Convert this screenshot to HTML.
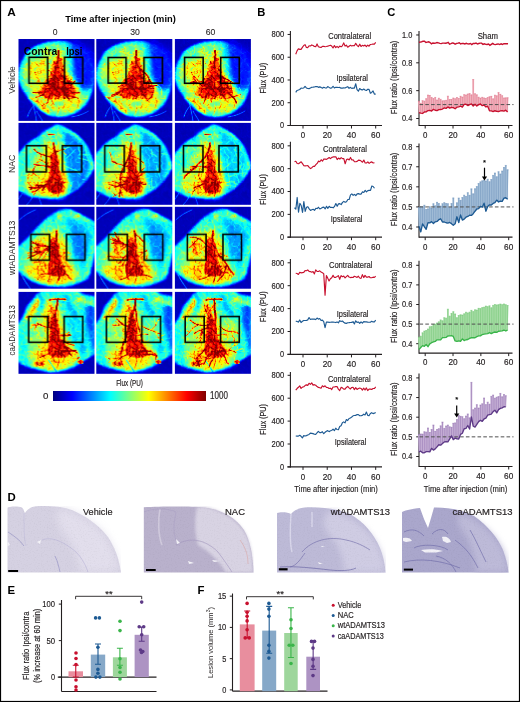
<!DOCTYPE html><html><head><meta charset="utf-8"><style>html,body{margin:0;padding:0;background:#fff;width:520px;height:702px;overflow:hidden}svg{display:block;font-family:"Liberation Sans",sans-serif;will-change:transform}</style></head><body>
<svg width="520" height="702" viewBox="0 0 520 702">
<defs>
<filter id="jet" x="0" y="0" width="1" height="1" color-interpolation-filters="sRGB">
<feTurbulence type="fractalNoise" baseFrequency="0.32" numOctaves="2" seed="4" result="n"/>
<feColorMatrix in="n" type="matrix" values="0.45 0 0 0 0.775 0.45 0 0 0 0.775 0.45 0 0 0 0.775 0 0 0 0 1" result="ng"/>
<feTurbulence type="fractalNoise" baseFrequency="0.13" numOctaves="2" seed="9" result="m"/>
<feColorMatrix in="m" type="matrix" values="0 0.45 0 0 0.775 0 0.45 0 0 0.775 0 0.45 0 0 0.775 0 0 0 0 1" result="mg"/>
<feComposite in="SourceGraphic" in2="ng" operator="arithmetic" k1="1" k2="0" k3="0" k4="0" result="s1"/>
<feComposite in="s1" in2="mg" operator="arithmetic" k1="1" k2="0" k3="0" k4="0" result="s2"/>
<feTurbulence type="turbulence" baseFrequency="0.15" numOctaves="2" seed="31" result="bt"/>
<feColorMatrix in="bt" type="matrix" values="-5 0 0 0 1 -5 0 0 0 1 -5 0 0 0 1 0 0 0 0 1" result="br"/>
<feComposite in="s2" in2="br" operator="arithmetic" k1="0.3" k2="1" k3="0" k4="0" result="s"/>
<feComponentTransfer in="s"><feFuncR type="table" tableValues="0 0 0 0 0 0 0 0.25 0.5 0.75 1 1 1 1 1 0.75 0.5"/><feFuncG type="table" tableValues="0 0 0 0.25 0.5 0.75 1 1 1 1 1 0.75 0.5 0.25 0 0 0"/><feFuncB type="table" tableValues="0.5 0.75 1 1 1 1 1 0.75 0.5 0.25 0 0 0 0 0 0 0"/><feFuncA type="linear" slope="0" intercept="1"/></feComponentTransfer>
<feGaussianBlur stdDeviation="0.45"/>
</filter>
<filter id="nzhi" x="-5" y="-5" width="90" height="95" filterUnits="userSpaceOnUse" color-interpolation-filters="sRGB">
<feTurbulence type="turbulence" baseFrequency="0.16" numOctaves="2" seed="5" result="t"/>
<feColorMatrix in="t" type="matrix" values="-4 0 0 0 1 -4 0 0 0 1 -4 0 0 0 1 0 0 0 0 1" result="rg"/>
<feComposite in="SourceGraphic" in2="rg" operator="arithmetic" k1="0.25" k2="1.0" k3="0" k4="0" result="s0"/>
<feTurbulence type="fractalNoise" baseFrequency="0.35" numOctaves="2" seed="17" result="n"/>
<feColorMatrix in="n" type="matrix" values="0.3 0 0 0 0.85 0.3 0 0 0 0.85 0.3 0 0 0 0.85 0 0 0 0 1" result="ng"/>
<feComposite in="s0" in2="ng" operator="arithmetic" k1="1" k2="0" k3="0" k4="0"/>
</filter>
<filter id="htex" x="0" y="0" width="1" height="1" color-interpolation-filters="sRGB"><feTurbulence type="fractalNoise" baseFrequency="0.7" numOctaves="2" seed="23" result="n"/><feColorMatrix in="n" type="matrix" values="0.1 0 0 0 0.95 0.1 0 0 0 0.95 0.1 0 0 0 0.95 0 0 0 0 1" result="ng"/><feComposite in="SourceGraphic" in2="ng" operator="arithmetic" k1="1" k2="0" k3="0" k4="0"/></filter>
<filter id="b0_6" x="-50%" y="-50%" width="200%" height="200%" color-interpolation-filters="sRGB"><feGaussianBlur stdDeviation="0.6"/></filter>
<filter id="b1" x="-50%" y="-50%" width="200%" height="200%" color-interpolation-filters="sRGB"><feGaussianBlur stdDeviation="1"/></filter>
<filter id="b1_5" x="-50%" y="-50%" width="200%" height="200%" color-interpolation-filters="sRGB"><feGaussianBlur stdDeviation="1.5"/></filter>
<filter id="b2" x="-50%" y="-50%" width="200%" height="200%" color-interpolation-filters="sRGB"><feGaussianBlur stdDeviation="2"/></filter>
<filter id="b3" x="-50%" y="-50%" width="200%" height="200%" color-interpolation-filters="sRGB"><feGaussianBlur stdDeviation="3"/></filter>
<filter id="b4" x="-50%" y="-50%" width="200%" height="200%" color-interpolation-filters="sRGB"><feGaussianBlur stdDeviation="4"/></filter>
<filter id="tb0_5" x="-10" y="-10" width="96" height="102" filterUnits="userSpaceOnUse" color-interpolation-filters="sRGB"><feGaussianBlur stdDeviation="0.5"/></filter>
<filter id="tb0_6" x="-10" y="-10" width="96" height="102" filterUnits="userSpaceOnUse" color-interpolation-filters="sRGB"><feGaussianBlur stdDeviation="0.6"/></filter>
<filter id="tb0_8" x="-10" y="-10" width="96" height="102" filterUnits="userSpaceOnUse" color-interpolation-filters="sRGB"><feGaussianBlur stdDeviation="0.8"/></filter>
<filter id="tb1" x="-10" y="-10" width="96" height="102" filterUnits="userSpaceOnUse" color-interpolation-filters="sRGB"><feGaussianBlur stdDeviation="1"/></filter>
<filter id="tb1_2" x="-10" y="-10" width="96" height="102" filterUnits="userSpaceOnUse" color-interpolation-filters="sRGB"><feGaussianBlur stdDeviation="1.2"/></filter>
<filter id="tb1_5" x="-10" y="-10" width="96" height="102" filterUnits="userSpaceOnUse" color-interpolation-filters="sRGB"><feGaussianBlur stdDeviation="1.5"/></filter>
<filter id="tb1_8" x="-10" y="-10" width="96" height="102" filterUnits="userSpaceOnUse" color-interpolation-filters="sRGB"><feGaussianBlur stdDeviation="1.8"/></filter>
<filter id="tb2" x="-10" y="-10" width="96" height="102" filterUnits="userSpaceOnUse" color-interpolation-filters="sRGB"><feGaussianBlur stdDeviation="2"/></filter>
<filter id="tb2_5" x="-10" y="-10" width="96" height="102" filterUnits="userSpaceOnUse" color-interpolation-filters="sRGB"><feGaussianBlur stdDeviation="2.5"/></filter>
<filter id="tb3" x="-10" y="-10" width="96" height="102" filterUnits="userSpaceOnUse" color-interpolation-filters="sRGB"><feGaussianBlur stdDeviation="3"/></filter>
<filter id="tb4" x="-10" y="-10" width="96" height="102" filterUnits="userSpaceOnUse" color-interpolation-filters="sRGB"><feGaussianBlur stdDeviation="4"/></filter>
<linearGradient id="jetg" x1="0" x2="1" y1="0" y2="0"><stop offset="0.0000" stop-color="rgb(0,0,127)"/><stop offset="0.0625" stop-color="rgb(0,0,191)"/><stop offset="0.1250" stop-color="rgb(0,0,255)"/><stop offset="0.1875" stop-color="rgb(0,63,255)"/><stop offset="0.2500" stop-color="rgb(0,127,255)"/><stop offset="0.3125" stop-color="rgb(0,191,255)"/><stop offset="0.3750" stop-color="rgb(0,255,255)"/><stop offset="0.4375" stop-color="rgb(63,255,191)"/><stop offset="0.5000" stop-color="rgb(127,255,127)"/><stop offset="0.5625" stop-color="rgb(191,255,63)"/><stop offset="0.6250" stop-color="rgb(255,255,0)"/><stop offset="0.6875" stop-color="rgb(255,191,0)"/><stop offset="0.7500" stop-color="rgb(255,127,0)"/><stop offset="0.8125" stop-color="rgb(255,63,0)"/><stop offset="0.8750" stop-color="rgb(255,0,0)"/><stop offset="0.9375" stop-color="rgb(191,0,0)"/><stop offset="1.0000" stop-color="rgb(127,0,0)"/></linearGradient>
</defs>
<rect x="0" y="0" width="520" height="702" fill="#fff"/>
<defs><clipPath id="cv"><path d="M24 10 C34 6 48 8 50 16 C50 30 52 40 64 48 C70 56 64 68 50 70 C40 72 24 70 12 62 C6 56 8 48 14 44 C20 40 22 20 24 10Z"/></clipPath><clipPath id="cn"><path d="M22 14 C30 10 40 14 44 24 C46 40 46 56 48 68 C44 76 30 76 14 74 C6 68 4 56 6 44 C8 32 14 20 22 14Z"/></clipPath><clipPath id="cw"><path d="M24 22 C34 18 44 22 48 34 C50 44 56 56 62 66 C56 76 30 78 12 72 C6 64 8 48 12 36 C14 28 18 24 24 22Z"/></clipPath><clipPath id="cnr"><path d="M45 8 C56 12 66 20 70 32 C74 44 68 58 58 66 C52 70 48 72 46 70Z"/></clipPath><clipPath id="call"><path d="M4 4 L72 4 L72 76 L4 76Z"/></clipPath><clipPath id="cc"><path d="M26 4 C36 2 46 6 48 20 C50 40 56 56 62 66 C54 76 34 78 14 74 C6 66 8 50 12 36 C16 24 20 10 26 4Z"/></clipPath></defs>
<g transform="translate(18.5,39)">
<svg width="76" height="81.9" viewBox="0 0 76 82" preserveAspectRatio="none" overflow="hidden"><g filter="url(#jet)"><rect width="76" height="82" fill="#0f0f0f"/>
<path d="M53 78 C58 77 64 76 70 72" fill="none" stroke="#4c4c4c" stroke-width="0.9" stroke-linecap="round" filter="url(#tb0_6)"/>
<path d="M14 62 C15 68 17 74 18 82 M16 66 C12 70 10 74 9 78 M18 72 C20 76 22 78 24 82" fill="none" stroke="#545454" stroke-width="0.8" stroke-linecap="round" filter="url(#tb0_6)"/>
<path d="M38 2 C56 1 72 14 75 32 C77 46 73 58 67 66 C59 75 48 79 38 78 C26 77 15 67 9 58 C3 50 -1 42 0 35 C1 23 7 14 14 9 C20 5 30 2 38 2Z" fill="#696969" filter="url(#tb0_8)" />
<path d="M36 6 C46 5 54 12 56 22 C58 36 56 48 66 56 C68 62 60 70 50 74 C40 76 28 72 18 62 C10 54 5 44 5 36 C6 24 12 14 20 10 C26 8 30 6 36 6Z" fill="#858585" filter="url(#tb1_5)" />
<path d="M10 48 C20 56 30 66 40 72 C50 74 62 68 68 58 C66 50 56 48 50 52 C40 56 30 50 20 44Z" fill="#999999" filter="url(#tb2)" />
<path d="M8 30 C12 22 18 18 26 20 C30 28 28 36 26 44 C20 46 12 44 8 40Z" fill="#9e9e9e" filter="url(#tb2)" />
<ellipse cx="16" cy="16" rx="8" ry="5" fill="#737373" filter="url(#tb2)"/>
<path d="M52 1 C62 3 72 10 78 20 L78 46 C72 52 64 52 58 48 C54 41 51 31 51 20Z" fill="#262626" filter="url(#tb3)" />
<ellipse cx="51" cy="28" rx="3.5" ry="17" fill="#616161" filter="url(#tb2)"/>
<ellipse cx="40" cy="65" rx="9" ry="4" fill="#787878" filter="url(#tb2)"/>
<g filter="url(#nzhi)">
<path d="M16 52 C22 42 28 38 30 30 C30 22 34 14 40 14 C46 14 48 22 48 30 C50 38 58 44 60 50 C62 56 56 61 48 60 C42 59 38 63 34 63 C28 63 20 60 17 56Z" fill="#b2b2b2" filter="url(#tb2_5)" />
<path d="M22 52 C26 44 32 40 34 32 C36 24 38 18 42 20 C46 26 46 34 48 40 C54 44 60 50 58 56 C54 60 46 58 42 60 C36 62 28 60 22 56Z" fill="#cccccc" filter="url(#tb1_5)" />
<path d="M24 50 C28 44 34 42 36 36 C38 30 40 28 42 30 C44 34 44 40 48 44 C52 48 54 52 52 55 C48 57 44 56 40 57 C34 58 28 56 24 54Z" fill="#e6e6e6" filter="url(#tb1_2)" />
<path d="M12 58 C18 62 24 66 30 72" fill="none" stroke="#cccccc" stroke-width="3" stroke-linecap="round" filter="url(#tb1)"/>
<path d="M46 62 L58 58 M48 68 L62 62 M40 70 L48 66 M22 68 L30 74 M30 64 L36 70 M52 72 L60 68" fill="none" stroke="#c7c7c7" stroke-width="2.2" stroke-linecap="round" filter="url(#tb0_8)"/>
<path d="M18 26 L26 22 M14 34 L24 32 M30 16 L26 10" fill="none" stroke="#bdbdbd" stroke-width="1.2" stroke-linecap="round" filter="url(#tb0_6)"/>
<g clip-path="url(#cv)"><g filter="url(#tb0_6)"><path d="M40.0 12.0 L40.1 14.5 L40.1 17.0 L39.4 19.4 L38.8 21.8 L38.2 24.3 L37.5 26.7 L37.2 29.1 L36.9 31.6 L36.4 34.1 L35.5 36.4 L35.2 38.9 L35.2 41.4 L35.8 43.8 L35.9 46.3 L35.7 48.8 L36.3 51.3" fill="none" stroke="#fafafa" stroke-width="1.80" stroke-linecap="round" stroke-linejoin="round"/><path d="M35.7 48.8 L38.3 49.4 L40.9 49.3 L43.5 49.8 L46.1 50.5 L48.5 51.6 L51.0 52.4 L53.4 53.3 L56.0 53.8 L58.6 53.9 L61.2 53.6" fill="none" stroke="#fafafa" stroke-width="1.26" stroke-linecap="round" stroke-linejoin="round"/><path d="M40.9 49.3 L42.9 51.5 L44.3 54.0 L46.3 56.1 L48.6 57.9 L50.5 60.1" fill="none" stroke="#fafafa" stroke-width="0.88" stroke-linecap="round" stroke-linejoin="round"/><path d="M35.5 36.4 L37.3 38.3 L38.6 40.5 L40.0 42.6 L40.9 45.0 L41.2 47.6 L42.2 49.9 L43.7 52.0 L44.6 54.4 L45.5 56.8 L45.7 59.4" fill="none" stroke="#fafafa" stroke-width="1.26" stroke-linecap="round" stroke-linejoin="round"/><path d="M43.7 52.0 L45.5 53.8 L47.5 55.4 L49.7 56.8 L52.1 57.5 L54.6 58.1" fill="none" stroke="#fafafa" stroke-width="0.88" stroke-linecap="round" stroke-linejoin="round"/><path d="M38.6 40.5 L41.0 42.3 L43.2 44.5 L45.6 46.2 L48.1 48.1" fill="none" stroke="#fafafa" stroke-width="0.88" stroke-linecap="round" stroke-linejoin="round"/><path d="M44.6 54.4 L47.2 55.4 L49.8 56.1 L52.5 56.6 L54.9 58.0 L57.6 58.5 L60.1 59.6" fill="none" stroke="#fafafa" stroke-width="0.88" stroke-linecap="round" stroke-linejoin="round"/><path d="M35.5 36.4 L37.0 38.7 L38.3 41.1 L40.1 43.2 L41.2 45.7 L42.8 47.9 L44.7 50.0 L46.2 52.2 L47.9 54.4" fill="none" stroke="#fafafa" stroke-width="1.26" stroke-linecap="round" stroke-linejoin="round"/><path d="M46.2 52.2 L48.6 53.5 L51.3 54.1 L54.1 54.4 L56.8 54.9" fill="none" stroke="#fafafa" stroke-width="0.88" stroke-linecap="round" stroke-linejoin="round"/><path d="M40.1 43.2 L39.5 45.8 L38.6 48.3 L38.1 50.9 L38.0 53.5" fill="none" stroke="#fafafa" stroke-width="0.88" stroke-linecap="round" stroke-linejoin="round"/></g></g>
<g clip-path="url(#cv)"><g filter="url(#tb0_6)"><path d="M38.0 50.0 L35.5 50.9 L32.9 51.6 L30.3 52.0 L27.7 52.5 L25.1 53.4 L22.5 53.8 L19.9 53.8 L17.2 53.7 L14.5 53.7" fill="none" stroke="#fafafa" stroke-width="1.60" stroke-linecap="round" stroke-linejoin="round"/><path d="M35.5 50.9 L34.0 53.4 L32.2 55.5 L30.6 58.0 L29.5 60.6 L29.2 63.5" fill="none" stroke="#fafafa" stroke-width="1.12" stroke-linecap="round" stroke-linejoin="round"/><path d="M29.2 63.5 L27.7 65.5 L26.6 67.8 L25.0 69.8" fill="none" stroke="#fafafa" stroke-width="0.78" stroke-linecap="round" stroke-linejoin="round"/><path d="M30.6 58.0 L32.7 60.3 L34.1 63.1 L35.6 65.8" fill="none" stroke="#fafafa" stroke-width="0.78" stroke-linecap="round" stroke-linejoin="round"/><path d="M29.2 63.5 L26.2 65.2 L23.2 67.0" fill="none" stroke="#fafafa" stroke-width="0.78" stroke-linecap="round" stroke-linejoin="round"/><path d="M27.7 52.5 L25.6 54.7 L23.1 56.3 L20.3 57.6 L17.4 58.4" fill="none" stroke="#fafafa" stroke-width="1.12" stroke-linecap="round" stroke-linejoin="round"/><path d="M25.6 54.7 L22.8 52.9 L19.8 51.7" fill="none" stroke="#fafafa" stroke-width="0.78" stroke-linecap="round" stroke-linejoin="round"/></g></g>
<g clip-path="url(#cv)"><g filter="url(#tb0_6)"><path d="M41.0 50.0 L43.7 49.6 L46.3 48.6 L48.8 47.4 L51.4 46.5 L53.7 45.1 L55.7 43.2 L57.3 41.0 L59.2 39.0" fill="none" stroke="#fafafa" stroke-width="1.60" stroke-linecap="round" stroke-linejoin="round"/><path d="M43.7 49.6 L44.1 47.1 L44.3 44.5 L45.3 42.1 L45.7 39.6 L45.3 37.0" fill="none" stroke="#fafafa" stroke-width="1.12" stroke-linecap="round" stroke-linejoin="round"/><path d="M45.3 42.1 L42.9 39.6 L40.2 37.4" fill="none" stroke="#fafafa" stroke-width="0.78" stroke-linecap="round" stroke-linejoin="round"/><path d="M44.3 44.5 L46.6 43.4 L49.0 42.7 L51.3 41.8" fill="none" stroke="#fafafa" stroke-width="0.78" stroke-linecap="round" stroke-linejoin="round"/><path d="M44.3 44.5 L41.3 44.6 L38.4 44.2 L35.6 43.2" fill="none" stroke="#fafafa" stroke-width="0.78" stroke-linecap="round" stroke-linejoin="round"/><path d="M51.4 46.5 L50.0 44.1 L48.7 41.6 L47.1 39.4 L45.0 37.6 L42.6 36.1" fill="none" stroke="#fafafa" stroke-width="1.12" stroke-linecap="round" stroke-linejoin="round"/><path d="M42.6 36.1 L42.0 33.3 L40.9 30.7 L40.3 27.9" fill="none" stroke="#fafafa" stroke-width="0.78" stroke-linecap="round" stroke-linejoin="round"/><path d="M50.0 44.1 L51.2 41.7 L53.0 39.6 L54.4 37.3" fill="none" stroke="#fafafa" stroke-width="0.78" stroke-linecap="round" stroke-linejoin="round"/></g></g>
<g clip-path="url(#cv)"><g filter="url(#tb0_6)"><path d="M38.0 36.0 L35.6 37.4 L33.5 39.3 L31.7 41.5 L29.5 43.2 L27.2 44.8" fill="none" stroke="#f7f7f7" stroke-width="1.10" stroke-linecap="round" stroke-linejoin="round"/><path d="M27.2 44.8 L24.4 44.1 L21.7 42.9 L19.1 41.4" fill="none" stroke="#f7f7f7" stroke-width="0.77" stroke-linecap="round" stroke-linejoin="round"/><path d="M35.6 37.4 L33.7 34.8 L31.5 32.4 L29.0 30.4" fill="none" stroke="#f7f7f7" stroke-width="0.77" stroke-linecap="round" stroke-linejoin="round"/></g></g>
</g>
</g>
<rect x="10.5" y="18.3" width="18.7" height="26" fill="none" stroke="#000" stroke-width="1.6"/>
<rect x="46" y="18.3" width="18.3" height="26" fill="none" stroke="#000" stroke-width="1.6"/>
</svg></g>
<g transform="translate(96.3,39)">
<svg width="76" height="81.9" viewBox="0 0 76 82" preserveAspectRatio="none" overflow="hidden"><g filter="url(#jet)"><rect width="76" height="82" fill="#0f0f0f"/>
<path d="M53 78 C58 77 64 76 70 72" fill="none" stroke="#4c4c4c" stroke-width="0.9" stroke-linecap="round" filter="url(#tb0_6)"/>
<path d="M14 62 C15 68 17 74 18 82 M16 66 C12 70 10 74 9 78 M18 72 C20 76 22 78 24 82" fill="none" stroke="#545454" stroke-width="0.8" stroke-linecap="round" filter="url(#tb0_6)"/>
<path d="M38 2 C56 1 72 14 75 32 C77 46 73 58 67 66 C59 75 48 79 38 78 C26 77 15 67 9 58 C3 50 -1 42 0 35 C1 23 7 14 14 9 C20 5 30 2 38 2Z" fill="#696969" filter="url(#tb0_8)" />
<path d="M36 6 C46 5 54 12 56 22 C58 36 56 48 66 56 C68 62 60 70 50 74 C40 76 28 72 18 62 C10 54 5 44 5 36 C6 24 12 14 20 10 C26 8 30 6 36 6Z" fill="#858585" filter="url(#tb1_5)" />
<path d="M10 48 C20 56 30 66 40 72 C50 74 62 68 68 58 C66 50 56 48 50 52 C40 56 30 50 20 44Z" fill="#999999" filter="url(#tb2)" />
<path d="M8 30 C12 22 18 18 26 20 C30 28 28 36 26 44 C20 46 12 44 8 40Z" fill="#9e9e9e" filter="url(#tb2)" />
<ellipse cx="16" cy="16" rx="8" ry="5" fill="#737373" filter="url(#tb2)"/>
<path d="M52 1 C62 3 72 10 78 20 L78 46 C72 52 64 52 58 48 C54 41 51 31 51 20Z" fill="#262626" filter="url(#tb3)" />
<ellipse cx="51" cy="28" rx="3.5" ry="17" fill="#616161" filter="url(#tb2)"/>
<ellipse cx="40" cy="65" rx="9" ry="4" fill="#787878" filter="url(#tb2)"/>
<g filter="url(#nzhi)">
<path d="M16 52 C22 42 28 38 30 30 C30 22 34 14 40 14 C46 14 48 22 48 30 C50 38 58 44 60 50 C62 56 56 61 48 60 C42 59 38 63 34 63 C28 63 20 60 17 56Z" fill="#b2b2b2" filter="url(#tb2_5)" />
<path d="M22 52 C26 44 32 40 34 32 C36 24 38 18 42 20 C46 26 46 34 48 40 C54 44 60 50 58 56 C54 60 46 58 42 60 C36 62 28 60 22 56Z" fill="#cccccc" filter="url(#tb1_5)" />
<path d="M24 50 C28 44 34 42 36 36 C38 30 40 28 42 30 C44 34 44 40 48 44 C52 48 54 52 52 55 C48 57 44 56 40 57 C34 58 28 56 24 54Z" fill="#e6e6e6" filter="url(#tb1_2)" />
<path d="M12 58 C18 62 24 66 30 72" fill="none" stroke="#cccccc" stroke-width="3" stroke-linecap="round" filter="url(#tb1)"/>
<path d="M46 62 L58 58 M48 68 L62 62 M40 70 L48 66 M22 68 L30 74 M30 64 L36 70 M52 72 L60 68" fill="none" stroke="#c7c7c7" stroke-width="2.2" stroke-linecap="round" filter="url(#tb0_8)"/>
<path d="M18 26 L26 22 M14 34 L24 32 M30 16 L26 10" fill="none" stroke="#bdbdbd" stroke-width="1.2" stroke-linecap="round" filter="url(#tb0_6)"/>
<g clip-path="url(#cv)"><g filter="url(#tb0_6)"><path d="M40.0 12.0 L40.0 14.5 L39.8 17.0 L39.4 19.5 L39.5 22.0 L40.3 24.3 L41.3 26.6 L42.6 28.8 L43.4 31.1 L44.0 33.5 L44.5 36.0 L44.8 38.5 L44.9 41.0 L45.6 43.4 L46.3 45.8 L47.5 48.0 L48.1 50.4" fill="none" stroke="#fafafa" stroke-width="1.80" stroke-linecap="round" stroke-linejoin="round"/><path d="M42.6 28.8 L44.7 30.3 L46.4 32.3 L48.6 33.7 L50.4 35.6 L51.8 37.8 L52.9 40.2 L54.4 42.3 L55.3 44.8 L56.2 47.2 L57.3 49.6" fill="none" stroke="#fafafa" stroke-width="1.26" stroke-linecap="round" stroke-linejoin="round"/><path d="M48.6 33.7 L46.6 35.3 L44.2 36.3 L41.9 37.3 L39.5 38.3 L37.4 39.8 L35.3 41.2" fill="none" stroke="#fafafa" stroke-width="0.88" stroke-linecap="round" stroke-linejoin="round"/><path d="M57.3 49.6 L57.1 52.5 L56.5 55.3 L55.2 57.8 L53.2 59.9 L51.0 61.7" fill="none" stroke="#fafafa" stroke-width="0.88" stroke-linecap="round" stroke-linejoin="round"/><path d="M52.9 40.2 L51.5 42.7 L50.6 45.4 L49.8 48.2 L49.3 51.0 L48.7 53.8" fill="none" stroke="#fafafa" stroke-width="0.88" stroke-linecap="round" stroke-linejoin="round"/></g></g>
<g clip-path="url(#cv)"><g filter="url(#tb0_6)"><path d="M38.0 50.0 L35.4 49.7 L32.7 49.9 L30.2 50.9 L27.6 51.2 L25.0 51.9 L22.7 53.2 L20.2 54.2 L17.9 55.5 L15.3 56.2" fill="none" stroke="#fafafa" stroke-width="1.60" stroke-linecap="round" stroke-linejoin="round"/><path d="M25.0 51.9 L22.9 53.9 L20.6 55.6 L18.0 56.8 L15.2 57.6 L12.8 59.1" fill="none" stroke="#fafafa" stroke-width="1.12" stroke-linecap="round" stroke-linejoin="round"/><path d="M12.8 59.1 L9.5 57.6 L6.3 56.0" fill="none" stroke="#fafafa" stroke-width="0.78" stroke-linecap="round" stroke-linejoin="round"/><path d="M35.4 49.7 L33.7 47.1 L31.7 44.7 L30.2 42.0 L29.4 39.0" fill="none" stroke="#fafafa" stroke-width="1.12" stroke-linecap="round" stroke-linejoin="round"/><path d="M30.2 42.0 L31.7 39.4 L33.2 36.7" fill="none" stroke="#fafafa" stroke-width="0.78" stroke-linecap="round" stroke-linejoin="round"/><path d="M33.7 47.1 L36.7 45.2 L39.6 43.1" fill="none" stroke="#fafafa" stroke-width="0.78" stroke-linecap="round" stroke-linejoin="round"/></g></g>
<g clip-path="url(#cv)"><g filter="url(#tb0_6)"><path d="M41.0 50.0 L43.7 49.7 L46.4 49.0 L48.9 47.9 L51.6 47.5 L54.4 47.1 L57.1 47.0 L59.8 46.3 L62.4 45.6" fill="none" stroke="#fafafa" stroke-width="1.60" stroke-linecap="round" stroke-linejoin="round"/><path d="M62.4 45.6 L64.0 47.6 L65.6 49.6 L67.2 51.6 L68.5 53.9 L70.1 55.9" fill="none" stroke="#fafafa" stroke-width="1.12" stroke-linecap="round" stroke-linejoin="round"/><path d="M65.6 49.6 L65.1 52.7 L65.3 55.8" fill="none" stroke="#fafafa" stroke-width="0.78" stroke-linecap="round" stroke-linejoin="round"/><path d="M65.6 49.6 L66.9 52.3 L68.4 54.9" fill="none" stroke="#fafafa" stroke-width="0.78" stroke-linecap="round" stroke-linejoin="round"/></g></g>
<g clip-path="url(#cv)"><g filter="url(#tb0_6)"><path d="M38.0 36.0 L35.4 37.1 L33.2 38.8 L31.3 40.8 L29.7 43.1 L27.8 45.2" fill="none" stroke="#f7f7f7" stroke-width="1.10" stroke-linecap="round" stroke-linejoin="round"/><path d="M27.8 45.2 L24.9 46.7 L21.8 48.0" fill="none" stroke="#f7f7f7" stroke-width="0.77" stroke-linecap="round" stroke-linejoin="round"/></g></g>
</g>
</g>
<rect x="11.9" y="18.5" width="17.9" height="25.6" fill="none" stroke="#000" stroke-width="1.6"/>
<rect x="47.7" y="18.5" width="18.5" height="25.6" fill="none" stroke="#000" stroke-width="1.6"/>
</svg></g>
<g transform="translate(174.9,39)">
<svg width="76" height="81.9" viewBox="0 0 76 82" preserveAspectRatio="none" overflow="hidden"><g filter="url(#jet)"><rect width="76" height="82" fill="#0f0f0f"/>
<path d="M53 78 C58 77 64 76 70 72" fill="none" stroke="#4c4c4c" stroke-width="0.9" stroke-linecap="round" filter="url(#tb0_6)"/>
<path d="M14 62 C15 68 17 74 18 82 M16 66 C12 70 10 74 9 78 M18 72 C20 76 22 78 24 82" fill="none" stroke="#545454" stroke-width="0.8" stroke-linecap="round" filter="url(#tb0_6)"/>
<path d="M38 2 C56 1 72 14 75 32 C77 46 73 58 67 66 C59 75 48 79 38 78 C26 77 15 67 9 58 C3 50 -1 42 0 35 C1 23 7 14 14 9 C20 5 30 2 38 2Z" fill="#696969" filter="url(#tb0_8)" />
<path d="M36 6 C46 5 54 12 56 22 C58 36 56 48 66 56 C68 62 60 70 50 74 C40 76 28 72 18 62 C10 54 5 44 5 36 C6 24 12 14 20 10 C26 8 30 6 36 6Z" fill="#858585" filter="url(#tb1_5)" />
<path d="M10 48 C20 56 30 66 40 72 C50 74 62 68 68 58 C66 50 56 48 50 52 C40 56 30 50 20 44Z" fill="#999999" filter="url(#tb2)" />
<path d="M8 30 C12 22 18 18 26 20 C30 28 28 36 26 44 C20 46 12 44 8 40Z" fill="#9e9e9e" filter="url(#tb2)" />
<ellipse cx="16" cy="16" rx="8" ry="5" fill="#737373" filter="url(#tb2)"/>
<path d="M52 1 C62 3 72 10 78 20 L78 46 C72 52 64 52 58 48 C54 41 51 31 51 20Z" fill="#262626" filter="url(#tb3)" />
<ellipse cx="51" cy="28" rx="3.5" ry="17" fill="#616161" filter="url(#tb2)"/>
<ellipse cx="40" cy="65" rx="9" ry="4" fill="#787878" filter="url(#tb2)"/>
<g filter="url(#nzhi)">
<path d="M16 52 C22 42 28 38 30 30 C30 22 34 14 40 14 C46 14 48 22 48 30 C50 38 58 44 60 50 C62 56 56 61 48 60 C42 59 38 63 34 63 C28 63 20 60 17 56Z" fill="#b2b2b2" filter="url(#tb2_5)" />
<path d="M22 52 C26 44 32 40 34 32 C36 24 38 18 42 20 C46 26 46 34 48 40 C54 44 60 50 58 56 C54 60 46 58 42 60 C36 62 28 60 22 56Z" fill="#cccccc" filter="url(#tb1_5)" />
<path d="M24 50 C28 44 34 42 36 36 C38 30 40 28 42 30 C44 34 44 40 48 44 C52 48 54 52 52 55 C48 57 44 56 40 57 C34 58 28 56 24 54Z" fill="#e6e6e6" filter="url(#tb1_2)" />
<path d="M12 58 C18 62 24 66 30 72" fill="none" stroke="#cccccc" stroke-width="3" stroke-linecap="round" filter="url(#tb1)"/>
<path d="M46 62 L58 58 M48 68 L62 62 M40 70 L48 66 M22 68 L30 74 M30 64 L36 70 M52 72 L60 68" fill="none" stroke="#c7c7c7" stroke-width="2.2" stroke-linecap="round" filter="url(#tb0_8)"/>
<path d="M18 26 L26 22 M14 34 L24 32 M30 16 L26 10" fill="none" stroke="#bdbdbd" stroke-width="1.2" stroke-linecap="round" filter="url(#tb0_6)"/>
<g clip-path="url(#cv)"><g filter="url(#tb0_6)"><path d="M40.0 12.0 L40.4 14.5 L40.4 17.0 L40.3 19.5 L39.5 21.9 L39.3 24.4 L39.5 26.8 L40.1 29.3 L41.2 31.5 L41.9 33.9 L43.2 36.1 L44.4 38.3 L46.0 40.2 L47.7 42.0 L49.6 43.6 L51.1 45.6 L52.4 47.7" fill="none" stroke="#fafafa" stroke-width="1.80" stroke-linecap="round" stroke-linejoin="round"/><path d="M41.9 33.9 L43.8 35.7 L46.0 37.1 L48.2 38.5 L50.4 39.9 L52.9 40.7 L55.1 42.0 L57.4 43.2 L59.9 43.9 L62.1 45.3 L64.3 46.7" fill="none" stroke="#fafafa" stroke-width="1.26" stroke-linecap="round" stroke-linejoin="round"/><path d="M55.1 42.0 L55.7 44.6 L56.1 47.2 L56.4 49.9 L57.0 52.5 L57.7 55.0 L58.2 57.6" fill="none" stroke="#fafafa" stroke-width="0.88" stroke-linecap="round" stroke-linejoin="round"/><path d="M48.2 38.5 L49.0 41.3 L50.4 43.9 L51.7 46.5 L53.4 48.9 L55.1 51.2" fill="none" stroke="#fafafa" stroke-width="0.88" stroke-linecap="round" stroke-linejoin="round"/><path d="M64.3 46.7 L65.0 49.1 L66.2 51.3 L67.6 53.3 L69.5 55.1 L71.4 56.6" fill="none" stroke="#fafafa" stroke-width="0.88" stroke-linecap="round" stroke-linejoin="round"/></g></g>
<g clip-path="url(#cv)"><g filter="url(#tb0_6)"><path d="M38.0 50.0 L35.3 49.7 L32.9 48.8 L30.7 47.3 L28.2 46.4 L25.7 45.3 L23.2 44.3 L20.7 43.4 L18.1 42.9 L15.4 43.0" fill="none" stroke="#fafafa" stroke-width="1.60" stroke-linecap="round" stroke-linejoin="round"/><path d="M35.3 49.7 L34.5 52.3 L33.0 54.5 L31.5 56.8 L30.6 59.3 L29.6 61.8 L28.7 64.4" fill="none" stroke="#fafafa" stroke-width="1.12" stroke-linecap="round" stroke-linejoin="round"/><path d="M33.0 54.5 L34.7 57.4 L35.6 60.6 L36.8 63.7" fill="none" stroke="#fafafa" stroke-width="0.78" stroke-linecap="round" stroke-linejoin="round"/><path d="M23.2 44.3 L21.4 42.6 L19.5 40.9 L17.8 39.0 L16.3 36.9 L14.7 35.0" fill="none" stroke="#fafafa" stroke-width="1.12" stroke-linecap="round" stroke-linejoin="round"/><path d="M19.5 40.9 L16.9 41.0 L14.3 40.9 L11.7 41.5" fill="none" stroke="#fafafa" stroke-width="0.78" stroke-linecap="round" stroke-linejoin="round"/><path d="M16.3 36.9 L13.5 37.5 L10.6 37.9 L7.9 39.0" fill="none" stroke="#fafafa" stroke-width="0.78" stroke-linecap="round" stroke-linejoin="round"/><path d="M25.7 45.3 L24.3 43.0 L22.4 41.0 L20.7 38.9 L18.6 37.3 L16.7 35.3" fill="none" stroke="#fafafa" stroke-width="1.12" stroke-linecap="round" stroke-linejoin="round"/><path d="M22.4 41.0 L23.2 38.1 L24.7 35.4 L25.7 32.5" fill="none" stroke="#fafafa" stroke-width="0.78" stroke-linecap="round" stroke-linejoin="round"/><path d="M24.3 43.0 L20.8 44.4 L17.7 46.3" fill="none" stroke="#fafafa" stroke-width="0.78" stroke-linecap="round" stroke-linejoin="round"/><path d="M24.3 43.0 L21.3 43.9 L18.2 43.9 L15.2 43.4" fill="none" stroke="#fafafa" stroke-width="0.78" stroke-linecap="round" stroke-linejoin="round"/></g></g>
<g clip-path="url(#cv)"><g filter="url(#tb0_6)"><path d="M41.0 50.0 L43.7 50.5 L46.3 51.3 L48.8 52.5 L51.4 53.4 L53.9 54.5 L56.1 56.2 L57.8 58.3 L59.9 60.1" fill="none" stroke="#fafafa" stroke-width="1.60" stroke-linecap="round" stroke-linejoin="round"/><path d="M59.9 60.1 L60.9 62.6 L62.1 65.1 L63.2 67.6 L63.8 70.2 L63.9 72.9" fill="none" stroke="#fafafa" stroke-width="1.12" stroke-linecap="round" stroke-linejoin="round"/><path d="M63.2 67.6 L61.5 69.8 L60.4 72.4 L58.6 74.5" fill="none" stroke="#fafafa" stroke-width="0.78" stroke-linecap="round" stroke-linejoin="round"/><path d="M63.2 67.6 L66.4 68.0 L69.5 68.8" fill="none" stroke="#fafafa" stroke-width="0.78" stroke-linecap="round" stroke-linejoin="round"/><path d="M62.1 65.1 L59.5 67.6 L56.8 70.1" fill="none" stroke="#fafafa" stroke-width="0.78" stroke-linecap="round" stroke-linejoin="round"/><path d="M57.8 58.3 L60.5 57.1 L63.3 56.1 L66.2 55.4 L69.1 55.4 L71.9 54.5" fill="none" stroke="#fafafa" stroke-width="1.12" stroke-linecap="round" stroke-linejoin="round"/><path d="M60.5 57.1 L63.2 57.5 L65.8 58.4 L68.2 59.6" fill="none" stroke="#fafafa" stroke-width="0.78" stroke-linecap="round" stroke-linejoin="round"/></g></g>
<g clip-path="url(#cv)"><g filter="url(#tb0_6)"><path d="M38.0 36.0 L35.9 37.9 L33.7 39.6 L31.8 41.6 L30.0 43.8 L28.0 45.7" fill="none" stroke="#f7f7f7" stroke-width="1.10" stroke-linecap="round" stroke-linejoin="round"/><path d="M30.0 43.8 L27.4 43.1 L24.9 42.2 L22.7 40.6" fill="none" stroke="#f7f7f7" stroke-width="0.77" stroke-linecap="round" stroke-linejoin="round"/></g></g>
</g>
</g>
<rect x="9.6" y="18.4" width="18.6" height="25.9" fill="none" stroke="#000" stroke-width="1.6"/>
<rect x="45.7" y="18.4" width="18.6" height="25.9" fill="none" stroke="#000" stroke-width="1.6"/>
</svg></g>
<g transform="translate(18.5,122.9)">
<svg width="76" height="81.9" viewBox="0 0 76 82" preserveAspectRatio="none" overflow="hidden"><g filter="url(#jet)"><rect width="76" height="82" fill="#0f0f0f"/>
<path d="M38 1 C44 3 52 8 58 12 C64 17 68 24 72 34 C76 40 76 44 74 48 C70 56 64 62 56 68 C48 72 42 74 38 74 C28 76 16 75 12 74 C6 72 2 68 -1 66 L-1 32 C2 28 6 23 12 18 C20 14 26 10 32 5Z" fill="#696969" filter="url(#tb0_8)" />
<path d="M14 74 C12 78 10 80 8 82 M20 74 C22 78 22 80 23 82 M4 70 C2 74 0 76 -1 78" fill="none" stroke="#4c4c4c" stroke-width="0.8" stroke-linecap="round" filter="url(#tb0_6)"/>
<path d="M8 46 C12 36 20 28 28 24 C34 20 40 16 42 14 C44 24 46 40 48 56 C48 66 44 72 38 73 C26 74 14 72 8 66 C6 60 6 52 8 46Z" fill="#878787" filter="url(#tb2)" />
<path d="M-1 32 C4 40 7 55 7 68 L-1 68Z" fill="#6b6b6b" filter="url(#tb1_5)" />
<ellipse cx="34" cy="14" rx="12" ry="7" fill="#737373" filter="url(#tb2)"/>
<ellipse cx="16" cy="27" rx="9" ry="4" fill="#787878" filter="url(#tb2)"/>
<path d="M10 50 C18 52 28 54 38 58 C42 66 38 72 30 72 C20 72 12 68 8 62Z" fill="#999999" filter="url(#tb2)" />
<path d="M46 8 C56 12 66 20 70 32 C74 44 68 58 58 66 C52 70 48 72 47 70 C45 56 45 30 46 8Z" fill="#424242" filter="url(#tb1_8)" />
<path d="M42 4 C52 8 62 14 68 24 C72 32 74 40 74 46" fill="none" stroke="#707070" stroke-width="2.4" stroke-linecap="round" filter="url(#tb1)"/>
<g clip-path="url(#cnr)"><path d="M60.3 31.9 Q66.4 31.6 69.8 32.0 M59.9 22.4 Q59.6 26.1 62.1 31.8 M48.3 59.2 Q49.3 65.5 48.2 70.3 M53.1 60.1 Q50.8 67.2 50.4 75.4 M47.6 55.8 Q44.4 64.0 42.2 68.9 M64.0 56.3 Q72.9 58.0 78.2 57.9 M56.7 46.1 Q60.9 49.7 61.9 52.1 M67.0 26.4 Q67.6 33.3 71.0 40.0 M56.9 26.5 Q52.0 31.9 47.9 35.3 M69.5 18.7 Q64.8 17.6 60.8 18.8 M47.3 43.4 Q54.6 46.8 58.4 47.8 M50.2 24.1 Q47.2 25.9 40.1 28.9 M59.8 34.9 Q65.1 35.9 70.3 37.9 M69.8 50.8 Q70.7 51.1 74.9 54.2 " fill="none" stroke="#787878" stroke-width="0.9" stroke-linecap="round" filter="url(#tb0_6)"/></g>
<g transform="translate(3,0)"><path d="M24 18 C34 20 44 34 44 48 C48 56 50 66 42 74 C30 76 16 72 16 62 C18 54 24 46 24 36Z" fill="#ababab" filter="url(#tb2_5)" /></g>
<g filter="url(#nzhi)">
<g transform="translate(3,0)"><path d="M30 22 C36 24 40 36 40 48 C44 56 46 66 40 72 C32 74 24 70 24 62 C26 54 30 46 30 36Z" fill="#c2c2c2" filter="url(#tb1_2)" /></g>
<g transform="translate(3,0)"><path d="M28 30 C34 32 38 42 38 50 C42 56 44 64 40 70 C34 72 26 70 24 64 C24 56 30 50 28 42Z" fill="#dbdbdb" filter="url(#tb1_2)" /></g>
<g transform="translate(3,0)"><ellipse cx="33" cy="62" rx="7" ry="7" fill="#ebebeb" filter="url(#tb1_5)"/></g>
<g transform="translate(3,0)"><path d="M27 11.5 L33 11.5" fill="none" stroke="#f2f2f2" stroke-width="1.4" stroke-linecap="round" filter="url(#tb0_6)"/></g>
<g transform="translate(3,0)"><g clip-path="url(#cn)"><g filter="url(#tb0_6)"><path d="M32.0 20.0 L32.3 22.6 L32.7 25.2 L33.4 27.6 L33.8 30.2 L34.5 32.7 L35.1 35.2 L35.2 37.8 L35.4 40.4 L35.0 43.0 L34.3 45.5 L33.6 48.0 L32.6 50.4 L31.6 52.8 L30.8 55.3 L29.4 57.5 L28.1 59.7 L26.2 61.6 L24.1 63.1 L22.4 65.1 L21.0 67.2" fill="none" stroke="#fafafa" stroke-width="1.90" stroke-linecap="round" stroke-linejoin="round"/><path d="M35.1 35.2 L32.5 35.2 L30.0 34.6 L27.6 33.7 L25.1 33.2 L22.7 32.4 L20.3 31.6 L18.0 30.4 L15.7 29.3 L13.7 27.7 L12.1 25.7 L10.8 23.5" fill="none" stroke="#fafafa" stroke-width="1.33" stroke-linecap="round" stroke-linejoin="round"/><path d="M27.6 33.7 L29.7 31.7 L32.1 30.1 L34.9 29.1 L37.5 27.9 L40.2 26.7 L43.1 26.2" fill="none" stroke="#fafafa" stroke-width="0.93" stroke-linecap="round" stroke-linejoin="round"/><path d="M40.2 26.7 L41.7 28.7 L43.2 30.7 L45.2 32.2 L47.3 33.7" fill="none" stroke="#fafafa" stroke-width="0.65" stroke-linecap="round" stroke-linejoin="round"/><path d="M40.2 26.7 L41.2 23.9 L42.3 21.1 L43.4 18.3 L44.9 15.8" fill="none" stroke="#fafafa" stroke-width="0.65" stroke-linecap="round" stroke-linejoin="round"/><path d="M24.1 63.1 L21.5 63.1 L18.9 63.7 L16.3 64.2 L13.7 64.6 L11.1 64.8 L8.5 64.7 L5.8 64.8 L3.2 64.7 L0.6 64.5" fill="none" stroke="#fafafa" stroke-width="1.33" stroke-linecap="round" stroke-linejoin="round"/><path d="M0.6 64.5 L-1.7 65.6 L-3.9 66.8 L-5.9 68.3 L-7.7 70.0 L-9.8 71.5" fill="none" stroke="#fafafa" stroke-width="0.93" stroke-linecap="round" stroke-linejoin="round"/><path d="M-7.7 70.0 L-8.7 72.7 L-9.1 75.4 L-9.4 78.2" fill="none" stroke="#fafafa" stroke-width="0.65" stroke-linecap="round" stroke-linejoin="round"/><path d="M-1.7 65.6 L-1.9 68.2 L-2.1 70.9 L-3.0 73.4" fill="none" stroke="#fafafa" stroke-width="0.65" stroke-linecap="round" stroke-linejoin="round"/><path d="M11.1 64.8 L9.2 62.9 L7.5 60.8 L5.6 58.9 L4.0 56.7 L3.0 54.1" fill="none" stroke="#fafafa" stroke-width="0.93" stroke-linecap="round" stroke-linejoin="round"/><path d="M4.0 56.7 L5.9 53.4 L8.4 50.7" fill="none" stroke="#fafafa" stroke-width="0.65" stroke-linecap="round" stroke-linejoin="round"/><path d="M5.6 58.9 L6.3 56.1 L7.1 53.3 L7.3 50.5" fill="none" stroke="#fafafa" stroke-width="0.65" stroke-linecap="round" stroke-linejoin="round"/><path d="M7.5 60.8 L9.4 58.0 L10.7 54.8" fill="none" stroke="#fafafa" stroke-width="0.65" stroke-linecap="round" stroke-linejoin="round"/><path d="M24.1 63.1 L21.7 63.6 L19.3 64.4 L16.8 64.6 L14.3 65.1 L11.8 65.7 L9.3 66.1 L6.8 66.3 L4.3 66.0 L1.8 65.6 L-0.7 65.4 L-3.1 64.6 L-5.6 64.5" fill="none" stroke="#fafafa" stroke-width="1.33" stroke-linecap="round" stroke-linejoin="round"/><path d="M1.8 65.6 L-0.3 67.3 L-2.8 68.7 L-5.4 69.6 L-8.1 69.9 L-10.9 69.7 L-13.6 69.1 L-16.4 69.3" fill="none" stroke="#fafafa" stroke-width="0.93" stroke-linecap="round" stroke-linejoin="round"/><path d="M-16.4 69.3 L-18.6 66.9 L-20.8 64.7 L-23.3 62.8" fill="none" stroke="#fafafa" stroke-width="0.65" stroke-linecap="round" stroke-linejoin="round"/><path d="M-0.3 67.3 L-2.1 64.8 L-4.4 62.8 L-6.6 60.7" fill="none" stroke="#fafafa" stroke-width="0.65" stroke-linecap="round" stroke-linejoin="round"/><path d="M-0.7 65.4 L-2.4 67.4 L-4.1 69.5 L-6.2 71.1 L-8.5 72.3 L-10.8 73.7 L-13.2 74.7 L-15.9 75.2" fill="none" stroke="#fafafa" stroke-width="0.93" stroke-linecap="round" stroke-linejoin="round"/><path d="M-4.1 69.5 L-5.4 71.8 L-6.3 74.3 L-7.1 76.8 L-7.9 79.3" fill="none" stroke="#fafafa" stroke-width="0.65" stroke-linecap="round" stroke-linejoin="round"/><path d="M-2.4 67.4 L-3.7 69.8 L-5.4 72.0 L-7.0 74.2 L-8.0 76.8" fill="none" stroke="#fafafa" stroke-width="0.65" stroke-linecap="round" stroke-linejoin="round"/><path d="M-4.1 69.5 L-5.6 71.5 L-6.7 73.8 L-8.2 75.8 L-10.0 77.7 L-11.3 79.8" fill="none" stroke="#fafafa" stroke-width="0.65" stroke-linecap="round" stroke-linejoin="round"/><path d="M21.7 63.6 L19.2 64.9 L17.1 66.6 L14.7 68.0 L12.2 68.9 L9.5 69.5 L6.9 70.5 L4.3 71.2" fill="none" stroke="#fafafa" stroke-width="0.93" stroke-linecap="round" stroke-linejoin="round"/><path d="M14.7 68.0 L13.4 70.6 L12.3 73.3 L10.9 75.9" fill="none" stroke="#fafafa" stroke-width="0.65" stroke-linecap="round" stroke-linejoin="round"/><path d="M19.2 64.9 L17.2 63.3 L15.1 61.9 L13.1 60.3 L11.6 58.2 L10.5 55.8" fill="none" stroke="#fafafa" stroke-width="0.65" stroke-linecap="round" stroke-linejoin="round"/><path d="M12.2 68.9 L9.7 69.0 L7.2 69.5 L4.8 70.0 L2.3 70.3" fill="none" stroke="#fafafa" stroke-width="0.65" stroke-linecap="round" stroke-linejoin="round"/></g></g></g>
<g transform="translate(3,0)"><g clip-path="url(#cn)"><g filter="url(#tb0_6)"><path d="M30.0 44.0 L27.4 43.8 L24.9 43.6 L22.4 42.9 L19.9 42.5 L17.3 42.3 L14.8 41.8 L12.2 41.4" fill="none" stroke="#fafafa" stroke-width="1.40" stroke-linecap="round" stroke-linejoin="round"/><path d="M27.4 43.8 L25.6 41.3 L23.1 39.4 L20.6 37.6 L17.7 36.3" fill="none" stroke="#fafafa" stroke-width="0.98" stroke-linecap="round" stroke-linejoin="round"/><path d="M20.6 37.6 L17.7 38.5 L15.0 39.7" fill="none" stroke="#fafafa" stroke-width="0.69" stroke-linecap="round" stroke-linejoin="round"/><path d="M20.6 37.6 L19.4 34.5 L18.7 31.3" fill="none" stroke="#fafafa" stroke-width="0.69" stroke-linecap="round" stroke-linejoin="round"/><path d="M14.8 41.8 L13.3 44.1 L12.2 46.6 L11.6 49.3 L11.0 51.9" fill="none" stroke="#fafafa" stroke-width="0.98" stroke-linecap="round" stroke-linejoin="round"/><path d="M13.3 44.1 L11.9 46.6 L11.0 49.3" fill="none" stroke="#fafafa" stroke-width="0.69" stroke-linecap="round" stroke-linejoin="round"/><path d="M11.0 51.9 L8.4 53.3 L5.9 54.9" fill="none" stroke="#fafafa" stroke-width="0.69" stroke-linecap="round" stroke-linejoin="round"/><path d="M11.6 49.3 L13.4 51.4 L15.6 53.3" fill="none" stroke="#fafafa" stroke-width="0.69" stroke-linecap="round" stroke-linejoin="round"/></g></g></g>
<g transform="translate(3,0)"><g clip-path="url(#cn)"><g filter="url(#tb0_6)"><path d="M32.0 58.0 L29.7 59.0 L27.2 59.9 L25.2 61.5 L22.8 62.4 L20.2 62.8 L17.7 62.4 L15.1 62.4" fill="none" stroke="#fafafa" stroke-width="1.40" stroke-linecap="round" stroke-linejoin="round"/><path d="M20.2 62.8 L18.4 64.6 L16.5 66.4 L14.3 67.7 L12.1 69.0" fill="none" stroke="#fafafa" stroke-width="0.98" stroke-linecap="round" stroke-linejoin="round"/><path d="M14.3 67.7 L13.0 70.5 L11.5 73.3" fill="none" stroke="#fafafa" stroke-width="0.69" stroke-linecap="round" stroke-linejoin="round"/><path d="M16.5 66.4 L14.8 64.1 L13.8 61.4" fill="none" stroke="#fafafa" stroke-width="0.69" stroke-linecap="round" stroke-linejoin="round"/><path d="M17.7 62.4 L15.8 64.6 L13.5 66.5 L11.3 68.4" fill="none" stroke="#fafafa" stroke-width="0.98" stroke-linecap="round" stroke-linejoin="round"/><path d="M11.3 68.4 L11.6 70.6 L12.4 72.7" fill="none" stroke="#fafafa" stroke-width="0.69" stroke-linecap="round" stroke-linejoin="round"/><path d="M15.8 64.6 L13.3 64.4 L10.8 64.1" fill="none" stroke="#fafafa" stroke-width="0.69" stroke-linecap="round" stroke-linejoin="round"/></g></g></g>
</g>
</g>
<rect x="8" y="22.8" width="19.8" height="26.2" fill="none" stroke="#000" stroke-width="1.6"/>
<rect x="43.9" y="22.8" width="19.3" height="26.2" fill="none" stroke="#000" stroke-width="1.6"/>
</svg></g>
<g transform="translate(96.3,122.9)">
<svg width="76" height="81.9" viewBox="0 0 76 82" preserveAspectRatio="none" overflow="hidden"><g filter="url(#jet)"><rect width="76" height="82" fill="#0f0f0f"/>
<path d="M38 1 C44 3 52 8 58 12 C64 17 68 24 72 34 C76 40 76 44 74 48 C70 56 64 62 56 68 C48 72 42 74 38 74 C28 76 16 75 12 74 C6 72 2 68 -1 66 L-1 32 C2 28 6 23 12 18 C20 14 26 10 32 5Z" fill="#696969" filter="url(#tb0_8)" />
<path d="M14 74 C12 78 10 80 8 82 M20 74 C22 78 22 80 23 82 M4 70 C2 74 0 76 -1 78" fill="none" stroke="#4c4c4c" stroke-width="0.8" stroke-linecap="round" filter="url(#tb0_6)"/>
<path d="M8 46 C12 36 20 28 28 24 C34 20 40 16 42 14 C44 24 46 40 48 56 C48 66 44 72 38 73 C26 74 14 72 8 66 C6 60 6 52 8 46Z" fill="#878787" filter="url(#tb2)" />
<path d="M-1 32 C4 40 7 55 7 68 L-1 68Z" fill="#6b6b6b" filter="url(#tb1_5)" />
<ellipse cx="34" cy="14" rx="12" ry="7" fill="#737373" filter="url(#tb2)"/>
<ellipse cx="16" cy="27" rx="9" ry="4" fill="#787878" filter="url(#tb2)"/>
<path d="M10 50 C18 52 28 54 38 58 C42 66 38 72 30 72 C20 72 12 68 8 62Z" fill="#999999" filter="url(#tb2)" />
<path d="M46 8 C56 12 66 20 70 32 C74 44 68 58 58 66 C52 70 48 72 47 70 C45 56 45 30 46 8Z" fill="#4c4c4c" filter="url(#tb1_8)" />
<path d="M42 4 C52 8 62 14 68 24 C72 32 74 40 74 46" fill="none" stroke="#707070" stroke-width="2.4" stroke-linecap="round" filter="url(#tb1)"/>
<g clip-path="url(#cnr)"><path d="M55.6 55.6 Q54.6 61.5 55.8 66.2 M52.1 64.5 Q56.1 69.7 63.4 75.3 M59.3 63.4 Q55.8 67.0 51.2 67.7 M50.2 56.5 Q42.6 61.8 37.2 65.2 M57.0 63.7 Q56.4 67.0 52.3 67.8 M52.8 64.2 Q59.9 66.0 66.2 71.7 M65.5 30.5 Q67.5 31.1 72.9 32.2 M52.9 61.8 Q52.2 65.9 55.4 68.4 M48.6 63.8 Q44.7 67.1 40.3 72.1 M67.7 30.1 Q74.4 34.6 78.3 35.3 M55.1 26.4 Q55.9 28.8 55.9 33.5 M53.1 55.0 Q46.2 57.8 41.1 57.1 M60.3 42.8 Q61.7 48.2 64.5 56.4 M54.6 30.5 Q58.5 31.3 60.9 34.1 " fill="none" stroke="#787878" stroke-width="0.9" stroke-linecap="round" filter="url(#tb0_6)"/></g>
<g transform="translate(3,0)"><path d="M24 18 C34 20 44 34 44 48 C48 56 50 66 42 74 C30 76 16 72 16 62 C18 54 24 46 24 36Z" fill="#ababab" filter="url(#tb2_5)" /></g>
<g filter="url(#nzhi)">
<g transform="translate(3,0)"><path d="M30 22 C36 24 40 36 40 48 C44 56 46 66 40 72 C32 74 24 70 24 62 C26 54 30 46 30 36Z" fill="#c2c2c2" filter="url(#tb1_2)" /></g>
<g transform="translate(3,0)"><path d="M28 30 C34 32 38 42 38 50 C42 56 44 64 40 70 C34 72 26 70 24 64 C24 56 30 50 28 42Z" fill="#dbdbdb" filter="url(#tb1_2)" /></g>
<g transform="translate(3,0)"><ellipse cx="33" cy="62" rx="7" ry="7" fill="#ebebeb" filter="url(#tb1_5)"/></g>
<g transform="translate(3,0)"><path d="M27 11.5 L33 11.5" fill="none" stroke="#f2f2f2" stroke-width="1.4" stroke-linecap="round" filter="url(#tb0_6)"/></g>
<g transform="translate(3,0)"><g clip-path="url(#cn)"><g filter="url(#tb0_6)"><path d="M32.0 20.0 L31.4 22.5 L31.3 25.1 L31.0 27.7 L30.7 30.3 L29.8 32.7 L29.1 35.2 L27.8 37.5 L27.0 40.0 L25.5 42.1 L24.2 44.4 L23.2 46.8 L22.4 49.3 L21.5 51.7 L21.2 54.3 L21.0 56.8 L21.4 59.4 L22.3 61.8 L23.7 64.0 L25.3 66.1 L27.2 67.9" fill="none" stroke="#fafafa" stroke-width="1.90" stroke-linecap="round" stroke-linejoin="round"/><path d="M21.2 54.3 L23.7 54.2 L26.1 54.6 L28.6 55.2 L31.0 55.9 L33.2 57.1 L35.3 58.3 L37.7 59.2 L40.1 60.0 L42.4 60.9 L44.8 61.5 L47.4 61.5 L49.8 61.1 L52.3 60.9 L54.8 61.2" fill="none" stroke="#fafafa" stroke-width="1.33" stroke-linecap="round" stroke-linejoin="round"/><path d="M44.8 61.5 L47.2 60.6 L49.5 59.7 L51.7 58.4 L54.0 57.3 L56.4 56.5 L58.5 55.3 L60.8 54.2" fill="none" stroke="#fafafa" stroke-width="0.93" stroke-linecap="round" stroke-linejoin="round"/><path d="M51.7 58.4 L52.8 55.3 L54.2 52.3 L56.1 49.7" fill="none" stroke="#fafafa" stroke-width="0.65" stroke-linecap="round" stroke-linejoin="round"/><path d="M49.5 59.7 L50.7 56.6 L52.3 53.7 L53.6 50.6" fill="none" stroke="#fafafa" stroke-width="0.65" stroke-linecap="round" stroke-linejoin="round"/><path d="M47.4 61.5 L49.5 63.2 L51.4 65.0 L53.7 66.5 L55.8 68.2 L57.5 70.4 L59.3 72.4 L61.5 73.9 L64.0 75.0" fill="none" stroke="#fafafa" stroke-width="0.93" stroke-linecap="round" stroke-linejoin="round"/><path d="M51.4 65.0 L52.9 67.3 L54.4 69.5 L56.4 71.3 L58.3 73.1 L60.0 75.2" fill="none" stroke="#fafafa" stroke-width="0.65" stroke-linecap="round" stroke-linejoin="round"/><path d="M53.7 66.5 L55.8 65.1 L57.6 63.4 L59.3 61.4 L61.2 59.8 L62.7 57.8 L64.5 56.1" fill="none" stroke="#fafafa" stroke-width="0.65" stroke-linecap="round" stroke-linejoin="round"/><path d="M33.2 57.1 L35.2 55.5 L37.0 53.5 L38.8 51.7 L40.4 49.6 L42.4 47.9 L44.2 46.0 L45.7 43.8 L47.1 41.6 L47.9 39.1" fill="none" stroke="#fafafa" stroke-width="0.93" stroke-linecap="round" stroke-linejoin="round"/><path d="M35.2 55.5 L38.0 54.3 L40.6 53.0 L43.2 51.6 L46.0 50.5 L48.7 49.3" fill="none" stroke="#fafafa" stroke-width="0.65" stroke-linecap="round" stroke-linejoin="round"/><path d="M35.2 55.5 L37.6 53.8 L40.2 52.7 L42.6 51.0 L45.0 49.4 L47.7 48.3" fill="none" stroke="#fafafa" stroke-width="0.65" stroke-linecap="round" stroke-linejoin="round"/><path d="M31.0 27.7 L30.9 30.3 L30.5 32.9 L30.4 35.5 L30.2 38.1 L29.6 40.6 L29.3 43.2 L29.3 45.8 L29.8 48.4 L30.5 50.9 L31.7 53.2 L32.7 55.7 L33.2 58.2" fill="none" stroke="#fafafa" stroke-width="1.33" stroke-linecap="round" stroke-linejoin="round"/><path d="M30.5 32.9 L32.9 33.6 L35.3 34.3 L37.7 35.2 L40.0 36.2 L42.0 37.7 L43.7 39.6 L44.9 41.8 L46.5 43.7" fill="none" stroke="#fafafa" stroke-width="0.93" stroke-linecap="round" stroke-linejoin="round"/><path d="M43.7 39.6 L46.1 40.6 L48.2 42.0 L50.7 42.8 L53.2 43.2" fill="none" stroke="#fafafa" stroke-width="0.65" stroke-linecap="round" stroke-linejoin="round"/><path d="M21.4 59.4 L21.2 61.9 L21.3 64.5 L21.0 67.0 L20.7 69.5 L20.4 72.1 L20.2 74.6 L19.7 77.1 L18.9 79.6 L17.8 81.8 L16.2 83.8" fill="none" stroke="#fafafa" stroke-width="1.33" stroke-linecap="round" stroke-linejoin="round"/><path d="M20.7 69.5 L18.5 70.7 L16.3 72.2 L14.2 73.6 L12.1 74.9 L9.8 76.0 L7.5 77.0 L5.0 77.5" fill="none" stroke="#fafafa" stroke-width="0.93" stroke-linecap="round" stroke-linejoin="round"/><path d="M14.2 73.6 L12.7 75.6 L11.5 77.8 L9.9 79.8 L8.1 81.7" fill="none" stroke="#fafafa" stroke-width="0.65" stroke-linecap="round" stroke-linejoin="round"/><path d="M16.3 72.2 L14.1 70.3 L12.2 68.1 L10.4 65.8" fill="none" stroke="#fafafa" stroke-width="0.65" stroke-linecap="round" stroke-linejoin="round"/><path d="M7.5 77.0 L4.7 75.8 L2.1 74.2 L-0.7 72.9" fill="none" stroke="#fafafa" stroke-width="0.65" stroke-linecap="round" stroke-linejoin="round"/><path d="M19.7 77.1 L20.6 79.8 L21.6 82.4 L22.4 85.0 L23.0 87.8 L24.1 90.4" fill="none" stroke="#fafafa" stroke-width="0.93" stroke-linecap="round" stroke-linejoin="round"/><path d="M20.6 79.8 L20.5 83.3 L20.3 86.8" fill="none" stroke="#fafafa" stroke-width="0.65" stroke-linecap="round" stroke-linejoin="round"/><path d="M22.4 85.0 L25.0 86.0 L27.4 87.3 L29.4 89.2" fill="none" stroke="#fafafa" stroke-width="0.65" stroke-linecap="round" stroke-linejoin="round"/><path d="M24.1 90.4 L26.9 90.8 L29.7 91.0 L32.5 91.3" fill="none" stroke="#fafafa" stroke-width="0.65" stroke-linecap="round" stroke-linejoin="round"/><path d="M21.0 67.0 L21.7 69.7 L22.8 72.3 L23.6 74.9 L24.2 77.6 L25.0 80.3" fill="none" stroke="#fafafa" stroke-width="0.93" stroke-linecap="round" stroke-linejoin="round"/><path d="M21.7 69.7 L23.5 71.8 L25.0 74.0 L26.2 76.4" fill="none" stroke="#fafafa" stroke-width="0.65" stroke-linecap="round" stroke-linejoin="round"/><path d="M21.7 69.7 L20.0 72.5 L18.8 75.5" fill="none" stroke="#fafafa" stroke-width="0.65" stroke-linecap="round" stroke-linejoin="round"/><path d="M23.6 74.9 L22.1 77.7 L20.4 80.4" fill="none" stroke="#fafafa" stroke-width="0.65" stroke-linecap="round" stroke-linejoin="round"/></g></g></g>
<g transform="translate(3,0)"><g clip-path="url(#cn)"><g filter="url(#tb0_6)"><path d="M30.0 44.0 L27.6 43.2 L25.0 42.9 L22.6 41.9 L20.2 41.2 L17.6 40.6 L15.3 39.5 L13.0 38.5" fill="none" stroke="#fafafa" stroke-width="1.40" stroke-linecap="round" stroke-linejoin="round"/><path d="M25.0 42.9 L23.8 45.1 L23.2 47.5 L22.6 50.0 L22.0 52.4 L21.0 54.7" fill="none" stroke="#fafafa" stroke-width="0.98" stroke-linecap="round" stroke-linejoin="round"/><path d="M21.0 54.7 L22.7 56.6 L24.6 58.5 L26.9 59.8" fill="none" stroke="#fafafa" stroke-width="0.69" stroke-linecap="round" stroke-linejoin="round"/><path d="M22.0 52.4 L18.7 51.4 L15.4 51.3" fill="none" stroke="#fafafa" stroke-width="0.69" stroke-linecap="round" stroke-linejoin="round"/><path d="M13.0 38.5 L12.5 35.5 L11.6 32.6 L10.8 29.7" fill="none" stroke="#fafafa" stroke-width="0.98" stroke-linecap="round" stroke-linejoin="round"/><path d="M10.8 29.7 L8.8 28.4 L6.7 27.3" fill="none" stroke="#fafafa" stroke-width="0.69" stroke-linecap="round" stroke-linejoin="round"/></g></g></g>
<g transform="translate(3,0)"><g clip-path="url(#cn)"><g filter="url(#tb0_6)"><path d="M32.0 58.0 L29.8 59.4 L27.6 60.7 L25.1 61.2 L22.6 62.0 L20.2 62.7 L17.8 63.6 L15.3 64.2" fill="none" stroke="#fafafa" stroke-width="1.40" stroke-linecap="round" stroke-linejoin="round"/><path d="M17.8 63.6 L14.9 63.1 L12.2 62.1 L9.4 61.1" fill="none" stroke="#fafafa" stroke-width="0.98" stroke-linecap="round" stroke-linejoin="round"/><path d="M12.2 62.1 L10.9 63.7 L10.1 65.6" fill="none" stroke="#fafafa" stroke-width="0.69" stroke-linecap="round" stroke-linejoin="round"/><path d="M22.6 62.0 L19.7 60.7 L16.7 59.4 L13.5 58.5" fill="none" stroke="#fafafa" stroke-width="0.98" stroke-linecap="round" stroke-linejoin="round"/><path d="M13.5 58.5 L10.9 59.2 L8.4 60.2" fill="none" stroke="#fafafa" stroke-width="0.69" stroke-linecap="round" stroke-linejoin="round"/><path d="M16.7 59.4 L14.4 60.7 L12.6 62.5" fill="none" stroke="#fafafa" stroke-width="0.69" stroke-linecap="round" stroke-linejoin="round"/><path d="M19.7 60.7 L17.3 59.3 L15.1 57.7" fill="none" stroke="#fafafa" stroke-width="0.69" stroke-linecap="round" stroke-linejoin="round"/></g></g></g>
</g>
</g>
<rect x="8.5" y="22.8" width="19.5" height="26.2" fill="none" stroke="#000" stroke-width="1.6"/>
<rect x="44.2" y="22.8" width="19.3" height="26.2" fill="none" stroke="#000" stroke-width="1.6"/>
</svg></g>
<g transform="translate(174.9,122.9)">
<svg width="76" height="81.9" viewBox="0 0 76 82" preserveAspectRatio="none" overflow="hidden"><g filter="url(#jet)"><rect width="76" height="82" fill="#0f0f0f"/>
<path d="M38 1 C44 3 52 8 58 12 C64 17 68 24 72 34 C76 40 76 44 74 48 C70 56 64 62 56 68 C48 72 42 74 38 74 C28 76 16 75 12 74 C6 72 2 68 -1 66 L-1 32 C2 28 6 23 12 18 C20 14 26 10 32 5Z" fill="#696969" filter="url(#tb0_8)" />
<path d="M14 74 C12 78 10 80 8 82 M20 74 C22 78 22 80 23 82 M4 70 C2 74 0 76 -1 78" fill="none" stroke="#4c4c4c" stroke-width="0.8" stroke-linecap="round" filter="url(#tb0_6)"/>
<path d="M8 46 C12 36 20 28 28 24 C34 20 40 16 42 14 C44 24 46 40 48 56 C48 66 44 72 38 73 C26 74 14 72 8 66 C6 60 6 52 8 46Z" fill="#878787" filter="url(#tb2)" />
<path d="M-1 32 C4 40 7 55 7 68 L-1 68Z" fill="#6b6b6b" filter="url(#tb1_5)" />
<ellipse cx="34" cy="14" rx="12" ry="7" fill="#737373" filter="url(#tb2)"/>
<ellipse cx="16" cy="27" rx="9" ry="4" fill="#787878" filter="url(#tb2)"/>
<path d="M10 50 C18 52 28 54 38 58 C42 66 38 72 30 72 C20 72 12 68 8 62Z" fill="#999999" filter="url(#tb2)" />
<path d="M46 8 C56 12 66 20 70 32 C74 44 68 58 58 66 C52 70 48 72 47 70 C45 56 45 30 46 8Z" fill="#575757" filter="url(#tb1_8)" />
<path d="M42 4 C52 8 62 14 68 24 C72 32 74 40 74 46" fill="none" stroke="#707070" stroke-width="2.4" stroke-linecap="round" filter="url(#tb1)"/>
<g clip-path="url(#cnr)"><path d="M69.2 42.0 Q67.0 45.5 67.4 52.6 M55.5 40.2 Q53.9 41.7 48.4 46.3 M61.8 15.5 Q66.5 18.5 67.4 20.1 M59.3 58.8 Q55.9 58.7 49.6 60.3 M62.9 57.1 Q66.2 61.2 67.6 68.7 M64.3 24.2 Q66.0 29.3 69.4 30.8 M56.4 58.5 Q58.3 60.2 64.1 62.1 M68.8 41.0 Q64.6 42.9 64.0 46.9 M68.9 50.3 Q61.2 50.5 55.4 53.3 M60.7 21.4 Q60.0 28.9 61.3 32.7 M47.4 62.1 Q54.8 61.7 63.0 64.1 M61.0 50.8 Q63.4 55.0 64.4 61.0 M53.5 50.3 Q54.3 58.3 55.5 64.5 M59.1 26.4 Q61.4 32.5 63.9 37.0 " fill="none" stroke="#787878" stroke-width="0.9" stroke-linecap="round" filter="url(#tb0_6)"/></g>
<g transform="translate(3,0)"><path d="M24 18 C34 20 44 34 44 48 C48 56 50 66 42 74 C30 76 16 72 16 62 C18 54 24 46 24 36Z" fill="#ababab" filter="url(#tb2_5)" /></g>
<g filter="url(#nzhi)">
<g transform="translate(3,0)"><path d="M30 22 C36 24 40 36 40 48 C44 56 46 66 40 72 C32 74 24 70 24 62 C26 54 30 46 30 36Z" fill="#c2c2c2" filter="url(#tb1_2)" /></g>
<g transform="translate(3,0)"><path d="M28 30 C34 32 38 42 38 50 C42 56 44 64 40 70 C34 72 26 70 24 64 C24 56 30 50 28 42Z" fill="#dbdbdb" filter="url(#tb1_2)" /></g>
<g transform="translate(3,0)"><ellipse cx="33" cy="62" rx="7" ry="7" fill="#ebebeb" filter="url(#tb1_5)"/></g>
<g transform="translate(3,0)"><path d="M27 11.5 L33 11.5" fill="none" stroke="#f2f2f2" stroke-width="1.4" stroke-linecap="round" filter="url(#tb0_6)"/></g>
<g transform="translate(3,0)"><g clip-path="url(#cn)"><g filter="url(#tb0_6)"><path d="M32.0 20.0 L31.8 22.6 L31.2 25.1 L30.6 27.6 L29.7 30.1 L28.4 32.3 L27.0 34.5 L25.3 36.5 L23.5 38.3 L21.3 39.8 L19.6 41.7 L18.1 43.9 L16.2 45.6 L14.1 47.1 L12.2 48.9 L10.1 50.4 L8.2 52.2 L6.5 54.2 L4.9 56.2 L3.5 58.4 L2.5 60.8" fill="none" stroke="#fafafa" stroke-width="1.90" stroke-linecap="round" stroke-linejoin="round"/><path d="M6.5 54.2 L3.9 54.7 L1.4 55.8 L-1.1 56.7 L-3.6 57.6 L-6.1 58.7 L-8.4 60.0 L-10.9 61.0 L-13.5 61.7 L-16.1 62.5" fill="none" stroke="#fafafa" stroke-width="1.33" stroke-linecap="round" stroke-linejoin="round"/><path d="M-3.6 57.6 L-5.6 55.8 L-7.8 54.5 L-9.9 52.8 L-12.3 51.7 L-14.4 50.0 L-16.2 48.1" fill="none" stroke="#fafafa" stroke-width="0.93" stroke-linecap="round" stroke-linejoin="round"/><path d="M-14.4 50.0 L-15.1 46.4 L-15.2 42.7" fill="none" stroke="#fafafa" stroke-width="0.65" stroke-linecap="round" stroke-linejoin="round"/><path d="M-7.8 54.5 L-10.5 55.5 L-12.9 56.8 L-15.2 58.5" fill="none" stroke="#fafafa" stroke-width="0.65" stroke-linecap="round" stroke-linejoin="round"/><path d="M-12.3 51.7 L-13.1 49.1 L-13.6 46.5 L-14.2 43.9" fill="none" stroke="#fafafa" stroke-width="0.65" stroke-linecap="round" stroke-linejoin="round"/><path d="M-10.9 61.0 L-13.7 60.2 L-16.6 59.8 L-19.4 59.5 L-22.3 59.5" fill="none" stroke="#fafafa" stroke-width="0.93" stroke-linecap="round" stroke-linejoin="round"/><path d="M-16.6 59.8 L-18.0 62.0 L-19.3 64.2 L-20.3 66.6" fill="none" stroke="#fafafa" stroke-width="0.65" stroke-linecap="round" stroke-linejoin="round"/><path d="M-16.6 59.8 L-18.7 57.9 L-21.0 56.2" fill="none" stroke="#fafafa" stroke-width="0.65" stroke-linecap="round" stroke-linejoin="round"/><path d="M-10.9 61.0 L-12.0 63.5 L-12.5 66.2 L-13.2 68.8 L-14.3 71.4" fill="none" stroke="#fafafa" stroke-width="0.93" stroke-linecap="round" stroke-linejoin="round"/><path d="M-13.2 68.8 L-12.0 71.4 L-11.4 74.1" fill="none" stroke="#fafafa" stroke-width="0.65" stroke-linecap="round" stroke-linejoin="round"/><path d="M-13.2 68.8 L-13.1 72.1 L-12.4 75.2" fill="none" stroke="#fafafa" stroke-width="0.65" stroke-linecap="round" stroke-linejoin="round"/><path d="M4.9 56.2 L2.4 57.1 L-0.1 58.1 L-2.6 59.0 L-5.0 60.0 L-7.6 60.8 L-10.2 61.4 L-12.8 61.8 L-15.3 62.5 L-17.9 62.9 L-20.4 63.8 L-22.8 65.0 L-25.2 66.2 L-27.2 67.8" fill="none" stroke="#fafafa" stroke-width="1.33" stroke-linecap="round" stroke-linejoin="round"/><path d="M2.4 57.1 L-0.2 57.0 L-2.7 56.9 L-5.3 56.5 L-7.8 56.8 L-10.2 57.6 L-12.6 58.5 L-15.0 59.1 L-17.6 59.5 L-19.9 60.4" fill="none" stroke="#fafafa" stroke-width="0.93" stroke-linecap="round" stroke-linejoin="round"/><path d="M-19.9 60.4 L-21.6 62.5 L-23.5 64.5 L-24.8 66.9 L-26.5 69.1" fill="none" stroke="#fafafa" stroke-width="0.65" stroke-linecap="round" stroke-linejoin="round"/><path d="M-0.2 57.0 L-2.5 56.0 L-4.7 54.8 L-7.2 54.2 L-9.7 53.9 L-12.3 54.0" fill="none" stroke="#fafafa" stroke-width="0.65" stroke-linecap="round" stroke-linejoin="round"/><path d="M-19.9 60.4 L-22.4 59.5 L-25.0 59.0 L-27.5 58.6 L-30.1 58.8 L-32.8 58.7" fill="none" stroke="#fafafa" stroke-width="0.65" stroke-linecap="round" stroke-linejoin="round"/><path d="M-25.2 66.2 L-28.1 66.1 L-30.9 66.2 L-33.8 65.7 L-36.6 65.0 L-39.4 64.3 L-42.2 63.7" fill="none" stroke="#fafafa" stroke-width="0.93" stroke-linecap="round" stroke-linejoin="round"/><path d="M-39.4 64.3 L-41.3 62.4 L-42.9 60.1 L-44.7 58.1" fill="none" stroke="#fafafa" stroke-width="0.65" stroke-linecap="round" stroke-linejoin="round"/><path d="M-30.9 66.2 L-32.8 63.7 L-34.3 61.0 L-35.8 58.3" fill="none" stroke="#fafafa" stroke-width="0.65" stroke-linecap="round" stroke-linejoin="round"/></g></g></g>
<g transform="translate(3,0)"><g clip-path="url(#cn)"><g filter="url(#tb0_6)"><path d="M30.0 44.0 L27.4 43.9 L24.9 44.2 L22.3 43.8 L19.8 43.4 L17.2 43.7 L14.7 43.6 L12.1 44.1" fill="none" stroke="#fafafa" stroke-width="1.40" stroke-linecap="round" stroke-linejoin="round"/><path d="M22.3 43.8 L21.3 46.7 L21.0 49.9 L20.4 53.0" fill="none" stroke="#fafafa" stroke-width="0.98" stroke-linecap="round" stroke-linejoin="round"/><path d="M21.0 49.9 L21.7 52.7 L21.7 55.7" fill="none" stroke="#fafafa" stroke-width="0.69" stroke-linecap="round" stroke-linejoin="round"/><path d="M20.4 53.0 L21.9 55.4 L23.2 58.0" fill="none" stroke="#fafafa" stroke-width="0.69" stroke-linecap="round" stroke-linejoin="round"/><path d="M19.8 43.4 L17.4 44.7 L14.9 45.8 L12.2 46.6" fill="none" stroke="#fafafa" stroke-width="0.98" stroke-linecap="round" stroke-linejoin="round"/><path d="M17.4 44.7 L16.7 47.4 L16.1 50.2" fill="none" stroke="#fafafa" stroke-width="0.69" stroke-linecap="round" stroke-linejoin="round"/></g></g></g>
<g transform="translate(3,0)"><g clip-path="url(#cn)"><g filter="url(#tb0_6)"><path d="M32.0 58.0 L29.7 59.1 L27.4 60.2 L25.0 61.2 L22.7 62.3 L20.3 63.3 L17.9 64.2 L15.5 65.2" fill="none" stroke="#fafafa" stroke-width="1.40" stroke-linecap="round" stroke-linejoin="round"/><path d="M22.7 62.3 L20.1 64.4 L17.6 66.6 L15.1 68.7" fill="none" stroke="#fafafa" stroke-width="0.98" stroke-linecap="round" stroke-linejoin="round"/><path d="M15.1 68.7 L12.8 69.2 L10.5 69.5" fill="none" stroke="#fafafa" stroke-width="0.69" stroke-linecap="round" stroke-linejoin="round"/><path d="M15.1 68.7 L14.3 71.9 L12.8 74.7" fill="none" stroke="#fafafa" stroke-width="0.69" stroke-linecap="round" stroke-linejoin="round"/><path d="M20.1 64.4 L19.9 67.6 L20.1 70.9" fill="none" stroke="#fafafa" stroke-width="0.69" stroke-linecap="round" stroke-linejoin="round"/><path d="M29.7 59.1 L28.9 62.1 L28.9 65.1 L28.6 68.1 L28.0 71.1" fill="none" stroke="#fafafa" stroke-width="0.98" stroke-linecap="round" stroke-linejoin="round"/><path d="M28.9 65.1 L30.0 67.5 L30.6 70.0 L31.1 72.6" fill="none" stroke="#fafafa" stroke-width="0.69" stroke-linecap="round" stroke-linejoin="round"/><path d="M28.6 68.1 L25.7 69.8 L22.9 71.7" fill="none" stroke="#fafafa" stroke-width="0.69" stroke-linecap="round" stroke-linejoin="round"/></g></g></g>
</g>
</g>
<rect x="8.5" y="22.8" width="19.5" height="26.2" fill="none" stroke="#000" stroke-width="1.6"/>
<rect x="44" y="22.8" width="19.3" height="26.2" fill="none" stroke="#000" stroke-width="1.6"/>
</svg></g>
<g transform="translate(18.5,206.8)">
<svg width="76" height="81.9" viewBox="0 0 76 82" preserveAspectRatio="none" overflow="hidden"><g filter="url(#jet)"><rect width="76" height="82" fill="#0f0f0f"/>
<path d="M1 13 C6 8 12 5 17 3" fill="none" stroke="#525252" stroke-width="0.8" stroke-linecap="round" filter="url(#tb0_6)"/>
<path d="M3 68 C6 74 9 78 12 82" fill="none" stroke="#595959" stroke-width="0.8" stroke-linecap="round" filter="url(#tb0_6)"/>
<path d="M38 5 C30 9 22 16 12 28 C6 34 2 38 -1 40 L-1 64 C4 68 10 74 20 77 C30 79 38 80 46 80 C54 79 62 76 70 72 C73 64 75 54 77 44 L77 22 C70 14 60 8 53 3 C46 2 40 3 38 5Z" fill="#696969" filter="url(#tb0_8)" />
<path d="M50 10 C58 12 66 18 72 26 C74 32 72 38 66 40 C60 40 54 36 52 30 C50 24 50 16 50 10Z" fill="#4c4c4c" filter="url(#tb2_5)" />
<path d="M56 26 C62 28 66 32 68 38 C70 46 68 52 64 54 C58 54 56 50 55 44 C54 38 54 30 56 26Z" fill="#3d3d3d" filter="url(#tb2)" />
<path d="M52 3 C60 6 68 10 77 16 L77 22 C70 16 60 12 50 8Z" fill="#737373" filter="url(#tb1)" />
<ellipse cx="42" cy="9" rx="3" ry="1.5" fill="#a6a6a6" filter="url(#tb1)"/>
<path d="M10 38 C18 28 28 22 38 18 C44 24 44 40 46 54 C50 62 58 64 62 68 C56 74 44 76 36 76 C24 76 12 72 6 64 C4 56 6 46 10 38Z" fill="#828282" filter="url(#tb2)" />
<path d="M10 58 C18 62 28 66 36 66 C46 64 54 62 60 66 C56 72 46 76 36 76 C24 76 14 72 8 66Z" fill="#9e9e9e" filter="url(#tb2)" />
<path d="M16 40 C22 30 30 26 38 26 C46 28 48 40 50 50 C54 60 58 66 56 72 C48 76 36 78 26 76 C16 72 12 64 14 56 C14 50 14 44 16 40Z" fill="#ababab" filter="url(#tb2_5)" />
<path d="M48 52 C52 56 56 60 58 64" fill="none" stroke="#808080" stroke-width="1.2" stroke-linecap="round" filter="url(#tb0_6)"/>
<g filter="url(#nzhi)">
<ellipse cx="60" cy="9" rx="2.5" ry="1.5" fill="#b2b2b2" filter="url(#tb1)"/>
<ellipse cx="22" cy="42" rx="8" ry="11" fill="#b8b8b8" filter="url(#tb2)"/>
<path d="M33 28 C40 28 44 38 44 50 C46 58 50 64 50 68 C44 72 36 72 28 68 C26 62 30 56 30 48 C30 40 30 32 33 28Z" fill="#c2c2c2" filter="url(#tb1_2)" />
<path d="M34 34 C40 34 42 44 42 52 C44 58 48 64 46 68 C40 70 34 70 30 66 C30 58 32 52 32 44Z" fill="#e0e0e0" filter="url(#tb1_2)" />
<g clip-path="url(#cw)"><g filter="url(#tb0_6)"><path d="M38.0 24.0 L38.0 26.5 L38.0 29.0 L38.0 31.5 L38.1 34.0 L37.9 36.5 L38.0 39.0 L38.2 41.5 L38.0 44.0 L37.8 46.5 L37.0 48.8 L36.5 51.3 L36.2 53.8 L36.1 56.3 L36.4 58.7 L37.3 61.1 L38.2 63.4 L39.3 65.7 L40.3 67.9 L40.8 70.4 L40.6 72.9" fill="none" stroke="#fafafa" stroke-width="1.90" stroke-linecap="round" stroke-linejoin="round"/><path d="M38.0 39.0 L35.5 40.0 L33.1 41.1 L30.5 41.9 L28.3 43.4 L25.7 44.3 L23.1 45.0 L20.5 45.0 L17.8 45.2 L15.2 45.7 L12.5 45.8 L9.8 46.2 L7.2 46.9" fill="none" stroke="#fafafa" stroke-width="1.33" stroke-linecap="round" stroke-linejoin="round"/><path d="M30.5 41.9 L29.4 44.5 L27.7 46.8 L26.5 49.4 L24.8 51.7 L23.2 54.0 L21.9 56.5 L21.1 59.2" fill="none" stroke="#fafafa" stroke-width="0.93" stroke-linecap="round" stroke-linejoin="round"/><path d="M24.8 51.7 L25.8 54.4 L26.3 57.2 L26.9 60.1 L28.0 62.8" fill="none" stroke="#fafafa" stroke-width="0.65" stroke-linecap="round" stroke-linejoin="round"/><path d="M23.2 54.0 L20.4 55.1 L17.5 55.7 L14.6 56.4" fill="none" stroke="#fafafa" stroke-width="0.65" stroke-linecap="round" stroke-linejoin="round"/><path d="M38.1 34.0 L35.8 35.2 L33.7 36.8 L32.0 38.8 L30.0 40.6 L27.8 42.1 L25.5 43.3 L23.1 44.3 L20.7 45.5 L18.5 47.0 L16.2 48.3 L13.8 49.3 L11.4 50.3 L8.9 51.4" fill="none" stroke="#fafafa" stroke-width="1.33" stroke-linecap="round" stroke-linejoin="round"/><path d="M18.5 47.0 L16.9 44.9 L15.7 42.7 L14.4 40.5 L12.8 38.5 L11.5 36.4 L10.1 34.2 L8.9 32.0" fill="none" stroke="#fafafa" stroke-width="0.93" stroke-linecap="round" stroke-linejoin="round"/><path d="M11.5 36.4 L9.3 34.6 L6.9 33.2 L4.7 31.5" fill="none" stroke="#fafafa" stroke-width="0.65" stroke-linecap="round" stroke-linejoin="round"/><path d="M27.8 42.1 L26.0 44.1 L24.4 46.3 L22.7 48.5 L21.2 50.9 L19.6 53.0 L17.5 54.9 L15.0 56.1" fill="none" stroke="#fafafa" stroke-width="0.93" stroke-linecap="round" stroke-linejoin="round"/><path d="M24.4 46.3 L21.4 45.6 L18.4 44.9 L15.5 43.8 L12.7 42.7" fill="none" stroke="#fafafa" stroke-width="0.65" stroke-linecap="round" stroke-linejoin="round"/><path d="M21.2 50.9 L18.9 52.9 L16.1 54.4 L13.3 55.8" fill="none" stroke="#fafafa" stroke-width="0.65" stroke-linecap="round" stroke-linejoin="round"/><path d="M13.8 49.3 L11.2 48.8 L8.7 48.0 L6.4 46.8 L3.9 45.9 L1.6 44.8 L-0.8 43.7 L-3.3 42.8 L-5.9 42.4 L-8.4 41.7" fill="none" stroke="#fafafa" stroke-width="0.93" stroke-linecap="round" stroke-linejoin="round"/><path d="M3.9 45.9 L1.7 47.3 L-0.8 48.3 L-3.0 49.8 L-5.4 50.8 L-8.0 51.4" fill="none" stroke="#fafafa" stroke-width="0.65" stroke-linecap="round" stroke-linejoin="round"/><path d="M-5.9 42.4 L-7.8 39.9 L-9.8 37.6 L-12.1 35.5 L-14.1 33.1" fill="none" stroke="#fafafa" stroke-width="0.65" stroke-linecap="round" stroke-linejoin="round"/></g></g>
<g clip-path="url(#cw)"><g filter="url(#tb0_6)"><path d="M34.0 40.0 L31.3 39.4 L28.6 39.3 L25.8 39.0 L23.1 39.1 L20.4 38.6 L17.9 37.5 L15.5 36.1 L13.2 34.7" fill="none" stroke="#fafafa" stroke-width="1.40" stroke-linecap="round" stroke-linejoin="round"/><path d="M23.1 39.1 L20.4 40.5 L17.5 41.0 L14.7 42.0 L11.7 42.6" fill="none" stroke="#fafafa" stroke-width="0.98" stroke-linecap="round" stroke-linejoin="round"/><path d="M11.7 42.6 L10.0 40.7 L8.1 39.0 L6.7 36.8" fill="none" stroke="#fafafa" stroke-width="0.69" stroke-linecap="round" stroke-linejoin="round"/><path d="M15.5 36.1 L12.7 37.0 L9.7 37.2 L6.7 36.9 L3.7 37.1" fill="none" stroke="#fafafa" stroke-width="0.98" stroke-linecap="round" stroke-linejoin="round"/><path d="M12.7 37.0 L11.6 40.2 L11.4 43.5" fill="none" stroke="#fafafa" stroke-width="0.69" stroke-linecap="round" stroke-linejoin="round"/><path d="M3.7 37.1 L2.2 34.9 L1.1 32.5 L0.5 29.9" fill="none" stroke="#fafafa" stroke-width="0.69" stroke-linecap="round" stroke-linejoin="round"/></g></g>
<g clip-path="url(#cw)"><g filter="url(#tb0_6)"><path d="M40.0 64.0 L37.7 65.2 L35.4 66.3 L32.9 66.7 L30.3 67.1 L27.8 66.8 L25.2 67.1 L22.7 67.3" fill="none" stroke="#fafafa" stroke-width="1.30" stroke-linecap="round" stroke-linejoin="round"/><path d="M22.7 67.3 L21.0 69.5 L19.9 72.0 L18.5 74.4 L17.0 76.7" fill="none" stroke="#fafafa" stroke-width="0.91" stroke-linecap="round" stroke-linejoin="round"/><path d="M18.5 74.4 L15.6 74.7 L12.7 75.5" fill="none" stroke="#fafafa" stroke-width="0.64" stroke-linecap="round" stroke-linejoin="round"/><path d="M32.9 66.7 L31.6 69.1 L30.9 71.7 L29.7 74.2 L28.4 76.5" fill="none" stroke="#fafafa" stroke-width="0.91" stroke-linecap="round" stroke-linejoin="round"/><path d="M29.7 74.2 L29.6 77.5 L29.8 80.9" fill="none" stroke="#fafafa" stroke-width="0.64" stroke-linecap="round" stroke-linejoin="round"/><path d="M29.7 74.2 L31.6 77.3 L34.1 79.9" fill="none" stroke="#fafafa" stroke-width="0.64" stroke-linecap="round" stroke-linejoin="round"/><path d="M31.6 69.1 L31.7 71.8 L31.8 74.5" fill="none" stroke="#fafafa" stroke-width="0.64" stroke-linecap="round" stroke-linejoin="round"/></g></g>
<g clip-path="url(#cw)"><g filter="url(#tb0_6)"><path d="M40.0 64.0 L42.4 64.8 L44.7 66.0 L47.0 67.1 L49.1 68.6 L50.9 70.5 L52.6 72.4 L54.2 74.4" fill="none" stroke="#fafafa" stroke-width="1.30" stroke-linecap="round" stroke-linejoin="round"/><path d="M42.4 64.8 L42.2 67.6 L41.7 70.4 L40.7 73.0" fill="none" stroke="#fafafa" stroke-width="0.91" stroke-linecap="round" stroke-linejoin="round"/><path d="M41.7 70.4 L42.9 72.4 L43.6 74.6" fill="none" stroke="#fafafa" stroke-width="0.64" stroke-linecap="round" stroke-linejoin="round"/><path d="M42.2 67.6 L43.3 70.1 L45.0 72.1" fill="none" stroke="#fafafa" stroke-width="0.64" stroke-linecap="round" stroke-linejoin="round"/></g></g>
<g clip-path="url(#cw)"><g filter="url(#tb0_6)"><path d="M42.0 46.0 L45.0 46.1 L48.0 45.7 L50.9 46.2 L53.7 47.3" fill="none" stroke="#f2f2f2" stroke-width="1.00" stroke-linecap="round" stroke-linejoin="round"/></g></g>
</g>
</g>
<rect x="12.4" y="27.5" width="18.7" height="25.9" fill="none" stroke="#000" stroke-width="1.6"/>
<rect x="48" y="27.5" width="18.5" height="25.9" fill="none" stroke="#000" stroke-width="1.6"/>
</svg></g>
<g transform="translate(96.3,206.8)">
<svg width="76" height="81.9" viewBox="0 0 76 82" preserveAspectRatio="none" overflow="hidden"><g filter="url(#jet)"><rect width="76" height="82" fill="#0f0f0f"/>
<path d="M1 13 C6 8 12 5 17 3" fill="none" stroke="#525252" stroke-width="0.8" stroke-linecap="round" filter="url(#tb0_6)"/>
<path d="M3 68 C6 74 9 78 12 82" fill="none" stroke="#595959" stroke-width="0.8" stroke-linecap="round" filter="url(#tb0_6)"/>
<path d="M38 5 C30 9 22 16 12 28 C6 34 2 38 -1 40 L-1 64 C4 68 10 74 20 77 C30 79 38 80 46 80 C54 79 62 76 70 72 C73 64 75 54 77 44 L77 22 C70 14 60 8 53 3 C46 2 40 3 38 5Z" fill="#696969" filter="url(#tb0_8)" />
<path d="M50 10 C58 12 66 18 72 26 C74 32 72 38 66 40 C60 40 54 36 52 30 C50 24 50 16 50 10Z" fill="#4c4c4c" filter="url(#tb2_5)" />
<path d="M56 26 C62 28 66 32 68 38 C70 46 68 52 64 54 C58 54 56 50 55 44 C54 38 54 30 56 26Z" fill="#424242" filter="url(#tb2)" />
<path d="M52 3 C60 6 68 10 77 16 L77 22 C70 16 60 12 50 8Z" fill="#737373" filter="url(#tb1)" />
<ellipse cx="42" cy="9" rx="3" ry="1.5" fill="#a6a6a6" filter="url(#tb1)"/>
<path d="M10 38 C18 28 28 22 38 18 C44 24 44 40 46 54 C50 62 58 64 62 68 C56 74 44 76 36 76 C24 76 12 72 6 64 C4 56 6 46 10 38Z" fill="#828282" filter="url(#tb2)" />
<path d="M10 58 C18 62 28 66 36 66 C46 64 54 62 60 66 C56 72 46 76 36 76 C24 76 14 72 8 66Z" fill="#9e9e9e" filter="url(#tb2)" />
<path d="M16 40 C22 30 30 26 38 26 C46 28 48 40 50 50 C54 60 58 66 56 72 C48 76 36 78 26 76 C16 72 12 64 14 56 C14 50 14 44 16 40Z" fill="#ababab" filter="url(#tb2_5)" />
<path d="M48 52 C52 56 56 60 58 64" fill="none" stroke="#808080" stroke-width="1.2" stroke-linecap="round" filter="url(#tb0_6)"/>
<g filter="url(#nzhi)">
<ellipse cx="60" cy="9" rx="2.5" ry="1.5" fill="#b2b2b2" filter="url(#tb1)"/>
<ellipse cx="22" cy="42" rx="8" ry="11" fill="#b8b8b8" filter="url(#tb2)"/>
<path d="M33 28 C40 28 44 38 44 50 C46 58 50 64 50 68 C44 72 36 72 28 68 C26 62 30 56 30 48 C30 40 30 32 33 28Z" fill="#c2c2c2" filter="url(#tb1_2)" />
<path d="M34 34 C40 34 42 44 42 52 C44 58 48 64 46 68 C40 70 34 70 30 66 C30 58 32 52 32 44Z" fill="#e0e0e0" filter="url(#tb1_2)" />
<g clip-path="url(#cw)"><g filter="url(#tb0_6)"><path d="M38.0 24.0 L38.4 26.5 L38.9 28.9 L39.3 31.4 L39.2 33.9 L38.7 36.3 L37.8 38.7 L36.7 40.9 L36.1 43.3 L34.9 45.5 L33.8 47.8 L32.7 50.0 L31.9 52.4 L31.5 54.9 L30.6 57.2 L30.1 59.7 L30.2 62.2 L30.5 64.6 L31.0 67.1 L31.5 69.5 L32.0 72.0" fill="none" stroke="#fafafa" stroke-width="1.90" stroke-linecap="round" stroke-linejoin="round"/><path d="M38.4 26.5 L40.4 28.2 L42.4 29.9 L44.1 31.9 L45.9 33.8 L47.8 35.6 L49.6 37.6 L50.9 39.9 L52.1 42.2 L53.8 44.2 L55.6 46.1" fill="none" stroke="#fafafa" stroke-width="1.33" stroke-linecap="round" stroke-linejoin="round"/><path d="M47.8 35.6 L50.8 35.7 L53.7 35.1 L56.7 35.3 L59.5 36.0" fill="none" stroke="#fafafa" stroke-width="0.93" stroke-linecap="round" stroke-linejoin="round"/><path d="M50.8 35.7 L50.9 39.3 L51.5 42.8" fill="none" stroke="#fafafa" stroke-width="0.65" stroke-linecap="round" stroke-linejoin="round"/><path d="M53.7 35.1 L56.8 33.8 L59.5 31.8" fill="none" stroke="#fafafa" stroke-width="0.65" stroke-linecap="round" stroke-linejoin="round"/><path d="M50.9 39.9 L51.2 42.9 L51.2 46.0 L50.8 49.1 L50.5 52.1" fill="none" stroke="#fafafa" stroke-width="0.93" stroke-linecap="round" stroke-linejoin="round"/><path d="M51.2 42.9 L48.9 44.6 L46.5 46.1 L44.4 48.1" fill="none" stroke="#fafafa" stroke-width="0.65" stroke-linecap="round" stroke-linejoin="round"/><path d="M50.5 52.1 L47.9 53.9 L45.5 55.7" fill="none" stroke="#fafafa" stroke-width="0.65" stroke-linecap="round" stroke-linejoin="round"/><path d="M38.7 36.3 L37.1 38.4 L35.8 40.6 L34.2 42.7 L32.9 44.9 L31.4 47.0 L29.5 48.8 L27.9 50.9 L26.2 52.8 L24.3 54.6 L22.3 56.3" fill="none" stroke="#fafafa" stroke-width="1.33" stroke-linecap="round" stroke-linejoin="round"/><path d="M31.4 47.0 L30.6 49.7 L29.3 52.2 L28.1 54.7 L26.8 57.1 L25.0 59.2" fill="none" stroke="#fafafa" stroke-width="0.93" stroke-linecap="round" stroke-linejoin="round"/><path d="M30.6 49.7 L31.5 52.4 L32.4 55.2 L33.8 57.6" fill="none" stroke="#fafafa" stroke-width="0.65" stroke-linecap="round" stroke-linejoin="round"/><path d="M29.3 52.2 L28.1 55.7 L26.2 58.9" fill="none" stroke="#fafafa" stroke-width="0.65" stroke-linecap="round" stroke-linejoin="round"/><path d="M27.9 50.9 L25.4 50.4 L22.8 50.1 L20.2 50.4 L17.7 50.1 L15.1 49.9 L12.6 49.3 L10.0 49.2" fill="none" stroke="#fafafa" stroke-width="0.93" stroke-linecap="round" stroke-linejoin="round"/><path d="M12.6 49.3 L10.8 51.1 L8.8 52.6 L6.5 53.6 L4.1 54.2 L1.6 54.8" fill="none" stroke="#fafafa" stroke-width="0.65" stroke-linecap="round" stroke-linejoin="round"/><path d="M25.4 50.4 L22.8 51.3 L20.1 51.9 L17.3 52.1" fill="none" stroke="#fafafa" stroke-width="0.65" stroke-linecap="round" stroke-linejoin="round"/><path d="M37.1 38.4 L34.6 38.0 L32.1 38.1 L29.6 37.7 L27.2 37.3 L24.7 36.5 L22.3 35.8" fill="none" stroke="#fafafa" stroke-width="0.93" stroke-linecap="round" stroke-linejoin="round"/><path d="M34.6 38.0 L32.1 38.1 L29.5 38.2 L27.0 38.7 L24.7 39.7" fill="none" stroke="#fafafa" stroke-width="0.65" stroke-linecap="round" stroke-linejoin="round"/><path d="M32.1 38.1 L29.7 39.1 L27.6 40.6 L25.6 42.4 L23.7 44.2" fill="none" stroke="#fafafa" stroke-width="0.65" stroke-linecap="round" stroke-linejoin="round"/></g></g>
<g clip-path="url(#cw)"><g filter="url(#tb0_6)"><path d="M34.0 40.0 L31.5 38.9 L29.0 37.6 L26.6 36.3 L24.3 34.9 L22.2 33.1 L20.8 30.7 L19.6 28.3 L18.8 25.6" fill="none" stroke="#fafafa" stroke-width="1.40" stroke-linecap="round" stroke-linejoin="round"/><path d="M26.6 36.3 L24.0 36.1 L21.4 35.3 L18.9 34.3 L16.5 33.1 L13.9 32.5" fill="none" stroke="#fafafa" stroke-width="0.98" stroke-linecap="round" stroke-linejoin="round"/><path d="M13.9 32.5 L12.0 34.1 L10.5 36.1 L9.4 38.5" fill="none" stroke="#fafafa" stroke-width="0.69" stroke-linecap="round" stroke-linejoin="round"/><path d="M21.4 35.3 L18.3 33.5 L15.7 30.9" fill="none" stroke="#fafafa" stroke-width="0.69" stroke-linecap="round" stroke-linejoin="round"/><path d="M26.6 36.3 L24.5 35.0 L22.1 34.2 L19.8 33.0 L17.5 31.9 L15.5 30.4 L13.3 29.1" fill="none" stroke="#fafafa" stroke-width="0.98" stroke-linecap="round" stroke-linejoin="round"/><path d="M13.3 29.1 L9.7 29.8 L6.2 30.9" fill="none" stroke="#fafafa" stroke-width="0.69" stroke-linecap="round" stroke-linejoin="round"/><path d="M29.0 37.6 L26.3 37.0 L23.7 36.3 L20.9 36.0 L18.1 36.0 L15.4 36.6" fill="none" stroke="#fafafa" stroke-width="0.98" stroke-linecap="round" stroke-linejoin="round"/><path d="M23.7 36.3 L21.4 33.8 L18.5 31.9" fill="none" stroke="#fafafa" stroke-width="0.69" stroke-linecap="round" stroke-linejoin="round"/><path d="M23.7 36.3 L22.8 33.6 L22.5 30.8 L23.1 27.9" fill="none" stroke="#fafafa" stroke-width="0.69" stroke-linecap="round" stroke-linejoin="round"/></g></g>
<g clip-path="url(#cw)"><g filter="url(#tb0_6)"><path d="M40.0 64.0 L38.0 65.7 L35.7 66.8 L33.5 68.1 L31.5 69.8 L29.3 71.0 L26.9 71.9 L24.4 72.5" fill="none" stroke="#fafafa" stroke-width="1.30" stroke-linecap="round" stroke-linejoin="round"/><path d="M35.7 66.8 L34.4 64.3 L32.8 62.0 L30.8 60.0" fill="none" stroke="#fafafa" stroke-width="0.91" stroke-linecap="round" stroke-linejoin="round"/><path d="M30.8 60.0 L31.7 57.7 L32.8 55.6" fill="none" stroke="#fafafa" stroke-width="0.64" stroke-linecap="round" stroke-linejoin="round"/></g></g>
<g clip-path="url(#cw)"><g filter="url(#tb0_6)"><path d="M40.0 64.0 L42.4 65.0 L44.5 66.5 L46.7 67.8 L49.2 68.5 L51.7 69.1 L54.1 70.0 L56.3 71.2" fill="none" stroke="#fafafa" stroke-width="1.30" stroke-linecap="round" stroke-linejoin="round"/><path d="M56.3 71.2 L55.5 74.4 L54.2 77.4 L52.4 80.2" fill="none" stroke="#fafafa" stroke-width="0.91" stroke-linecap="round" stroke-linejoin="round"/><path d="M55.5 74.4 L53.0 73.9 L50.5 73.0" fill="none" stroke="#fafafa" stroke-width="0.64" stroke-linecap="round" stroke-linejoin="round"/></g></g>
<g clip-path="url(#cw)"><g filter="url(#tb0_6)"><path d="M42.0 46.0 L44.9 45.4 L47.9 44.9 L50.7 43.9 L53.7 43.3" fill="none" stroke="#f2f2f2" stroke-width="1.00" stroke-linecap="round" stroke-linejoin="round"/></g></g>
</g>
</g>
<rect x="12.4" y="27.5" width="18.7" height="25.9" fill="none" stroke="#000" stroke-width="1.6"/>
<rect x="48" y="27.5" width="18.5" height="25.9" fill="none" stroke="#000" stroke-width="1.6"/>
</svg></g>
<g transform="translate(174.9,206.8)">
<svg width="76" height="81.9" viewBox="0 0 76 82" preserveAspectRatio="none" overflow="hidden"><g filter="url(#jet)"><rect width="76" height="82" fill="#0f0f0f"/>
<path d="M1 13 C6 8 12 5 17 3" fill="none" stroke="#525252" stroke-width="0.8" stroke-linecap="round" filter="url(#tb0_6)"/>
<path d="M3 68 C6 74 9 78 12 82" fill="none" stroke="#595959" stroke-width="0.8" stroke-linecap="round" filter="url(#tb0_6)"/>
<path d="M38 5 C30 9 22 16 12 28 C6 34 2 38 -1 40 L-1 64 C4 68 10 74 20 77 C30 79 38 80 46 80 C54 79 62 76 70 72 C73 64 75 54 77 44 L77 22 C70 14 60 8 53 3 C46 2 40 3 38 5Z" fill="#696969" filter="url(#tb0_8)" />
<path d="M50 10 C58 12 66 18 72 26 C74 32 72 38 66 40 C60 40 54 36 52 30 C50 24 50 16 50 10Z" fill="#4c4c4c" filter="url(#tb2_5)" />
<path d="M56 26 C62 28 66 32 68 38 C70 46 68 52 64 54 C58 54 56 50 55 44 C54 38 54 30 56 26Z" fill="#474747" filter="url(#tb2)" />
<path d="M52 3 C60 6 68 10 77 16 L77 22 C70 16 60 12 50 8Z" fill="#737373" filter="url(#tb1)" />
<ellipse cx="42" cy="9" rx="3" ry="1.5" fill="#a6a6a6" filter="url(#tb1)"/>
<path d="M10 38 C18 28 28 22 38 18 C44 24 44 40 46 54 C50 62 58 64 62 68 C56 74 44 76 36 76 C24 76 12 72 6 64 C4 56 6 46 10 38Z" fill="#828282" filter="url(#tb2)" />
<path d="M10 58 C18 62 28 66 36 66 C46 64 54 62 60 66 C56 72 46 76 36 76 C24 76 14 72 8 66Z" fill="#9e9e9e" filter="url(#tb2)" />
<path d="M16 40 C22 30 30 26 38 26 C46 28 48 40 50 50 C54 60 58 66 56 72 C48 76 36 78 26 76 C16 72 12 64 14 56 C14 50 14 44 16 40Z" fill="#ababab" filter="url(#tb2_5)" />
<path d="M48 52 C52 56 56 60 58 64" fill="none" stroke="#808080" stroke-width="1.2" stroke-linecap="round" filter="url(#tb0_6)"/>
<g filter="url(#nzhi)">
<ellipse cx="60" cy="9" rx="2.5" ry="1.5" fill="#b2b2b2" filter="url(#tb1)"/>
<ellipse cx="22" cy="42" rx="8" ry="11" fill="#b8b8b8" filter="url(#tb2)"/>
<path d="M33 28 C40 28 44 38 44 50 C46 58 50 64 50 68 C44 72 36 72 28 68 C26 62 30 56 30 48 C30 40 30 32 33 28Z" fill="#c2c2c2" filter="url(#tb1_2)" />
<path d="M34 34 C40 34 42 44 42 52 C44 58 48 64 46 68 C40 70 34 70 30 66 C30 58 32 52 32 44Z" fill="#e0e0e0" filter="url(#tb1_2)" />
<g clip-path="url(#cw)"><g filter="url(#tb0_6)"><path d="M38.0 24.0 L38.0 26.5 L37.6 29.0 L37.6 31.5 L37.9 33.9 L38.6 36.3 L39.2 38.8 L40.2 41.1 L41.4 43.3 L42.2 45.6 L43.5 47.8 L45.2 49.6 L47.0 51.3 L48.6 53.3 L50.1 55.2 L51.6 57.2 L52.6 59.5 L53.9 61.6 L55.3 63.7 L57.0 65.6 L58.4 67.6" fill="none" stroke="#fafafa" stroke-width="1.90" stroke-linecap="round" stroke-linejoin="round"/><path d="M51.6 57.2 L51.3 59.9 L50.5 62.4 L49.8 64.9 L48.7 67.3 L47.2 69.4 L45.3 71.3 L43.5 73.2 L42.0 75.4 L40.3 77.4 L38.7 79.4 L37.1 81.5 L35.8 83.8" fill="none" stroke="#fafafa" stroke-width="1.33" stroke-linecap="round" stroke-linejoin="round"/><path d="M51.3 59.9 L48.9 60.8 L46.7 62.2 L44.8 64.0 L42.9 65.8 L40.6 67.1 L38.6 68.8" fill="none" stroke="#fafafa" stroke-width="0.93" stroke-linecap="round" stroke-linejoin="round"/><path d="M44.8 64.0 L41.4 65.5 L38.1 67.1" fill="none" stroke="#fafafa" stroke-width="0.65" stroke-linecap="round" stroke-linejoin="round"/><path d="M40.6 67.1 L39.9 69.6 L39.4 72.0 L38.6 74.5 L37.9 76.9" fill="none" stroke="#fafafa" stroke-width="0.65" stroke-linecap="round" stroke-linejoin="round"/><path d="M38.7 79.4 L36.1 79.9 L33.5 80.5 L30.8 80.9 L28.2 81.8 L25.8 82.8 L23.2 83.6" fill="none" stroke="#fafafa" stroke-width="0.93" stroke-linecap="round" stroke-linejoin="round"/><path d="M36.1 79.9 L33.5 79.8 L31.0 79.8 L28.4 79.8 L26.0 80.4" fill="none" stroke="#fafafa" stroke-width="0.65" stroke-linecap="round" stroke-linejoin="round"/></g></g>
<g clip-path="url(#cw)"><g filter="url(#tb0_6)"><path d="M34.0 40.0 L31.9 38.2 L29.9 36.4 L27.9 34.5 L25.7 32.8 L23.2 31.6 L20.6 30.7 L17.9 30.3 L15.1 30.5" fill="none" stroke="#fafafa" stroke-width="1.40" stroke-linecap="round" stroke-linejoin="round"/><path d="M31.9 38.2 L30.8 40.9 L30.3 43.7 L30.6 46.6 L30.1 49.5 L30.1 52.4" fill="none" stroke="#fafafa" stroke-width="0.98" stroke-linecap="round" stroke-linejoin="round"/><path d="M30.1 49.5 L32.7 50.8 L34.8 52.8 L37.0 54.7" fill="none" stroke="#fafafa" stroke-width="0.69" stroke-linecap="round" stroke-linejoin="round"/><path d="M30.8 40.9 L32.0 43.5 L32.3 46.4 L33.3 49.1" fill="none" stroke="#fafafa" stroke-width="0.69" stroke-linecap="round" stroke-linejoin="round"/><path d="M23.2 31.6 L21.0 33.5 L19.3 35.7 L17.6 38.0 L15.5 39.8 L13.1 41.4" fill="none" stroke="#fafafa" stroke-width="0.98" stroke-linecap="round" stroke-linejoin="round"/><path d="M15.5 39.8 L13.2 37.9 L11.2 35.8 L9.3 33.5" fill="none" stroke="#fafafa" stroke-width="0.69" stroke-linecap="round" stroke-linejoin="round"/></g></g>
<g clip-path="url(#cw)"><g filter="url(#tb0_6)"><path d="M40.0 64.0 L38.2 65.9 L36.1 67.4 L34.2 69.0 L31.9 70.3 L29.5 71.1 L27.0 71.8 L24.5 72.4" fill="none" stroke="#fafafa" stroke-width="1.30" stroke-linecap="round" stroke-linejoin="round"/><path d="M38.2 65.9 L35.8 64.5 L33.5 62.9 L31.6 60.8" fill="none" stroke="#fafafa" stroke-width="0.91" stroke-linecap="round" stroke-linejoin="round"/><path d="M33.5 62.9 L31.2 63.0 L28.9 62.7" fill="none" stroke="#fafafa" stroke-width="0.64" stroke-linecap="round" stroke-linejoin="round"/><path d="M35.8 64.5 L33.1 64.4 L30.5 65.0" fill="none" stroke="#fafafa" stroke-width="0.64" stroke-linecap="round" stroke-linejoin="round"/></g></g>
<g clip-path="url(#cw)"><g filter="url(#tb0_6)"><path d="M40.0 64.0 L42.3 65.1 L44.8 65.8 L47.4 65.9 L49.9 65.7 L52.5 65.9 L55.1 65.7 L57.6 65.4" fill="none" stroke="#fafafa" stroke-width="1.30" stroke-linecap="round" stroke-linejoin="round"/><path d="M52.5 65.9 L54.9 67.5 L57.0 69.4 L58.7 71.6 L60.0 74.2" fill="none" stroke="#fafafa" stroke-width="0.91" stroke-linecap="round" stroke-linejoin="round"/><path d="M57.0 69.4 L55.8 71.6 L54.2 73.5 L52.4 75.3" fill="none" stroke="#fafafa" stroke-width="0.64" stroke-linecap="round" stroke-linejoin="round"/><path d="M54.9 67.5 L54.1 69.9 L53.3 72.4" fill="none" stroke="#fafafa" stroke-width="0.64" stroke-linecap="round" stroke-linejoin="round"/></g></g>
<g clip-path="url(#cw)"><g filter="url(#tb0_6)"><path d="M42.0 46.0 L44.9 46.9 L47.8 47.6 L50.5 48.8 L53.1 50.3" fill="none" stroke="#f2f2f2" stroke-width="1.00" stroke-linecap="round" stroke-linejoin="round"/></g></g>
</g>
</g>
<rect x="12.4" y="27.5" width="18.7" height="25.9" fill="none" stroke="#000" stroke-width="1.6"/>
<rect x="48" y="27.5" width="18.5" height="25.9" fill="none" stroke="#000" stroke-width="1.6"/>
</svg></g>
<g transform="translate(18.5,291.9)">
<svg width="76" height="81.9" viewBox="0 0 76 82" preserveAspectRatio="none" overflow="hidden"><g filter="url(#jet)"><rect width="76" height="82" fill="#0f0f0f"/>
<path d="M24 -1 L60 -1 C64 2 70 4 77 4 L77 62 C70 66 60 72 48 77 C42 79 38 80 34 80 C24 79 16 77 12 76 C6 74 2 72 -1 70 L-1 32 C2 30 5 24 8 15 C12 9 17 4 24 -1Z" fill="#696969" filter="url(#tb0_8)" />
<path d="M70 8 C74 10 77 14 77 20 L77 62 C74 60 70 50 68 40 C66 30 66 18 70 8Z" fill="#333333" filter="url(#tb2)" />
<path d="M22 0 C26 8 28 16 30 26 L25 26 C23 16 20 8 16 4Z" fill="#525252" filter="url(#tb1_2)" />
<path d="M48 0 C52 8 56 16 60 26 L54 28 C50 18 46 8 44 2Z" fill="#525252" filter="url(#tb1_2)" />
<path d="M6 27 C10 19 14 13 19 6 L22 9 C20 17 16 23 11 29Z" fill="#a8a8a8" filter="url(#tb1)" />
<path d="M58 4 C64 6 70 8 77 10 L77 14 C70 13 62 11 57 9Z" fill="#808080" filter="url(#tb1)" />
<ellipse cx="63" cy="7" rx="3" ry="1.5" fill="#a8a8a8" filter="url(#tb1)"/>
<path d="M10 34 C16 26 22 20 30 14 C38 14 42 30 44 50 C46 60 56 66 62 70 C56 74 44 78 34 78 C22 76 14 72 10 64 C8 54 8 42 10 34Z" fill="#858585" filter="url(#tb2_5)" />
<path d="M14 56 C20 60 30 66 40 70 C48 72 54 72 58 70 C52 76 40 78 30 78 C20 76 14 70 12 62Z" fill="#999999" filter="url(#tb2)" />
<path d="M4 38 C8 48 8 60 10 70 L2 70 C0 60 0 48 4 38Z" fill="#616161" filter="url(#tb1_5)" />
<path d="M46 20 C56 24 66 30 70 40 C72 50 70 60 62 66 C54 62 48 56 46 46Z" fill="#5c5c5c" filter="url(#tb2)" />
<path d="M28 8 C40 8 44 26 46 40 C50 50 58 58 60 64 C54 70 44 74 36 74 C26 74 18 68 18 62 C20 54 26 50 26 42 C26 32 26 20 28 8Z" fill="#ababab" filter="url(#tb2_5)" />
<path d="M30 68 L38 80" fill="none" stroke="#383838" stroke-width="0.8" stroke-linecap="round" filter="url(#tb0_6)"/>
<g filter="url(#nzhi)">
<path d="M32 10 C38 10 40 26 42 40 C46 50 52 56 54 62 C48 68 40 68 32 66 C26 62 28 54 30 44 C30 32 30 20 32 10Z" fill="#c2c2c2" filter="url(#tb1_2)" />
<ellipse cx="21" cy="72" rx="7" ry="3.5" fill="#cccccc" filter="url(#tb1)"/>
<ellipse cx="62" cy="70" rx="3" ry="2" fill="#d1d1d1" filter="url(#tb0_6)"/>
<path d="M44 58 L58 62 M40 62 L50 68" fill="none" stroke="#c7c7c7" stroke-width="1.8" stroke-linecap="round" filter="url(#tb0_8)"/>
<path d="M31 8 C36 7 42 7 47 7.5" fill="none" stroke="#f7f7f7" stroke-width="1.8" stroke-linecap="round" filter="url(#tb0_6)"/>
<path d="M34 24 C40 26 42 38 42 46 C46 54 50 60 48 64 C42 66 36 66 30 62 C28 54 32 48 32 40 C32 32 32 28 34 24Z" fill="#e0e0e0" filter="url(#tb1_2)" />
<g clip-path="url(#cc)"><g filter="url(#tb0_6)"><path d="M39.0 8.0 L38.7 10.5 L38.6 13.1 L38.1 15.6 L37.7 18.1 L37.3 20.6 L36.8 23.1 L36.6 25.6 L36.8 28.2 L37.0 30.7 L37.5 33.2 L37.8 35.7 L38.2 38.2 L38.8 40.7 L39.5 43.2 L40.5 45.5 L41.3 47.9 L41.8 50.4 L42.3 52.9 L42.6 55.4 L43.0 57.9 L43.2 60.5 L43.6 63.0" fill="none" stroke="#fafafa" stroke-width="2.00" stroke-linecap="round" stroke-linejoin="round"/><path d="M39.5 43.2 L42.0 43.7 L44.6 43.8 L47.1 43.9 L49.7 43.7 L52.2 43.2 L54.8 43.2 L57.3 43.7 L59.9 43.6 L62.4 43.1 L64.9 42.7 L67.4 42.7 L70.0 43.2 L72.4 43.8 L74.9 44.7" fill="none" stroke="#fafafa" stroke-width="1.40" stroke-linecap="round" stroke-linejoin="round"/><path d="M74.9 44.7 L75.0 47.3 L74.9 49.9 L74.7 52.6 L74.0 55.1 L73.8 57.7 L73.6 60.3 L73.3 62.9 L72.5 65.4" fill="none" stroke="#fafafa" stroke-width="0.98" stroke-linecap="round" stroke-linejoin="round"/><path d="M73.6 60.3 L74.3 62.8 L74.9 65.3 L75.5 67.8 L76.0 70.3" fill="none" stroke="#fafafa" stroke-width="0.69" stroke-linecap="round" stroke-linejoin="round"/><path d="M64.9 42.7 L66.7 44.6 L68.3 46.7 L70.2 48.5 L71.9 50.6 L73.3 52.8 L74.5 55.1 L75.6 57.5 L76.5 60.0 L77.5 62.4" fill="none" stroke="#fafafa" stroke-width="0.98" stroke-linecap="round" stroke-linejoin="round"/><path d="M66.7 44.6 L64.9 46.9 L63.4 49.3 L62.1 51.9 L61.0 54.6 L60.2 57.3" fill="none" stroke="#fafafa" stroke-width="0.69" stroke-linecap="round" stroke-linejoin="round"/><path d="M76.5 60.0 L79.1 59.8 L81.6 59.3 L84.1 58.5 L86.5 57.4 L89.0 56.7" fill="none" stroke="#fafafa" stroke-width="0.69" stroke-linecap="round" stroke-linejoin="round"/><path d="M70.2 48.5 L72.7 48.9 L75.3 48.8 L77.8 48.4 L80.3 48.4 L82.8 48.4 L85.4 48.7" fill="none" stroke="#fafafa" stroke-width="0.69" stroke-linecap="round" stroke-linejoin="round"/><path d="M44.6 43.8 L47.3 43.3 L50.0 42.6 L52.6 41.9 L55.4 41.4 L58.1 40.9 L60.8 40.2 L63.4 39.4" fill="none" stroke="#fafafa" stroke-width="0.98" stroke-linecap="round" stroke-linejoin="round"/><path d="M58.1 40.9 L60.1 38.7 L62.1 36.5 L64.1 34.3 L65.7 31.8" fill="none" stroke="#fafafa" stroke-width="0.69" stroke-linecap="round" stroke-linejoin="round"/><path d="M63.4 39.4 L64.2 36.6 L65.5 34.1 L66.2 31.3 L66.5 28.5" fill="none" stroke="#fafafa" stroke-width="0.69" stroke-linecap="round" stroke-linejoin="round"/><path d="M41.3 47.9 L43.6 48.9 L45.9 50.0 L48.2 51.2 L50.5 52.1 L53.0 52.6 L55.5 53.0 L58.0 53.0 L60.4 52.5 L62.8 51.6 L65.3 51.1 L67.8 50.7 L70.3 50.6 L72.8 50.6 L75.3 50.5 L77.8 50.8" fill="none" stroke="#fafafa" stroke-width="1.40" stroke-linecap="round" stroke-linejoin="round"/><path d="M58.0 53.0 L59.8 55.1 L61.2 57.5 L62.6 59.9 L64.5 62.0 L66.2 64.2 L67.9 66.4 L69.1 68.9 L70.2 71.4" fill="none" stroke="#fafafa" stroke-width="0.98" stroke-linecap="round" stroke-linejoin="round"/><path d="M70.2 71.4 L72.8 72.5 L75.6 73.0 L78.3 73.5 L81.1 73.6 L83.9 74.1" fill="none" stroke="#fafafa" stroke-width="0.69" stroke-linecap="round" stroke-linejoin="round"/><path d="M64.5 62.0 L62.8 64.0 L61.0 65.8 L58.9 67.3 L56.6 68.5 L54.4 69.8" fill="none" stroke="#fafafa" stroke-width="0.69" stroke-linecap="round" stroke-linejoin="round"/><path d="M67.8 50.7 L69.3 53.0 L71.0 55.3 L72.6 57.5 L74.3 59.6 L75.6 62.1 L77.2 64.3 L78.3 66.9 L79.8 69.2 L81.5 71.4" fill="none" stroke="#fafafa" stroke-width="0.98" stroke-linecap="round" stroke-linejoin="round"/><path d="M75.6 62.1 L75.6 64.6 L75.3 67.2 L74.7 69.7 L73.9 72.1 L73.0 74.5" fill="none" stroke="#fafafa" stroke-width="0.69" stroke-linecap="round" stroke-linejoin="round"/><path d="M74.3 59.6 L77.0 60.4 L79.6 61.2 L82.3 61.9 L84.9 62.7 L87.6 63.5" fill="none" stroke="#fafafa" stroke-width="0.69" stroke-linecap="round" stroke-linejoin="round"/><path d="M42.3 52.9 L44.6 54.1 L47.1 54.8 L49.6 55.8 L51.8 57.1 L54.0 58.5 L56.4 59.7 L58.9 60.4 L61.4 61.1 L64.0 61.3 L66.6 61.1 L69.2 61.0" fill="none" stroke="#fafafa" stroke-width="1.40" stroke-linecap="round" stroke-linejoin="round"/><path d="M61.4 61.1 L63.5 63.0 L66.0 64.5 L68.1 66.4 L70.0 68.6 L71.6 71.0 L73.4 73.3" fill="none" stroke="#fafafa" stroke-width="0.98" stroke-linecap="round" stroke-linejoin="round"/><path d="M63.5 63.0 L66.2 62.5 L68.8 61.9 L71.5 61.5" fill="none" stroke="#fafafa" stroke-width="0.69" stroke-linecap="round" stroke-linejoin="round"/><path d="M63.5 63.0 L66.2 62.3 L68.7 61.2 L71.1 60.0 L73.5 58.6" fill="none" stroke="#fafafa" stroke-width="0.69" stroke-linecap="round" stroke-linejoin="round"/><path d="M63.5 63.0 L66.3 63.4 L69.1 64.1 L71.8 65.0 L74.5 65.9" fill="none" stroke="#fafafa" stroke-width="0.69" stroke-linecap="round" stroke-linejoin="round"/><path d="M61.4 61.1 L64.2 62.1 L66.9 63.2 L69.6 64.4 L72.4 65.3 L75.1 66.5" fill="none" stroke="#fafafa" stroke-width="0.98" stroke-linecap="round" stroke-linejoin="round"/><path d="M66.9 63.2 L68.8 66.1 L70.9 68.8" fill="none" stroke="#fafafa" stroke-width="0.69" stroke-linecap="round" stroke-linejoin="round"/><path d="M64.2 62.1 L66.7 60.4 L69.0 58.4 L71.6 56.8" fill="none" stroke="#fafafa" stroke-width="0.69" stroke-linecap="round" stroke-linejoin="round"/></g></g>
<g clip-path="url(#cc)"><g filter="url(#tb0_6)"><path d="M36.0 36.0 L33.4 35.8 L30.9 35.5 L28.3 35.4 L25.9 34.6 L23.5 33.7 L21.1 32.7 L19.0 31.2" fill="none" stroke="#fafafa" stroke-width="1.40" stroke-linecap="round" stroke-linejoin="round"/><path d="M30.9 35.5 L30.5 32.7 L30.6 29.9 L30.7 27.0 L30.1 24.3" fill="none" stroke="#fafafa" stroke-width="0.98" stroke-linecap="round" stroke-linejoin="round"/><path d="M30.1 24.3 L31.7 21.8 L33.1 19.3" fill="none" stroke="#fafafa" stroke-width="0.69" stroke-linecap="round" stroke-linejoin="round"/><path d="M30.5 32.7 L33.5 31.0 L36.2 28.8" fill="none" stroke="#fafafa" stroke-width="0.69" stroke-linecap="round" stroke-linejoin="round"/><path d="M30.7 27.0 L28.2 25.9 L25.6 24.9" fill="none" stroke="#fafafa" stroke-width="0.69" stroke-linecap="round" stroke-linejoin="round"/><path d="M21.1 32.7 L18.1 33.0 L15.1 33.0 L12.1 33.1 L9.2 34.0" fill="none" stroke="#fafafa" stroke-width="0.98" stroke-linecap="round" stroke-linejoin="round"/><path d="M15.1 33.0 L13.5 35.0 L11.9 36.9 L10.3 38.8" fill="none" stroke="#fafafa" stroke-width="0.69" stroke-linecap="round" stroke-linejoin="round"/><path d="M18.1 33.0 L16.8 35.7 L16.1 38.6" fill="none" stroke="#fafafa" stroke-width="0.69" stroke-linecap="round" stroke-linejoin="round"/></g></g>
<g clip-path="url(#cc)"><g filter="url(#tb0_6)"><path d="M38.0 58.0 L35.6 59.0 L33.4 60.3 L31.0 61.3 L28.8 62.5 L26.3 63.3 L24.0 64.4 L21.6 65.4" fill="none" stroke="#fafafa" stroke-width="1.30" stroke-linecap="round" stroke-linejoin="round"/><path d="M35.6 59.0 L34.9 61.6 L34.8 64.4 L35.1 67.2 L36.0 69.8" fill="none" stroke="#fafafa" stroke-width="0.91" stroke-linecap="round" stroke-linejoin="round"/><path d="M36.0 69.8 L38.5 70.2 L41.0 70.8" fill="none" stroke="#fafafa" stroke-width="0.64" stroke-linecap="round" stroke-linejoin="round"/><path d="M36.0 69.8 L39.3 70.5 L42.7 70.5" fill="none" stroke="#fafafa" stroke-width="0.64" stroke-linecap="round" stroke-linejoin="round"/></g></g>
<g clip-path="url(#cc)"><g filter="url(#tb0_6)"><path d="M40.0 58.0 L42.6 58.3 L45.1 58.8 L47.6 59.4 L50.1 59.4 L52.6 58.7 L55.2 58.7 L57.7 58.5" fill="none" stroke="#fafafa" stroke-width="1.30" stroke-linecap="round" stroke-linejoin="round"/><path d="M55.2 58.7 L57.5 60.3 L59.7 61.9 L61.6 64.0" fill="none" stroke="#fafafa" stroke-width="0.91" stroke-linecap="round" stroke-linejoin="round"/><path d="M57.5 60.3 L59.6 59.5 L61.7 58.7" fill="none" stroke="#fafafa" stroke-width="0.64" stroke-linecap="round" stroke-linejoin="round"/><path d="M57.5 60.3 L57.0 62.8 L57.0 65.4" fill="none" stroke="#fafafa" stroke-width="0.64" stroke-linecap="round" stroke-linejoin="round"/><path d="M61.6 64.0 L64.1 63.9 L66.5 64.2" fill="none" stroke="#fafafa" stroke-width="0.64" stroke-linecap="round" stroke-linejoin="round"/><path d="M50.1 59.4 L51.4 62.1 L53.4 64.4 L54.9 67.0" fill="none" stroke="#fafafa" stroke-width="0.91" stroke-linecap="round" stroke-linejoin="round"/><path d="M54.9 67.0 L57.9 66.4 L60.8 65.6" fill="none" stroke="#fafafa" stroke-width="0.64" stroke-linecap="round" stroke-linejoin="round"/><path d="M54.9 67.0 L57.4 66.9 L59.9 66.2" fill="none" stroke="#fafafa" stroke-width="0.64" stroke-linecap="round" stroke-linejoin="round"/></g></g>
<g clip-path="url(#cc)"><g filter="url(#tb0_6)"><path d="M40.0 44.0 L42.9 43.1 L45.8 42.6 L48.6 41.5 L51.2 40.0" fill="none" stroke="#f2f2f2" stroke-width="1.00" stroke-linecap="round" stroke-linejoin="round"/></g></g>
</g>
</g>
<rect x="10.2" y="24.6" width="19" height="25.8" fill="none" stroke="#000" stroke-width="1.6"/>
<rect x="45.6" y="24.6" width="18.7" height="25.8" fill="none" stroke="#000" stroke-width="1.6"/>
</svg></g>
<g transform="translate(96.3,291.9)">
<svg width="76" height="81.9" viewBox="0 0 76 82" preserveAspectRatio="none" overflow="hidden"><g filter="url(#jet)"><rect width="76" height="82" fill="#0f0f0f"/>
<path d="M24 -1 L60 -1 C64 2 70 4 77 4 L77 62 C70 66 60 72 48 77 C42 79 38 80 34 80 C24 79 16 77 12 76 C6 74 2 72 -1 70 L-1 32 C2 30 5 24 8 15 C12 9 17 4 24 -1Z" fill="#696969" filter="url(#tb0_8)" />
<path d="M70 8 C74 10 77 14 77 20 L77 62 C74 60 70 50 68 40 C66 30 66 18 70 8Z" fill="#333333" filter="url(#tb2)" />
<path d="M22 0 C26 8 28 16 30 26 L25 26 C23 16 20 8 16 4Z" fill="#525252" filter="url(#tb1_2)" />
<path d="M48 0 C52 8 56 16 60 26 L54 28 C50 18 46 8 44 2Z" fill="#525252" filter="url(#tb1_2)" />
<path d="M6 27 C10 19 14 13 19 6 L22 9 C20 17 16 23 11 29Z" fill="#a8a8a8" filter="url(#tb1)" />
<path d="M58 4 C64 6 70 8 77 10 L77 14 C70 13 62 11 57 9Z" fill="#808080" filter="url(#tb1)" />
<ellipse cx="63" cy="7" rx="3" ry="1.5" fill="#a8a8a8" filter="url(#tb1)"/>
<path d="M10 34 C16 26 22 20 30 14 C38 14 42 30 44 50 C46 60 56 66 62 70 C56 74 44 78 34 78 C22 76 14 72 10 64 C8 54 8 42 10 34Z" fill="#858585" filter="url(#tb2_5)" />
<path d="M14 56 C20 60 30 66 40 70 C48 72 54 72 58 70 C52 76 40 78 30 78 C20 76 14 70 12 62Z" fill="#999999" filter="url(#tb2)" />
<path d="M4 38 C8 48 8 60 10 70 L2 70 C0 60 0 48 4 38Z" fill="#616161" filter="url(#tb1_5)" />
<path d="M46 20 C56 24 66 30 70 40 C72 50 70 60 62 66 C54 62 48 56 46 46Z" fill="#636363" filter="url(#tb2)" />
<path d="M28 8 C40 8 44 26 46 40 C50 50 58 58 60 64 C54 70 44 74 36 74 C26 74 18 68 18 62 C20 54 26 50 26 42 C26 32 26 20 28 8Z" fill="#ababab" filter="url(#tb2_5)" />
<path d="M30 68 L38 80" fill="none" stroke="#383838" stroke-width="0.8" stroke-linecap="round" filter="url(#tb0_6)"/>
<ellipse cx="55" cy="38" rx="9" ry="12" fill="#7a7a7a" filter="url(#tb2_5)"/>
<g filter="url(#nzhi)">
<path d="M32 10 C38 10 40 26 42 40 C46 50 52 56 54 62 C48 68 40 68 32 66 C26 62 28 54 30 44 C30 32 30 20 32 10Z" fill="#c2c2c2" filter="url(#tb1_2)" />
<ellipse cx="21" cy="72" rx="7" ry="3.5" fill="#cccccc" filter="url(#tb1)"/>
<ellipse cx="62" cy="70" rx="3" ry="2" fill="#d1d1d1" filter="url(#tb0_6)"/>
<path d="M44 58 L58 62 M40 62 L50 68" fill="none" stroke="#c7c7c7" stroke-width="1.8" stroke-linecap="round" filter="url(#tb0_8)"/>
<path d="M31 8 C36 7 42 7 47 7.5" fill="none" stroke="#f7f7f7" stroke-width="1.8" stroke-linecap="round" filter="url(#tb0_6)"/>
<path d="M34 24 C40 26 42 38 42 46 C46 54 50 60 48 64 C42 66 36 66 30 62 C28 54 32 48 32 40 C32 32 32 28 34 24Z" fill="#e0e0e0" filter="url(#tb1_2)" />
<g clip-path="url(#cc)"><g filter="url(#tb0_6)"><path d="M39.0 8.0 L39.0 10.5 L38.9 13.1 L38.6 15.6 L38.1 18.1 L37.3 20.5 L36.2 22.8 L35.4 25.2 L34.9 27.7 L34.4 30.2 L34.0 32.7 L33.2 35.2 L32.2 37.5 L31.2 39.8 L30.3 42.2 L29.7 44.7 L29.1 47.1 L28.0 49.4 L27.2 51.9 L26.4 54.3 L25.9 56.8 L25.2 59.2 L24.7 61.7" fill="none" stroke="#fafafa" stroke-width="2.00" stroke-linecap="round" stroke-linejoin="round"/><path d="M38.6 15.6 L39.4 18.1 L40.1 20.7 L40.3 23.3 L40.3 25.9 L40.7 28.5 L41.4 31.1 L41.9 33.7 L42.4 36.3 L43.4 38.7 L44.1 41.2 L44.7 43.8 L45.3 46.4 L45.9 48.9" fill="none" stroke="#fafafa" stroke-width="1.40" stroke-linecap="round" stroke-linejoin="round"/><path d="M40.7 28.5 L39.5 30.9 L38.5 33.4 L37.9 35.9 L37.1 38.4 L35.9 40.8 L35.1 43.3 L34.4 45.8 L33.6 48.4" fill="none" stroke="#fafafa" stroke-width="0.98" stroke-linecap="round" stroke-linejoin="round"/><path d="M38.5 33.4 L36.1 34.1 L33.6 34.7 L31.3 35.8 L29.0 36.9 L26.7 37.9" fill="none" stroke="#fafafa" stroke-width="0.69" stroke-linecap="round" stroke-linejoin="round"/><path d="M37.9 35.9 L35.5 37.9 L33.1 39.7 L30.3 41.0 L27.7 42.5" fill="none" stroke="#fafafa" stroke-width="0.69" stroke-linecap="round" stroke-linejoin="round"/><path d="M41.9 33.7 L40.5 36.2 L38.8 38.4 L37.5 40.9 L36.2 43.4 L34.5 45.7 L32.7 47.8 L30.9 50.0" fill="none" stroke="#fafafa" stroke-width="0.98" stroke-linecap="round" stroke-linejoin="round"/><path d="M38.8 38.4 L35.9 38.5 L33.0 38.7 L30.2 39.0 L27.3 39.7" fill="none" stroke="#fafafa" stroke-width="0.69" stroke-linecap="round" stroke-linejoin="round"/></g></g>
<g clip-path="url(#cc)"><g filter="url(#tb0_6)"><path d="M36.0 36.0 L33.6 35.2 L31.2 34.2 L28.7 33.6 L26.5 32.3 L24.4 30.7 L22.6 28.9 L20.8 27.1" fill="none" stroke="#fafafa" stroke-width="1.40" stroke-linecap="round" stroke-linejoin="round"/><path d="M33.6 35.2 L33.9 32.1 L34.0 29.0 L34.4 25.9 L34.1 22.8" fill="none" stroke="#fafafa" stroke-width="0.98" stroke-linecap="round" stroke-linejoin="round"/><path d="M34.4 25.9 L35.0 23.2 L35.8 20.7 L36.9 18.2" fill="none" stroke="#fafafa" stroke-width="0.69" stroke-linecap="round" stroke-linejoin="round"/><path d="M34.1 22.8 L35.2 20.2 L36.9 17.9 L38.4 15.5" fill="none" stroke="#fafafa" stroke-width="0.69" stroke-linecap="round" stroke-linejoin="round"/><path d="M26.5 32.3 L23.3 33.2 L20.0 33.3 L16.8 33.1" fill="none" stroke="#fafafa" stroke-width="0.98" stroke-linecap="round" stroke-linejoin="round"/><path d="M23.3 33.2 L21.7 31.3 L19.7 29.6" fill="none" stroke="#fafafa" stroke-width="0.69" stroke-linecap="round" stroke-linejoin="round"/></g></g>
<g clip-path="url(#cc)"><g filter="url(#tb0_6)"><path d="M38.0 58.0 L35.9 59.4 L33.6 60.7 L31.5 62.1 L29.2 63.3 L26.9 64.5 L24.7 65.8 L22.7 67.5" fill="none" stroke="#fafafa" stroke-width="1.30" stroke-linecap="round" stroke-linejoin="round"/><path d="M24.7 65.8 L21.9 66.1 L19.2 66.7 L16.4 66.8 L13.6 67.1" fill="none" stroke="#fafafa" stroke-width="0.91" stroke-linecap="round" stroke-linejoin="round"/><path d="M13.6 67.1 L10.8 65.7 L8.0 64.0" fill="none" stroke="#fafafa" stroke-width="0.64" stroke-linecap="round" stroke-linejoin="round"/><path d="M16.4 66.8 L14.6 69.0 L12.4 70.6" fill="none" stroke="#fafafa" stroke-width="0.64" stroke-linecap="round" stroke-linejoin="round"/><path d="M21.9 66.1 L20.3 68.4 L18.6 70.6" fill="none" stroke="#fafafa" stroke-width="0.64" stroke-linecap="round" stroke-linejoin="round"/><path d="M24.7 65.8 L24.9 68.7 L26.0 71.4 L26.9 74.2" fill="none" stroke="#fafafa" stroke-width="0.91" stroke-linecap="round" stroke-linejoin="round"/><path d="M26.9 74.2 L29.0 76.3 L31.2 78.2" fill="none" stroke="#fafafa" stroke-width="0.64" stroke-linecap="round" stroke-linejoin="round"/><path d="M26.0 71.4 L24.1 72.7 L22.7 74.5" fill="none" stroke="#fafafa" stroke-width="0.64" stroke-linecap="round" stroke-linejoin="round"/></g></g>
<g clip-path="url(#cc)"><g filter="url(#tb0_6)"><path d="M40.0 58.0 L42.0 59.6 L44.3 60.8 L46.5 62.1 L49.0 62.8 L51.5 62.9 L54.1 62.4 L56.6 62.1" fill="none" stroke="#fafafa" stroke-width="1.30" stroke-linecap="round" stroke-linejoin="round"/><path d="M54.1 62.4 L56.8 63.2 L59.6 63.9 L62.1 65.3" fill="none" stroke="#fafafa" stroke-width="0.91" stroke-linecap="round" stroke-linejoin="round"/><path d="M56.8 63.2 L57.2 65.5 L57.7 67.8" fill="none" stroke="#fafafa" stroke-width="0.64" stroke-linecap="round" stroke-linejoin="round"/><path d="M62.1 65.3 L63.0 67.3 L63.4 69.6" fill="none" stroke="#fafafa" stroke-width="0.64" stroke-linecap="round" stroke-linejoin="round"/><path d="M56.8 63.2 L58.6 62.4 L60.3 61.4" fill="none" stroke="#fafafa" stroke-width="0.64" stroke-linecap="round" stroke-linejoin="round"/><path d="M56.6 62.1 L59.0 63.7 L61.8 64.6 L64.4 66.1 L66.7 67.9" fill="none" stroke="#fafafa" stroke-width="0.91" stroke-linecap="round" stroke-linejoin="round"/><path d="M59.0 63.7 L59.5 66.7 L59.4 69.7" fill="none" stroke="#fafafa" stroke-width="0.64" stroke-linecap="round" stroke-linejoin="round"/><path d="M66.7 67.9 L69.7 66.7 L72.7 65.4" fill="none" stroke="#fafafa" stroke-width="0.64" stroke-linecap="round" stroke-linejoin="round"/><path d="M59.0 63.7 L60.8 66.2 L62.2 68.9" fill="none" stroke="#fafafa" stroke-width="0.64" stroke-linecap="round" stroke-linejoin="round"/></g></g>
<g clip-path="url(#cc)"><g filter="url(#tb0_6)"><path d="M40.0 44.0 L42.9 43.3 L45.8 42.3 L48.8 42.1 L51.7 42.6" fill="none" stroke="#f2f2f2" stroke-width="1.00" stroke-linecap="round" stroke-linejoin="round"/></g></g>
<g clip-path="url(#call)"><g filter="url(#tb0_6)"><path d="M44.0 34.0 L46.6 34.8 L49.1 36.0 L51.6 37.1 L54.1 38.2 L56.8 39.1 L59.1 40.5 L61.7 41.5 L64.4 41.7" fill="none" stroke="#e6e6e6" stroke-width="1.20" stroke-linecap="round" stroke-linejoin="round"/><path d="M54.1 38.2 L56.1 36.7 L58.1 35.2 L59.6 33.2 L60.5 30.8 L61.7 28.7 L63.2 26.6" fill="none" stroke="#e6e6e6" stroke-width="0.84" stroke-linecap="round" stroke-linejoin="round"/><path d="M59.6 33.2 L59.0 30.7 L58.2 28.2 L57.9 25.7 L58.0 23.1" fill="none" stroke="#e6e6e6" stroke-width="0.59" stroke-linecap="round" stroke-linejoin="round"/><path d="M59.1 40.5 L60.4 43.0 L62.0 45.5 L64.2 47.3 L67.0 48.2" fill="none" stroke="#e6e6e6" stroke-width="0.84" stroke-linecap="round" stroke-linejoin="round"/><path d="M62.0 45.5 L63.3 48.2 L65.1 50.8" fill="none" stroke="#e6e6e6" stroke-width="0.59" stroke-linecap="round" stroke-linejoin="round"/><path d="M62.0 45.5 L65.2 44.2 L68.2 42.5" fill="none" stroke="#e6e6e6" stroke-width="0.59" stroke-linecap="round" stroke-linejoin="round"/></g></g>
<g clip-path="url(#call)"><g filter="url(#tb0_6)"><path d="M44.0 58.0 L46.5 58.6 L49.0 59.0 L51.6 58.8 L54.1 59.4 L56.4 60.5 L58.6 61.8 L60.4 63.7" fill="none" stroke="#e6e6e6" stroke-width="1.20" stroke-linecap="round" stroke-linejoin="round"/><path d="M46.5 58.6 L45.0 60.8 L43.8 63.3 L41.9 65.2 L39.8 66.8" fill="none" stroke="#e6e6e6" stroke-width="0.84" stroke-linecap="round" stroke-linejoin="round"/><path d="M45.0 60.8 L41.6 59.8 L38.2 59.3" fill="none" stroke="#e6e6e6" stroke-width="0.59" stroke-linecap="round" stroke-linejoin="round"/><path d="M43.8 63.3 L41.3 62.7 L38.8 62.8" fill="none" stroke="#e6e6e6" stroke-width="0.59" stroke-linecap="round" stroke-linejoin="round"/></g></g>
</g>
</g>
<rect x="10.2" y="24.6" width="19" height="25.8" fill="none" stroke="#000" stroke-width="1.6"/>
<rect x="45.6" y="24.6" width="18.7" height="25.8" fill="none" stroke="#000" stroke-width="1.6"/>
</svg></g>
<g transform="translate(174.9,291.9)">
<svg width="76" height="81.9" viewBox="0 0 76 82" preserveAspectRatio="none" overflow="hidden"><g filter="url(#jet)"><rect width="76" height="82" fill="#0f0f0f"/>
<path d="M24 -1 L60 -1 C64 2 70 4 77 4 L77 62 C70 66 60 72 48 77 C42 79 38 80 34 80 C24 79 16 77 12 76 C6 74 2 72 -1 70 L-1 32 C2 30 5 24 8 15 C12 9 17 4 24 -1Z" fill="#696969" filter="url(#tb0_8)" />
<path d="M70 8 C74 10 77 14 77 20 L77 62 C74 60 70 50 68 40 C66 30 66 18 70 8Z" fill="#333333" filter="url(#tb2)" />
<path d="M22 0 C26 8 28 16 30 26 L25 26 C23 16 20 8 16 4Z" fill="#525252" filter="url(#tb1_2)" />
<path d="M48 0 C52 8 56 16 60 26 L54 28 C50 18 46 8 44 2Z" fill="#525252" filter="url(#tb1_2)" />
<path d="M6 27 C10 19 14 13 19 6 L22 9 C20 17 16 23 11 29Z" fill="#a8a8a8" filter="url(#tb1)" />
<path d="M58 4 C64 6 70 8 77 10 L77 14 C70 13 62 11 57 9Z" fill="#808080" filter="url(#tb1)" />
<ellipse cx="63" cy="7" rx="3" ry="1.5" fill="#a8a8a8" filter="url(#tb1)"/>
<path d="M10 34 C16 26 22 20 30 14 C38 14 42 30 44 50 C46 60 56 66 62 70 C56 74 44 78 34 78 C22 76 14 72 10 64 C8 54 8 42 10 34Z" fill="#858585" filter="url(#tb2_5)" />
<path d="M14 56 C20 60 30 66 40 70 C48 72 54 72 58 70 C52 76 40 78 30 78 C20 76 14 70 12 62Z" fill="#999999" filter="url(#tb2)" />
<path d="M4 38 C8 48 8 60 10 70 L2 70 C0 60 0 48 4 38Z" fill="#616161" filter="url(#tb1_5)" />
<path d="M46 20 C56 24 66 30 70 40 C72 50 70 60 62 66 C54 62 48 56 46 46Z" fill="#6b6b6b" filter="url(#tb2)" />
<path d="M28 8 C40 8 44 26 46 40 C50 50 58 58 60 64 C54 70 44 74 36 74 C26 74 18 68 18 62 C20 54 26 50 26 42 C26 32 26 20 28 8Z" fill="#ababab" filter="url(#tb2_5)" />
<path d="M30 68 L38 80" fill="none" stroke="#383838" stroke-width="0.8" stroke-linecap="round" filter="url(#tb0_6)"/>
<ellipse cx="55" cy="38" rx="9" ry="12" fill="#8c8c8c" filter="url(#tb2_5)"/>
<g filter="url(#nzhi)">
<path d="M32 10 C38 10 40 26 42 40 C46 50 52 56 54 62 C48 68 40 68 32 66 C26 62 28 54 30 44 C30 32 30 20 32 10Z" fill="#c2c2c2" filter="url(#tb1_2)" />
<ellipse cx="21" cy="72" rx="7" ry="3.5" fill="#cccccc" filter="url(#tb1)"/>
<ellipse cx="62" cy="70" rx="3" ry="2" fill="#d1d1d1" filter="url(#tb0_6)"/>
<path d="M44 58 L58 62 M40 62 L50 68" fill="none" stroke="#c7c7c7" stroke-width="1.8" stroke-linecap="round" filter="url(#tb0_8)"/>
<path d="M31 8 C36 7 42 7 47 7.5" fill="none" stroke="#f7f7f7" stroke-width="1.8" stroke-linecap="round" filter="url(#tb0_6)"/>
<path d="M34 24 C40 26 42 38 42 46 C46 54 50 60 48 64 C42 66 36 66 30 62 C28 54 32 48 32 40 C32 32 32 28 34 24Z" fill="#e0e0e0" filter="url(#tb1_2)" />
<g clip-path="url(#cc)"><g filter="url(#tb0_6)"><path d="M39.0 8.0 L39.5 10.5 L39.6 13.0 L39.5 15.6 L39.8 18.1 L40.1 20.6 L40.7 23.1 L40.9 25.6 L40.7 28.2 L40.8 30.7 L40.7 33.3 L40.7 35.8 L40.8 38.4 L41.1 40.9 L41.4 43.4 L41.8 45.9 L41.7 48.5 L41.4 51.0 L41.5 53.5 L41.8 56.1 L41.6 58.6 L41.2 61.1 L40.6 63.6" fill="none" stroke="#fafafa" stroke-width="2.00" stroke-linecap="round" stroke-linejoin="round"/><path d="M40.6 63.6 L39.0 65.6 L37.7 67.8 L36.2 69.9 L35.1 72.3 L34.3 74.7 L33.4 77.1 L32.0 79.3 L30.8 81.6 L29.4 83.7 L27.6 85.6 L26.2 87.7 L24.4 89.5" fill="none" stroke="#fafafa" stroke-width="1.40" stroke-linecap="round" stroke-linejoin="round"/><path d="M30.8 81.6 L30.8 84.1 L30.4 86.7 L30.3 89.2 L30.2 91.8 L29.7 94.3 L29.4 96.8 L29.6 99.4" fill="none" stroke="#fafafa" stroke-width="0.98" stroke-linecap="round" stroke-linejoin="round"/><path d="M30.8 84.1 L33.6 85.1 L36.5 86.2 L39.1 87.8" fill="none" stroke="#fafafa" stroke-width="0.69" stroke-linecap="round" stroke-linejoin="round"/><path d="M30.4 86.7 L27.9 88.7 L25.3 90.6 L22.4 92.0" fill="none" stroke="#fafafa" stroke-width="0.69" stroke-linecap="round" stroke-linejoin="round"/><path d="M29.6 99.4 L31.8 101.0 L34.1 102.4 L36.3 104.0 L38.4 105.8" fill="none" stroke="#fafafa" stroke-width="0.69" stroke-linecap="round" stroke-linejoin="round"/><path d="M39.0 65.6 L36.2 66.2 L33.5 66.9 L30.8 67.8 L27.9 68.2 L25.1 68.7 L22.3 69.3" fill="none" stroke="#fafafa" stroke-width="0.98" stroke-linecap="round" stroke-linejoin="round"/><path d="M25.1 68.7 L22.6 67.4 L19.9 66.4 L17.3 65.2 L14.6 64.3" fill="none" stroke="#fafafa" stroke-width="0.69" stroke-linecap="round" stroke-linejoin="round"/><path d="M33.5 66.9 L30.5 65.6 L27.5 64.3 L24.6 62.7" fill="none" stroke="#fafafa" stroke-width="0.69" stroke-linecap="round" stroke-linejoin="round"/><path d="M40.8 30.7 L38.5 31.8 L36.0 32.5 L33.6 33.1 L31.0 33.4 L28.5 33.6 L26.0 33.4 L23.5 32.8 L21.0 32.1 L18.8 30.9 L16.8 29.3 L14.6 27.9 L12.3 27.0" fill="none" stroke="#fafafa" stroke-width="1.40" stroke-linecap="round" stroke-linejoin="round"/><path d="M36.0 32.5 L35.5 30.0 L34.6 27.6 L33.8 25.1 L32.7 22.8 L31.6 20.4 L30.6 18.0 L29.8 15.5 L29.4 13.0" fill="none" stroke="#fafafa" stroke-width="0.98" stroke-linecap="round" stroke-linejoin="round"/><path d="M30.6 18.0 L31.7 15.6 L32.5 13.2 L33.2 10.7 L33.3 8.1 L33.0 5.6" fill="none" stroke="#fafafa" stroke-width="0.69" stroke-linecap="round" stroke-linejoin="round"/><path d="M32.7 22.8 L33.8 20.3 L35.1 17.9 L36.8 15.8 L38.7 13.9 L40.4 11.8" fill="none" stroke="#fafafa" stroke-width="0.69" stroke-linecap="round" stroke-linejoin="round"/><path d="M23.5 32.8 L20.9 34.1 L18.6 35.8 L16.5 37.8 L14.7 40.1 L12.9 42.3 L10.6 44.1" fill="none" stroke="#fafafa" stroke-width="0.98" stroke-linecap="round" stroke-linejoin="round"/><path d="M14.7 40.1 L12.3 39.2 L10.1 37.9 L8.0 36.5 L5.8 35.2" fill="none" stroke="#fafafa" stroke-width="0.69" stroke-linecap="round" stroke-linejoin="round"/><path d="M10.6 44.1 L10.0 46.8 L9.3 49.6 L8.9 52.4" fill="none" stroke="#fafafa" stroke-width="0.69" stroke-linecap="round" stroke-linejoin="round"/><path d="M41.8 45.9 L39.5 47.0 L37.4 48.4 L35.3 49.9 L33.5 51.6 L31.9 53.6 L30.8 55.9 L29.4 58.0 L27.9 60.0 L26.0 61.7 L24.3 63.6 L22.4 65.3 L20.8 67.3" fill="none" stroke="#fafafa" stroke-width="1.40" stroke-linecap="round" stroke-linejoin="round"/><path d="M22.4 65.3 L22.8 67.8 L23.1 70.3 L23.8 72.8 L24.2 75.3 L24.7 77.7 L25.4 80.2" fill="none" stroke="#fafafa" stroke-width="0.98" stroke-linecap="round" stroke-linejoin="round"/><path d="M22.8 67.8 L21.2 69.8 L19.4 71.6 L17.7 73.6" fill="none" stroke="#fafafa" stroke-width="0.69" stroke-linecap="round" stroke-linejoin="round"/><path d="M24.7 77.7 L23.0 79.7 L21.8 81.9 L20.1 83.8 L18.7 86.0" fill="none" stroke="#fafafa" stroke-width="0.69" stroke-linecap="round" stroke-linejoin="round"/><path d="M25.4 80.2 L23.8 82.3 L22.6 84.7 L21.4 87.2" fill="none" stroke="#fafafa" stroke-width="0.69" stroke-linecap="round" stroke-linejoin="round"/></g></g>
<g clip-path="url(#cc)"><g filter="url(#tb0_6)"><path d="M36.0 36.0 L33.4 35.9 L30.9 36.4 L28.4 37.1 L26.2 38.3 L23.7 38.9 L21.5 40.2 L19.2 41.5" fill="none" stroke="#fafafa" stroke-width="1.40" stroke-linecap="round" stroke-linejoin="round"/><path d="M28.4 37.1 L27.4 40.1 L26.8 43.2 L27.2 46.4" fill="none" stroke="#fafafa" stroke-width="0.98" stroke-linecap="round" stroke-linejoin="round"/><path d="M27.4 40.1 L26.4 42.4 L24.8 44.4" fill="none" stroke="#fafafa" stroke-width="0.69" stroke-linecap="round" stroke-linejoin="round"/><path d="M27.4 40.1 L29.8 42.2 L32.3 44.3" fill="none" stroke="#fafafa" stroke-width="0.69" stroke-linecap="round" stroke-linejoin="round"/><path d="M26.8 43.2 L25.5 45.0 L24.1 46.8" fill="none" stroke="#fafafa" stroke-width="0.69" stroke-linecap="round" stroke-linejoin="round"/><path d="M26.2 38.3 L26.3 41.0 L25.7 43.7 L25.9 46.4 L25.5 49.1" fill="none" stroke="#fafafa" stroke-width="0.98" stroke-linecap="round" stroke-linejoin="round"/><path d="M25.5 49.1 L23.2 50.2 L21.2 51.7" fill="none" stroke="#fafafa" stroke-width="0.69" stroke-linecap="round" stroke-linejoin="round"/><path d="M26.3 41.0 L23.9 42.3 L21.6 43.7" fill="none" stroke="#fafafa" stroke-width="0.69" stroke-linecap="round" stroke-linejoin="round"/><path d="M26.3 41.0 L24.1 43.8 L21.7 46.4" fill="none" stroke="#fafafa" stroke-width="0.69" stroke-linecap="round" stroke-linejoin="round"/></g></g>
<g clip-path="url(#cc)"><g filter="url(#tb0_6)"><path d="M38.0 58.0 L36.4 60.0 L34.7 61.9 L32.9 63.7 L31.5 65.9 L30.9 68.4 L29.6 70.7 L28.4 72.9" fill="none" stroke="#fafafa" stroke-width="1.30" stroke-linecap="round" stroke-linejoin="round"/><path d="M29.6 70.7 L27.0 71.8 L24.5 72.9 L21.7 73.5" fill="none" stroke="#fafafa" stroke-width="0.91" stroke-linecap="round" stroke-linejoin="round"/><path d="M27.0 71.8 L26.6 74.0 L26.2 76.3" fill="none" stroke="#fafafa" stroke-width="0.64" stroke-linecap="round" stroke-linejoin="round"/><path d="M27.0 71.8 L25.1 70.0 L22.8 68.8" fill="none" stroke="#fafafa" stroke-width="0.64" stroke-linecap="round" stroke-linejoin="round"/><path d="M21.7 73.5 L20.5 75.6 L19.0 77.5" fill="none" stroke="#fafafa" stroke-width="0.64" stroke-linecap="round" stroke-linejoin="round"/><path d="M31.5 65.9 L28.5 65.7 L25.6 66.2 L22.6 66.2" fill="none" stroke="#fafafa" stroke-width="0.91" stroke-linecap="round" stroke-linejoin="round"/><path d="M22.6 66.2 L21.6 69.0 L20.7 71.9" fill="none" stroke="#fafafa" stroke-width="0.64" stroke-linecap="round" stroke-linejoin="round"/><path d="M22.6 66.2 L21.4 68.4 L20.7 70.8" fill="none" stroke="#fafafa" stroke-width="0.64" stroke-linecap="round" stroke-linejoin="round"/></g></g>
<g clip-path="url(#cc)"><g filter="url(#tb0_6)"><path d="M40.0 58.0 L42.3 59.1 L44.4 60.6 L46.7 61.8 L48.6 63.5 L50.1 65.6 L51.0 68.0 L51.7 70.5" fill="none" stroke="#fafafa" stroke-width="1.30" stroke-linecap="round" stroke-linejoin="round"/><path d="M51.7 70.5 L54.0 71.7 L56.1 73.4 L58.1 75.1 L59.8 77.1" fill="none" stroke="#fafafa" stroke-width="0.91" stroke-linecap="round" stroke-linejoin="round"/><path d="M59.8 77.1 L60.7 79.5 L61.8 81.7" fill="none" stroke="#fafafa" stroke-width="0.64" stroke-linecap="round" stroke-linejoin="round"/><path d="M54.0 71.7 L53.7 74.9 L53.9 78.0" fill="none" stroke="#fafafa" stroke-width="0.64" stroke-linecap="round" stroke-linejoin="round"/><path d="M51.7 70.5 L53.8 72.8 L56.1 75.0 L58.4 77.1" fill="none" stroke="#fafafa" stroke-width="0.91" stroke-linecap="round" stroke-linejoin="round"/><path d="M58.4 77.1 L61.4 77.4 L64.4 77.1" fill="none" stroke="#fafafa" stroke-width="0.64" stroke-linecap="round" stroke-linejoin="round"/></g></g>
<g clip-path="url(#cc)"><g filter="url(#tb0_6)"><path d="M40.0 44.0 L42.9 43.4 L45.9 42.8 L48.9 42.6 L51.8 43.0" fill="none" stroke="#f2f2f2" stroke-width="1.00" stroke-linecap="round" stroke-linejoin="round"/></g></g>
<g clip-path="url(#call)"><g filter="url(#tb0_6)"><path d="M44.0 34.0 L46.4 35.4 L48.3 37.3 L50.8 38.6 L53.4 39.3 L56.2 39.6 L58.8 40.2 L61.5 40.9 L64.1 41.7" fill="none" stroke="#e6e6e6" stroke-width="1.20" stroke-linecap="round" stroke-linejoin="round"/><path d="M56.2 39.6 L57.1 42.0 L57.8 44.6 L59.2 46.8 L59.9 49.4 L59.8 52.0" fill="none" stroke="#e6e6e6" stroke-width="0.84" stroke-linecap="round" stroke-linejoin="round"/><path d="M59.2 46.8 L57.6 49.9 L55.0 52.3" fill="none" stroke="#e6e6e6" stroke-width="0.59" stroke-linecap="round" stroke-linejoin="round"/><path d="M57.8 44.6 L55.2 45.0 L52.6 45.1 L49.9 45.1" fill="none" stroke="#e6e6e6" stroke-width="0.59" stroke-linecap="round" stroke-linejoin="round"/></g></g>
<g clip-path="url(#call)"><g filter="url(#tb0_6)"><path d="M44.0 58.0 L46.5 58.6 L49.1 58.5 L51.6 57.9 L54.1 58.0 L56.6 58.8 L59.0 59.6 L61.4 60.7" fill="none" stroke="#e6e6e6" stroke-width="1.20" stroke-linecap="round" stroke-linejoin="round"/><path d="M54.1 58.0 L55.8 56.0 L57.7 54.3 L60.1 53.1 L62.6 52.4" fill="none" stroke="#e6e6e6" stroke-width="0.84" stroke-linecap="round" stroke-linejoin="round"/><path d="M62.6 52.4 L62.7 49.7 L62.6 47.0" fill="none" stroke="#e6e6e6" stroke-width="0.59" stroke-linecap="round" stroke-linejoin="round"/><path d="M60.1 53.1 L61.6 49.8 L63.5 46.7" fill="none" stroke="#e6e6e6" stroke-width="0.59" stroke-linecap="round" stroke-linejoin="round"/><path d="M59.0 59.6 L61.8 58.6 L64.5 57.5 L67.4 56.8" fill="none" stroke="#e6e6e6" stroke-width="0.84" stroke-linecap="round" stroke-linejoin="round"/><path d="M61.8 58.6 L62.3 56.5 L63.1 54.5" fill="none" stroke="#e6e6e6" stroke-width="0.59" stroke-linecap="round" stroke-linejoin="round"/></g></g>
</g>
</g>
<rect x="10.2" y="24.6" width="19" height="25.8" fill="none" stroke="#000" stroke-width="1.6"/>
<rect x="45.6" y="24.6" width="18.7" height="25.8" fill="none" stroke="#000" stroke-width="1.6"/>
</svg></g>
<text x="7.2" y="15.8" font-size="11.8" font-weight="bold" fill="#000">A</text>
<text x="120.5" y="21.7" font-size="9.13" text-anchor="middle" font-weight="bold" fill="#000" textLength="110.6" lengthAdjust="spacingAndGlyphs" >Time after injection (min)</text>
<text x="55.1" y="34.9" font-size="9.46" text-anchor="middle" font-weight="normal" fill="#231f20" stroke="#231f20" stroke-width="0.1" textLength="4.8" lengthAdjust="spacingAndGlyphs" >0</text>
<text x="135" y="34.9" font-size="9.46" text-anchor="middle" font-weight="normal" fill="#231f20" stroke="#231f20" stroke-width="0.1" textLength="9.6" lengthAdjust="spacingAndGlyphs" >30</text>
<text x="210.6" y="34.9" font-size="9.46" text-anchor="middle" font-weight="normal" fill="#231f20" stroke="#231f20" stroke-width="0.1" textLength="9.6" lengthAdjust="spacingAndGlyphs" >60</text>
<text x="23.8" y="55.4" font-size="10.56" text-anchor="start" font-weight="bold" fill="#000" textLength="33.4" lengthAdjust="spacingAndGlyphs" >Contra</text>
<text x="66.2" y="55.4" font-size="10.56" text-anchor="start" font-weight="bold" fill="#000" textLength="16.1" lengthAdjust="spacingAndGlyphs" >Ipsi</text>
<text transform="translate(15.1,79.95) rotate(-90)" x="0" y="0" font-size="9.2" text-anchor="middle" fill="#231f20" textLength="27.5" lengthAdjust="spacingAndGlyphs">Vehicle</text>
<text transform="translate(15.1,163.85000000000002) rotate(-90)" x="0" y="0" font-size="9.2" text-anchor="middle" fill="#231f20" textLength="18.5" lengthAdjust="spacingAndGlyphs">NAC</text>
<text transform="translate(15.1,247.75) rotate(-90)" x="0" y="0" font-size="9.2" text-anchor="middle" fill="#231f20" textLength="54.3" lengthAdjust="spacingAndGlyphs">wtADAMTS13</text>
<text transform="translate(15.1,330.34999999999997) rotate(-90)" x="0" y="0" font-size="9.2" text-anchor="middle" fill="#231f20" textLength="50.3" lengthAdjust="spacingAndGlyphs">caADAMTS13</text>
<rect x="53" y="391" width="153" height="10" fill="url(#jetg)"/>
<text x="48.4" y="398.8" font-size="9.68" text-anchor="end" font-weight="normal" fill="#231f20" stroke="#231f20" stroke-width="0.18" >0</text>
<text x="210" y="399.2" font-size="10.34" text-anchor="start" font-weight="normal" fill="#231f20" stroke="#231f20" stroke-width="0.18" textLength="17.9" lengthAdjust="spacingAndGlyphs" >1000</text>
<text x="129.6" y="386.2" font-size="8.14" text-anchor="middle" font-weight="normal" fill="#231f20" stroke="#231f20" stroke-width="0.18" textLength="26.8" lengthAdjust="spacingAndGlyphs" >Flux (PU)</text>
<text x="257.3" y="15.6" font-size="11.2" font-weight="bold" fill="#000">B</text>
<text x="387.3" y="15.6" font-size="11.2" font-weight="bold" fill="#000">C</text>
<line x1="290.4" y1="31" x2="290.4" y2="126.1" stroke="#231f20" stroke-width="1.1"/>
<line x1="287.4" y1="125.5" x2="382" y2="125.5" stroke="#231f20" stroke-width="1.2"/>
<line x1="287.6" y1="125.50" x2="290.4" y2="125.50" stroke="#231f20" stroke-width="1"/>
<text x="284.2" y="128.4" font-size="8.91" text-anchor="end" font-weight="normal" fill="#231f20" stroke="#231f20" stroke-width="0.18" textLength="4.1" lengthAdjust="spacingAndGlyphs" >0</text>
<line x1="287.6" y1="102.74" x2="290.4" y2="102.74" stroke="#231f20" stroke-width="1"/>
<text x="284.2" y="105.64000000000001" font-size="8.91" text-anchor="end" font-weight="normal" fill="#231f20" stroke="#231f20" stroke-width="0.18" textLength="12.7" lengthAdjust="spacingAndGlyphs" >200</text>
<line x1="287.6" y1="79.98" x2="290.4" y2="79.98" stroke="#231f20" stroke-width="1"/>
<text x="284.2" y="82.88000000000001" font-size="8.91" text-anchor="end" font-weight="normal" fill="#231f20" stroke="#231f20" stroke-width="0.18" textLength="12.7" lengthAdjust="spacingAndGlyphs" >400</text>
<line x1="287.6" y1="57.22" x2="290.4" y2="57.22" stroke="#231f20" stroke-width="1"/>
<text x="284.2" y="60.12" font-size="8.91" text-anchor="end" font-weight="normal" fill="#231f20" stroke="#231f20" stroke-width="0.18" textLength="12.7" lengthAdjust="spacingAndGlyphs" >600</text>
<line x1="287.6" y1="34.46" x2="290.4" y2="34.46" stroke="#231f20" stroke-width="1"/>
<text x="284.2" y="37.36000000000001" font-size="8.91" text-anchor="end" font-weight="normal" fill="#231f20" stroke="#231f20" stroke-width="0.18" textLength="12.7" lengthAdjust="spacingAndGlyphs" >800</text>
<line x1="303.00" y1="125.5" x2="303.00" y2="128.5" stroke="#231f20" stroke-width="1"/>
<text x="303.0" y="138.3" font-size="8.91" text-anchor="middle" font-weight="normal" fill="#231f20" stroke="#231f20" stroke-width="0.18" textLength="4.4" lengthAdjust="spacingAndGlyphs" >0</text>
<line x1="327.23" y1="125.5" x2="327.23" y2="128.5" stroke="#231f20" stroke-width="1"/>
<text x="327.234" y="138.3" font-size="8.91" text-anchor="middle" font-weight="normal" fill="#231f20" stroke="#231f20" stroke-width="0.18" textLength="9.2" lengthAdjust="spacingAndGlyphs" >20</text>
<line x1="351.47" y1="125.5" x2="351.47" y2="128.5" stroke="#231f20" stroke-width="1"/>
<text x="351.468" y="138.3" font-size="8.91" text-anchor="middle" font-weight="normal" fill="#231f20" stroke="#231f20" stroke-width="0.18" textLength="9.2" lengthAdjust="spacingAndGlyphs" >40</text>
<line x1="375.70" y1="125.5" x2="375.70" y2="128.5" stroke="#231f20" stroke-width="1"/>
<text x="375.702" y="138.3" font-size="8.91" text-anchor="middle" font-weight="normal" fill="#231f20" stroke="#231f20" stroke-width="0.18" textLength="9.2" lengthAdjust="spacingAndGlyphs" >60</text>
<text x="0" y="0" font-size="8.91" text-anchor="middle" font-weight="normal" fill="#231f20" stroke="#231f20" stroke-width="0.18" textLength="30.5" lengthAdjust="spacingAndGlyphs" transform="translate(266,78.2) rotate(-90)">Flux (PU)</text>
<path d="M295.73 54.18 L297.06 50.90 L298.40 48.73 L299.73 49.39 L301.06 49.39 L302.39 47.40 L303.73 45.50 L305.06 44.62 L306.39 47.46 L307.73 47.64 L309.06 45.73 L310.39 45.96 L311.72 44.94 L313.06 45.47 L314.39 46.51 L315.72 46.67 L317.06 43.95 L318.39 46.69 L319.72 47.16 L321.05 47.50 L322.39 46.32 L323.72 46.27 L325.05 46.74 L326.39 46.47 L327.72 46.14 L329.05 45.70 L330.38 45.29 L331.72 46.10 L333.05 47.98 L334.38 45.57 L335.72 47.57 L337.05 46.34 L338.38 47.56 L339.71 46.11 L341.05 46.83 L342.38 45.85 L343.71 42.87 L345.05 46.04 L346.38 45.15 L347.71 47.19 L349.04 46.17 L350.38 45.23 L351.71 45.93 L353.04 45.51 L354.38 45.78 L355.71 43.34 L357.04 45.37 L358.37 46.70 L359.71 44.15 L361.04 46.44 L362.37 45.32 L363.71 45.99 L365.04 45.10 L366.37 46.60 L367.70 45.09 L369.04 46.18 L370.37 44.45 L371.70 44.30 L373.04 44.01 L374.37 44.13 L375.70 42.40" fill="none" stroke="#c8102e" stroke-width="1.15" stroke-linejoin="round"/>
<path d="M295.73 92.35 L297.06 90.45 L298.40 90.05 L299.73 89.51 L301.06 88.05 L302.39 88.20 L303.73 87.96 L305.06 86.39 L306.39 87.97 L307.73 88.52 L309.06 88.61 L310.39 88.06 L311.72 87.27 L313.06 87.15 L314.39 86.98 L315.72 86.51 L317.06 86.62 L318.39 87.36 L319.72 86.91 L321.05 87.38 L322.39 88.24 L323.72 87.30 L325.05 87.84 L326.39 88.04 L327.72 86.53 L329.05 87.37 L330.38 88.22 L331.72 87.92 L333.05 86.25 L334.38 88.02 L335.72 87.33 L337.05 87.40 L338.38 87.46 L339.71 87.40 L341.05 88.12 L342.38 88.10 L343.71 87.88 L345.05 88.00 L346.38 87.19 L347.71 86.67 L349.04 88.34 L350.38 87.33 L351.71 88.38 L353.04 88.17 L354.38 88.12 L355.71 83.74 L357.04 89.69 L358.37 91.22 L359.71 88.48 L361.04 89.65 L362.37 89.92 L363.71 89.04 L365.04 89.95 L366.37 90.54 L367.70 89.24 L369.04 89.31 L370.37 93.23 L371.70 92.40 L373.04 90.92 L374.37 94.08 L375.70 94.19" fill="none" stroke="#1d5a93" stroke-width="1.15" stroke-linejoin="round"/>
<text x="328.3" y="39.4" font-size="8.80" text-anchor="start" font-weight="normal" fill="#231f20" stroke="#231f20" stroke-width="0.18" textLength="42.9" lengthAdjust="spacingAndGlyphs" >Contralateral</text>
<text x="336.5" y="80.8" font-size="8.80" text-anchor="start" font-weight="normal" fill="#231f20" stroke="#231f20" stroke-width="0.18" textLength="31.5" lengthAdjust="spacingAndGlyphs" >Ipsilateral</text>
<line x1="290.4" y1="141.7" x2="290.4" y2="237.79999999999998" stroke="#231f20" stroke-width="1.1"/>
<line x1="287.4" y1="237.2" x2="382" y2="237.2" stroke="#231f20" stroke-width="1.2"/>
<line x1="287.6" y1="237.20" x2="290.4" y2="237.20" stroke="#231f20" stroke-width="1"/>
<text x="284.2" y="240.1" font-size="8.91" text-anchor="end" font-weight="normal" fill="#231f20" stroke="#231f20" stroke-width="0.18" textLength="4.1" lengthAdjust="spacingAndGlyphs" >0</text>
<line x1="287.6" y1="214.36" x2="290.4" y2="214.36" stroke="#231f20" stroke-width="1"/>
<text x="284.2" y="217.26" font-size="8.91" text-anchor="end" font-weight="normal" fill="#231f20" stroke="#231f20" stroke-width="0.18" textLength="12.7" lengthAdjust="spacingAndGlyphs" >200</text>
<line x1="287.6" y1="191.52" x2="290.4" y2="191.52" stroke="#231f20" stroke-width="1"/>
<text x="284.2" y="194.42" font-size="8.91" text-anchor="end" font-weight="normal" fill="#231f20" stroke="#231f20" stroke-width="0.18" textLength="12.7" lengthAdjust="spacingAndGlyphs" >400</text>
<line x1="287.6" y1="168.68" x2="290.4" y2="168.68" stroke="#231f20" stroke-width="1"/>
<text x="284.2" y="171.58" font-size="8.91" text-anchor="end" font-weight="normal" fill="#231f20" stroke="#231f20" stroke-width="0.18" textLength="12.7" lengthAdjust="spacingAndGlyphs" >600</text>
<line x1="287.6" y1="145.84" x2="290.4" y2="145.84" stroke="#231f20" stroke-width="1"/>
<text x="284.2" y="148.73999999999998" font-size="8.91" text-anchor="end" font-weight="normal" fill="#231f20" stroke="#231f20" stroke-width="0.18" textLength="12.7" lengthAdjust="spacingAndGlyphs" >800</text>
<line x1="303.00" y1="237.2" x2="303.00" y2="240.2" stroke="#231f20" stroke-width="1"/>
<text x="303.0" y="250.0" font-size="8.91" text-anchor="middle" font-weight="normal" fill="#231f20" stroke="#231f20" stroke-width="0.18" textLength="4.4" lengthAdjust="spacingAndGlyphs" >0</text>
<line x1="327.23" y1="237.2" x2="327.23" y2="240.2" stroke="#231f20" stroke-width="1"/>
<text x="327.234" y="250.0" font-size="8.91" text-anchor="middle" font-weight="normal" fill="#231f20" stroke="#231f20" stroke-width="0.18" textLength="9.2" lengthAdjust="spacingAndGlyphs" >20</text>
<line x1="351.47" y1="237.2" x2="351.47" y2="240.2" stroke="#231f20" stroke-width="1"/>
<text x="351.468" y="250.0" font-size="8.91" text-anchor="middle" font-weight="normal" fill="#231f20" stroke="#231f20" stroke-width="0.18" textLength="9.2" lengthAdjust="spacingAndGlyphs" >40</text>
<line x1="375.70" y1="237.2" x2="375.70" y2="240.2" stroke="#231f20" stroke-width="1"/>
<text x="375.702" y="250.0" font-size="8.91" text-anchor="middle" font-weight="normal" fill="#231f20" stroke="#231f20" stroke-width="0.18" textLength="9.2" lengthAdjust="spacingAndGlyphs" >60</text>
<text x="0" y="0" font-size="8.91" text-anchor="middle" font-weight="normal" fill="#231f20" stroke="#231f20" stroke-width="0.18" textLength="30.5" lengthAdjust="spacingAndGlyphs" transform="translate(266,189.4) rotate(-90)">Flux (PU)</text>
<path d="M294.52 161.65 L295.85 161.31 L297.18 163.48 L298.52 163.75 L299.85 162.74 L301.18 161.80 L302.52 163.63 L303.85 165.69 L305.18 165.90 L306.51 165.79 L307.85 165.66 L309.18 167.41 L310.51 168.57 L311.85 167.69 L313.18 166.40 L314.51 166.34 L315.84 164.68 L317.18 163.42 L318.51 161.12 L319.84 161.72 L321.18 159.75 L322.51 161.18 L323.84 158.95 L325.17 159.16 L326.51 159.37 L327.84 158.44 L329.17 157.52 L330.51 158.68 L331.84 157.41 L333.17 156.94 L334.50 156.85 L335.84 156.85 L337.17 159.57 L338.50 158.05 L339.84 159.06 L341.17 157.65 L342.50 158.60 L343.83 158.58 L345.17 163.77 L346.50 159.60 L347.83 159.08 L349.17 159.97 L350.50 157.46 L351.83 160.01 L353.16 159.81 L354.50 161.74 L355.83 161.72 L357.16 161.37 L358.50 160.09 L359.83 160.36 L361.16 161.07 L362.49 162.19 L363.83 160.08 L365.16 162.95 L366.49 162.96 L367.83 161.86 L369.16 163.42 L370.49 162.39 L371.82 161.89 L373.16 163.04 L374.49 162.75" fill="none" stroke="#c8102e" stroke-width="1.15" stroke-linejoin="round"/>
<path d="M294.52 207.76 L295.85 209.14 L297.18 197.45 L298.52 212.22 L299.85 203.27 L301.18 205.50 L302.52 212.41 L303.85 201.61 L305.18 211.33 L306.51 207.23 L307.85 206.69 L309.18 208.86 L310.51 210.37 L311.85 209.84 L313.18 209.31 L314.51 210.39 L315.84 208.40 L317.18 208.55 L318.51 207.25 L319.84 209.00 L321.18 208.30 L322.51 207.42 L323.84 207.19 L325.17 208.90 L326.51 206.28 L327.84 208.37 L329.17 206.27 L330.51 207.47 L331.84 207.30 L333.17 207.84 L334.50 206.42 L335.84 203.60 L337.17 206.34 L338.50 203.87 L339.84 203.62 L341.17 204.61 L342.50 202.36 L343.83 201.35 L345.17 202.31 L346.50 201.80 L347.83 199.50 L349.17 199.47 L350.50 194.92 L351.83 193.84 L353.16 195.34 L354.50 194.39 L355.83 195.70 L357.16 193.91 L358.50 193.60 L359.83 194.17 L361.16 194.09 L362.49 191.74 L363.83 192.46 L365.16 190.29 L366.49 191.95 L367.83 190.68 L369.16 190.40 L370.49 190.34 L371.82 186.00 L373.16 186.49 L374.49 188.25" fill="none" stroke="#1d5a93" stroke-width="1.15" stroke-linejoin="round"/>
<text x="323" y="151.7" font-size="8.80" text-anchor="start" font-weight="normal" fill="#231f20" stroke="#231f20" stroke-width="0.18" textLength="44" lengthAdjust="spacingAndGlyphs" >Contralateral</text>
<text x="330.8" y="221.7" font-size="8.80" text-anchor="start" font-weight="normal" fill="#231f20" stroke="#231f20" stroke-width="0.18" textLength="31.7" lengthAdjust="spacingAndGlyphs" >Ipsilateral</text>
<line x1="290.4" y1="259" x2="290.4" y2="355.0" stroke="#231f20" stroke-width="1.1"/>
<line x1="287.4" y1="354.4" x2="382" y2="354.4" stroke="#231f20" stroke-width="1.2"/>
<line x1="287.6" y1="354.40" x2="290.4" y2="354.40" stroke="#231f20" stroke-width="1"/>
<text x="284.2" y="357.29999999999995" font-size="8.91" text-anchor="end" font-weight="normal" fill="#231f20" stroke="#231f20" stroke-width="0.18" textLength="4.1" lengthAdjust="spacingAndGlyphs" >0</text>
<line x1="287.6" y1="331.50" x2="290.4" y2="331.50" stroke="#231f20" stroke-width="1"/>
<text x="284.2" y="334.4" font-size="8.91" text-anchor="end" font-weight="normal" fill="#231f20" stroke="#231f20" stroke-width="0.18" textLength="12.7" lengthAdjust="spacingAndGlyphs" >200</text>
<line x1="287.6" y1="308.60" x2="290.4" y2="308.60" stroke="#231f20" stroke-width="1"/>
<text x="284.2" y="311.49999999999994" font-size="8.91" text-anchor="end" font-weight="normal" fill="#231f20" stroke="#231f20" stroke-width="0.18" textLength="12.7" lengthAdjust="spacingAndGlyphs" >400</text>
<line x1="287.6" y1="285.70" x2="290.4" y2="285.70" stroke="#231f20" stroke-width="1"/>
<text x="284.2" y="288.59999999999997" font-size="8.91" text-anchor="end" font-weight="normal" fill="#231f20" stroke="#231f20" stroke-width="0.18" textLength="12.7" lengthAdjust="spacingAndGlyphs" >600</text>
<line x1="287.6" y1="262.80" x2="290.4" y2="262.80" stroke="#231f20" stroke-width="1"/>
<text x="284.2" y="265.69999999999993" font-size="8.91" text-anchor="end" font-weight="normal" fill="#231f20" stroke="#231f20" stroke-width="0.18" textLength="12.7" lengthAdjust="spacingAndGlyphs" >800</text>
<line x1="303.00" y1="354.4" x2="303.00" y2="357.4" stroke="#231f20" stroke-width="1"/>
<text x="303.0" y="367.2" font-size="8.91" text-anchor="middle" font-weight="normal" fill="#231f20" stroke="#231f20" stroke-width="0.18" textLength="4.4" lengthAdjust="spacingAndGlyphs" >0</text>
<line x1="327.23" y1="354.4" x2="327.23" y2="357.4" stroke="#231f20" stroke-width="1"/>
<text x="327.234" y="367.2" font-size="8.91" text-anchor="middle" font-weight="normal" fill="#231f20" stroke="#231f20" stroke-width="0.18" textLength="9.2" lengthAdjust="spacingAndGlyphs" >20</text>
<line x1="351.47" y1="354.4" x2="351.47" y2="357.4" stroke="#231f20" stroke-width="1"/>
<text x="351.468" y="367.2" font-size="8.91" text-anchor="middle" font-weight="normal" fill="#231f20" stroke="#231f20" stroke-width="0.18" textLength="9.2" lengthAdjust="spacingAndGlyphs" >40</text>
<line x1="375.70" y1="354.4" x2="375.70" y2="357.4" stroke="#231f20" stroke-width="1"/>
<text x="375.702" y="367.2" font-size="8.91" text-anchor="middle" font-weight="normal" fill="#231f20" stroke="#231f20" stroke-width="0.18" textLength="9.2" lengthAdjust="spacingAndGlyphs" >60</text>
<text x="0" y="0" font-size="8.91" text-anchor="middle" font-weight="normal" fill="#231f20" stroke="#231f20" stroke-width="0.18" textLength="30.5" lengthAdjust="spacingAndGlyphs" transform="translate(266,306.7) rotate(-90)">Flux (PU)</text>
<path d="M295.73 273.24 L297.06 273.50 L298.40 274.44 L299.73 272.39 L301.06 272.81 L302.39 272.61 L303.73 272.43 L305.06 270.60 L306.39 270.71 L307.73 269.92 L309.06 271.36 L310.39 271.59 L311.72 272.19 L313.06 271.53 L314.39 273.93 L315.72 269.89 L317.06 271.37 L318.39 271.49 L319.72 270.81 L321.05 272.06 L322.39 272.74 L323.72 273.64 L325.05 295.09 L326.39 275.60 L327.72 278.13 L329.05 281.01 L330.38 278.82 L331.72 277.75 L333.05 275.36 L334.38 277.49 L335.72 277.37 L337.05 276.52 L338.38 275.61 L339.71 279.29 L341.05 275.57 L342.38 276.72 L343.71 276.12 L345.05 277.95 L346.38 276.68 L347.71 275.44 L349.04 277.07 L350.38 277.58 L351.71 277.40 L353.04 277.48 L354.38 276.22 L355.71 276.79 L357.04 277.45 L358.37 276.22 L359.71 278.02 L361.04 278.35 L362.37 274.62 L363.71 277.59 L365.04 275.42 L366.37 277.06 L367.70 277.19 L369.04 276.48 L370.37 277.80 L371.70 277.79 L373.04 277.18 L374.37 277.35 L375.70 276.29" fill="none" stroke="#c8102e" stroke-width="1.15" stroke-linejoin="round"/>
<path d="M295.73 321.30 L297.06 321.42 L298.40 322.10 L299.73 319.94 L301.06 322.58 L302.39 321.25 L303.73 320.45 L305.06 320.55 L306.39 320.48 L307.73 319.88 L309.06 317.48 L310.39 319.52 L311.72 319.06 L313.06 319.06 L314.39 319.12 L315.72 319.57 L317.06 318.00 L318.39 319.19 L319.72 318.52 L321.05 320.56 L322.39 320.10 L323.72 321.62 L325.05 327.72 L326.39 322.15 L327.72 321.96 L329.05 322.37 L330.38 322.23 L331.72 322.17 L333.05 322.09 L334.38 322.22 L335.72 322.55 L337.05 321.90 L338.38 322.89 L339.71 320.63 L341.05 321.55 L342.38 321.02 L343.71 322.29 L345.05 323.19 L346.38 323.35 L347.71 322.78 L349.04 322.65 L350.38 322.46 L351.71 322.43 L353.04 321.66 L354.38 323.96 L355.71 320.83 L357.04 322.38 L358.37 321.99 L359.71 323.48 L361.04 321.90 L362.37 323.20 L363.71 321.68 L365.04 321.84 L366.37 321.91 L367.70 322.18 L369.04 322.24 L370.37 322.27 L371.70 321.32 L373.04 321.94 L374.37 321.81 L375.70 320.14" fill="none" stroke="#1d5a93" stroke-width="1.15" stroke-linejoin="round"/>
<text x="328.9" y="267.7" font-size="8.80" text-anchor="start" font-weight="normal" fill="#231f20" stroke="#231f20" stroke-width="0.18" textLength="43.6" lengthAdjust="spacingAndGlyphs" >Contralateral</text>
<text x="336.7" y="316.7" font-size="8.80" text-anchor="start" font-weight="normal" fill="#231f20" stroke="#231f20" stroke-width="0.18" textLength="31.8" lengthAdjust="spacingAndGlyphs" >Ipsilateral</text>
<line x1="290.4" y1="372" x2="290.4" y2="467.5" stroke="#231f20" stroke-width="1.1"/>
<line x1="287.4" y1="466.9" x2="382" y2="466.9" stroke="#231f20" stroke-width="1.2"/>
<line x1="287.6" y1="466.90" x2="290.4" y2="466.90" stroke="#231f20" stroke-width="1"/>
<text x="284.2" y="469.79999999999995" font-size="8.91" text-anchor="end" font-weight="normal" fill="#231f20" stroke="#231f20" stroke-width="0.18" textLength="4.1" lengthAdjust="spacingAndGlyphs" >0</text>
<line x1="287.6" y1="444.00" x2="290.4" y2="444.00" stroke="#231f20" stroke-width="1"/>
<text x="284.2" y="446.9" font-size="8.91" text-anchor="end" font-weight="normal" fill="#231f20" stroke="#231f20" stroke-width="0.18" textLength="12.7" lengthAdjust="spacingAndGlyphs" >200</text>
<line x1="287.6" y1="421.10" x2="290.4" y2="421.10" stroke="#231f20" stroke-width="1"/>
<text x="284.2" y="423.99999999999994" font-size="8.91" text-anchor="end" font-weight="normal" fill="#231f20" stroke="#231f20" stroke-width="0.18" textLength="12.7" lengthAdjust="spacingAndGlyphs" >400</text>
<line x1="287.6" y1="398.20" x2="290.4" y2="398.20" stroke="#231f20" stroke-width="1"/>
<text x="284.2" y="401.09999999999997" font-size="8.91" text-anchor="end" font-weight="normal" fill="#231f20" stroke="#231f20" stroke-width="0.18" textLength="12.7" lengthAdjust="spacingAndGlyphs" >600</text>
<line x1="287.6" y1="375.30" x2="290.4" y2="375.30" stroke="#231f20" stroke-width="1"/>
<text x="284.2" y="378.19999999999993" font-size="8.91" text-anchor="end" font-weight="normal" fill="#231f20" stroke="#231f20" stroke-width="0.18" textLength="12.7" lengthAdjust="spacingAndGlyphs" >800</text>
<line x1="303.00" y1="466.9" x2="303.00" y2="469.9" stroke="#231f20" stroke-width="1"/>
<text x="303.0" y="479.7" font-size="8.91" text-anchor="middle" font-weight="normal" fill="#231f20" stroke="#231f20" stroke-width="0.18" textLength="4.4" lengthAdjust="spacingAndGlyphs" >0</text>
<line x1="327.23" y1="466.9" x2="327.23" y2="469.9" stroke="#231f20" stroke-width="1"/>
<text x="327.234" y="479.7" font-size="8.91" text-anchor="middle" font-weight="normal" fill="#231f20" stroke="#231f20" stroke-width="0.18" textLength="9.2" lengthAdjust="spacingAndGlyphs" >20</text>
<line x1="351.47" y1="466.9" x2="351.47" y2="469.9" stroke="#231f20" stroke-width="1"/>
<text x="351.468" y="479.7" font-size="8.91" text-anchor="middle" font-weight="normal" fill="#231f20" stroke="#231f20" stroke-width="0.18" textLength="9.2" lengthAdjust="spacingAndGlyphs" >40</text>
<line x1="375.70" y1="466.9" x2="375.70" y2="469.9" stroke="#231f20" stroke-width="1"/>
<text x="375.702" y="479.7" font-size="8.91" text-anchor="middle" font-weight="normal" fill="#231f20" stroke="#231f20" stroke-width="0.18" textLength="9.2" lengthAdjust="spacingAndGlyphs" >60</text>
<text x="0" y="0" font-size="8.91" text-anchor="middle" font-weight="normal" fill="#231f20" stroke="#231f20" stroke-width="0.18" textLength="30.5" lengthAdjust="spacingAndGlyphs" transform="translate(266,419.4) rotate(-90)">Flux (PU)</text>
<path d="M295.73 390.12 L297.06 388.51 L298.40 387.28 L299.73 385.88 L301.06 388.39 L302.39 387.16 L303.73 386.76 L305.06 385.59 L306.39 384.85 L307.73 385.37 L309.06 383.27 L310.39 384.35 L311.72 382.92 L313.06 385.10 L314.39 384.67 L315.72 385.27 L317.06 386.57 L318.39 387.42 L319.72 387.76 L321.05 388.27 L322.39 385.75 L323.72 386.86 L325.05 385.75 L326.39 387.40 L327.72 387.54 L329.05 388.49 L330.38 388.19 L331.72 389.52 L333.05 386.99 L334.38 387.02 L335.72 386.54 L337.05 386.59 L338.38 389.11 L339.71 390.63 L341.05 387.36 L342.38 387.90 L343.71 389.17 L345.05 389.13 L346.38 387.42 L347.71 386.45 L349.04 387.84 L350.38 389.00 L351.71 387.49 L353.04 387.25 L354.38 389.59 L355.71 387.65 L357.04 389.42 L358.37 388.44 L359.71 388.00 L361.04 388.46 L362.37 390.06 L363.71 388.18 L365.04 390.03 L366.37 387.92 L367.70 390.58 L369.04 389.18 L370.37 389.19 L371.70 389.44 L373.04 388.53 L374.37 388.51 L375.70 386.95" fill="none" stroke="#c8102e" stroke-width="1.15" stroke-linejoin="round"/>
<path d="M295.73 436.03 L297.06 436.12 L298.40 436.12 L299.73 435.29 L301.06 436.26 L302.39 437.83 L303.73 435.67 L305.06 436.00 L306.39 435.62 L307.73 434.92 L309.06 434.47 L310.39 433.12 L311.72 433.35 L313.06 433.62 L314.39 434.22 L315.72 434.32 L317.06 432.75 L318.39 431.40 L319.72 432.62 L321.05 432.60 L322.39 431.72 L323.72 433.72 L325.05 432.29 L326.39 431.23 L327.72 430.62 L329.05 431.67 L330.38 430.81 L331.72 430.45 L333.05 429.23 L334.38 430.68 L335.72 428.20 L337.05 429.55 L338.38 429.71 L339.71 426.44 L341.05 425.72 L342.38 422.70 L343.71 421.87 L345.05 422.89 L346.38 419.56 L347.71 420.53 L349.04 418.47 L350.38 417.96 L351.71 417.05 L353.04 415.81 L354.38 415.54 L355.71 415.40 L357.04 414.60 L358.37 414.57 L359.71 415.70 L361.04 415.71 L362.37 415.36 L363.71 414.21 L365.04 414.95 L366.37 412.02 L367.70 415.41 L369.04 415.63 L370.37 413.49 L371.70 412.69 L373.04 413.61 L374.37 413.17 L375.70 412.43" fill="none" stroke="#1d5a93" stroke-width="1.15" stroke-linejoin="round"/>
<text x="328" y="382.1" font-size="8.80" text-anchor="start" font-weight="normal" fill="#231f20" stroke="#231f20" stroke-width="0.18" textLength="42.6" lengthAdjust="spacingAndGlyphs" >Contralateral</text>
<text x="334.8" y="444.8" font-size="8.80" text-anchor="start" font-weight="normal" fill="#231f20" stroke="#231f20" stroke-width="0.18" textLength="31.5" lengthAdjust="spacingAndGlyphs" >Ipsilateral</text>
<text x="336.1" y="492.3" font-size="9.68" text-anchor="middle" font-weight="normal" fill="#231f20" stroke="#231f20" stroke-width="0.18" textLength="83.5" lengthAdjust="spacingAndGlyphs" >Time after injection (min)</text>
<line x1="419" y1="31" x2="419" y2="126.1" stroke="#231f20" stroke-width="1.1"/>
<line x1="419" y1="125.5" x2="512.5" y2="125.5" stroke="#231f20" stroke-width="1.2"/>
<line x1="416.2" y1="118.50" x2="419" y2="118.50" stroke="#231f20" stroke-width="1"/>
<text x="412.3" y="121.4" font-size="8.91" text-anchor="end" font-weight="normal" fill="#231f20" stroke="#231f20" stroke-width="0.18" textLength="10.3" lengthAdjust="spacingAndGlyphs" >0.4</text>
<line x1="416.2" y1="90.66" x2="419" y2="90.66" stroke="#231f20" stroke-width="1"/>
<text x="412.3" y="93.56000000000002" font-size="8.91" text-anchor="end" font-weight="normal" fill="#231f20" stroke="#231f20" stroke-width="0.18" textLength="10.3" lengthAdjust="spacingAndGlyphs" >0.6</text>
<line x1="416.2" y1="62.82" x2="419" y2="62.82" stroke="#231f20" stroke-width="1"/>
<text x="412.3" y="65.72" font-size="8.91" text-anchor="end" font-weight="normal" fill="#231f20" stroke="#231f20" stroke-width="0.18" textLength="10.3" lengthAdjust="spacingAndGlyphs" >0.8</text>
<line x1="416.2" y1="34.98" x2="419" y2="34.98" stroke="#231f20" stroke-width="1"/>
<text x="412.3" y="37.88" font-size="8.91" text-anchor="end" font-weight="normal" fill="#231f20" stroke="#231f20" stroke-width="0.18" textLength="10.3" lengthAdjust="spacingAndGlyphs" >1.0</text>
<line x1="425.20" y1="125.5" x2="425.20" y2="128.5" stroke="#231f20" stroke-width="1"/>
<text x="425.2" y="137.8" font-size="8.91" text-anchor="middle" font-weight="normal" fill="#231f20" stroke="#231f20" stroke-width="0.18" textLength="4.4" lengthAdjust="spacingAndGlyphs" >0</text>
<line x1="453.03" y1="125.5" x2="453.03" y2="128.5" stroke="#231f20" stroke-width="1"/>
<text x="453.034" y="137.8" font-size="8.91" text-anchor="middle" font-weight="normal" fill="#231f20" stroke="#231f20" stroke-width="0.18" textLength="9.2" lengthAdjust="spacingAndGlyphs" >20</text>
<line x1="480.87" y1="125.5" x2="480.87" y2="128.5" stroke="#231f20" stroke-width="1"/>
<text x="480.868" y="137.8" font-size="8.91" text-anchor="middle" font-weight="normal" fill="#231f20" stroke="#231f20" stroke-width="0.18" textLength="9.2" lengthAdjust="spacingAndGlyphs" >40</text>
<line x1="508.70" y1="125.5" x2="508.70" y2="128.5" stroke="#231f20" stroke-width="1"/>
<text x="508.702" y="137.8" font-size="8.91" text-anchor="middle" font-weight="normal" fill="#231f20" stroke="#231f20" stroke-width="0.18" textLength="9.2" lengthAdjust="spacingAndGlyphs" >60</text>
<text x="0" y="0" font-size="8.91" text-anchor="middle" font-weight="normal" fill="#231f20" stroke="#231f20" stroke-width="0.18" textLength="73.5" lengthAdjust="spacingAndGlyphs" transform="translate(396.8,77.5) rotate(-90)">Flux ratio (Ipsi/contra)</text>
<path d="M417.99 101.34 L419.89 101.34 L419.80 103.34 L421.70 103.34 L421.61 100.63 L423.51 100.63 L423.41 101.14 L425.31 101.14 L425.22 98.68 L427.12 98.68 L427.03 95.10 L428.93 95.10 L428.84 95.53 L430.74 95.53 L430.65 97.46 L432.55 97.46 L432.46 98.56 L434.36 98.56 L434.27 97.45 L436.17 97.45 L436.08 99.99 L437.98 99.99 L437.89 98.24 L439.79 98.24 L439.70 99.38 L441.60 99.38 L441.51 100.84 L443.41 100.84 L443.32 100.70 L445.22 100.70 L445.13 100.39 L447.03 100.39 L446.93 96.23 L448.83 96.23 L448.74 99.55 L450.64 99.55 L450.55 99.48 L452.45 99.48 L452.36 98.00 L454.26 98.00 L454.17 98.71 L456.07 98.71 L455.98 97.57 L457.88 97.57 L457.79 98.44 L459.69 98.44 L459.60 96.30 L461.50 96.30 L461.41 97.06 L463.31 97.06 L463.22 94.63 L465.12 94.63 L465.03 95.01 L466.93 95.01 L466.84 94.00 L468.74 94.00 L468.65 93.60 L470.55 93.60 L470.45 94.86 L472.35 94.86 L472.26 79.52 L474.16 79.52 L474.07 93.73 L475.97 93.73 L475.88 94.83 L477.78 94.83 L477.69 97.23 L479.59 97.23 L479.50 98.10 L481.40 98.10 L481.31 97.34 L483.21 97.34 L483.12 97.94 L485.02 97.94 L484.93 98.48 L486.83 98.48 L486.74 97.54 L488.64 97.54 L488.55 96.71 L490.45 96.71 L490.36 96.35 L492.26 96.35 L492.16 98.85 L494.06 98.85 L493.97 95.22 L495.87 95.22 L495.78 95.77 L497.68 95.77 L497.59 92.61 L499.49 92.61 L499.40 94.33 L501.30 94.33 L501.21 95.67 L503.11 95.67 L503.02 97.94 L504.92 97.94 L504.83 97.87 L506.73 97.87 L506.64 97.72 L508.54 97.72 L507.59 111.96 L505.78 110.22 L503.97 111.08 L502.16 110.78 L500.35 110.95 L498.54 111.65 L496.73 111.28 L494.92 110.73 L493.11 111.59 L491.31 110.87 L489.50 110.76 L487.69 106.31 L485.88 106.92 L484.07 105.12 L482.26 105.66 L480.45 104.00 L478.64 104.65 L476.83 106.03 L475.02 104.19 L473.21 105.95 L471.40 103.82 L469.60 104.58 L467.79 105.58 L465.98 104.16 L464.17 104.41 L462.36 107.15 L460.55 106.19 L458.74 106.79 L456.93 107.19 L455.12 108.74 L453.31 107.60 L451.50 107.36 L449.69 108.16 L447.88 106.90 L446.08 108.38 L444.27 107.86 L442.46 109.03 L440.65 109.54 L438.84 109.62 L437.03 110.58 L435.22 110.25 L433.41 109.32 L431.60 111.02 L429.79 110.47 L427.98 110.57 L426.17 111.83 L424.36 111.96 L422.56 113.45 L420.75 113.13 L418.94 112.62 Z" fill="#f4bcc5" stroke="none"/>
<path d="M418.94 112.62V101.34M417.99 101.34H419.89M420.75 113.13V103.34M419.80 103.34H421.70M422.56 113.45V100.63M421.61 100.63H423.51M424.36 111.96V101.14M423.41 101.14H425.31M426.17 111.83V98.68M425.22 98.68H427.12M427.98 110.57V95.10M427.03 95.10H428.93M429.79 110.47V95.53M428.84 95.53H430.74M431.60 111.02V97.46M430.65 97.46H432.55M433.41 109.32V98.56M432.46 98.56H434.36M435.22 110.25V97.45M434.27 97.45H436.17M437.03 110.58V99.99M436.08 99.99H437.98M438.84 109.62V98.24M437.89 98.24H439.79M440.65 109.54V99.38M439.70 99.38H441.60M442.46 109.03V100.84M441.51 100.84H443.41M444.27 107.86V100.70M443.32 100.70H445.22M446.08 108.38V100.39M445.13 100.39H447.03M447.88 106.90V96.23M446.93 96.23H448.83M449.69 108.16V99.55M448.74 99.55H450.64M451.50 107.36V99.48M450.55 99.48H452.45M453.31 107.60V98.00M452.36 98.00H454.26M455.12 108.74V98.71M454.17 98.71H456.07M456.93 107.19V97.57M455.98 97.57H457.88M458.74 106.79V98.44M457.79 98.44H459.69M460.55 106.19V96.30M459.60 96.30H461.50M462.36 107.15V97.06M461.41 97.06H463.31M464.17 104.41V94.63M463.22 94.63H465.12M465.98 104.16V95.01M465.03 95.01H466.93M467.79 105.58V94.00M466.84 94.00H468.74M469.60 104.58V93.60M468.65 93.60H470.55M471.40 103.82V94.86M470.45 94.86H472.35M473.21 105.95V79.52M472.26 79.52H474.16M475.02 104.19V93.73M474.07 93.73H475.97M476.83 106.03V94.83M475.88 94.83H477.78M478.64 104.65V97.23M477.69 97.23H479.59M480.45 104.00V98.10M479.50 98.10H481.40M482.26 105.66V97.34M481.31 97.34H483.21M484.07 105.12V97.94M483.12 97.94H485.02M485.88 106.92V98.48M484.93 98.48H486.83M487.69 106.31V97.54M486.74 97.54H488.64M489.50 110.76V96.71M488.55 96.71H490.45M491.31 110.87V96.35M490.36 96.35H492.26M493.11 111.59V98.85M492.16 98.85H494.06M494.92 110.73V95.22M493.97 95.22H495.87M496.73 111.28V95.77M495.78 95.77H497.68M498.54 111.65V92.61M497.59 92.61H499.49M500.35 110.95V94.33M499.40 94.33H501.30M502.16 110.78V95.67M501.21 95.67H503.11M503.97 111.08V97.94M503.02 97.94H504.92M505.78 110.22V97.87M504.83 97.87H506.73M507.59 111.96V97.72M506.64 97.72H508.54" stroke="#dc6c84" stroke-width="0.55" fill="none"/>
<line x1="419.5" y1="104.58" x2="513.5" y2="104.58" stroke="#505050" stroke-width="1" stroke-dasharray="3.6 2.2"/>
<path d="M418.94 112.62 L420.75 113.13 L422.56 113.45 L424.36 111.96 L426.17 111.83 L427.98 110.57 L429.79 110.47 L431.60 111.02 L433.41 109.32 L435.22 110.25 L437.03 110.58 L438.84 109.62 L440.65 109.54 L442.46 109.03 L444.27 107.86 L446.08 108.38 L447.88 106.90 L449.69 108.16 L451.50 107.36 L453.31 107.60 L455.12 108.74 L456.93 107.19 L458.74 106.79 L460.55 106.19 L462.36 107.15 L464.17 104.41 L465.98 104.16 L467.79 105.58 L469.60 104.58 L471.40 103.82 L473.21 105.95 L475.02 104.19 L476.83 106.03 L478.64 104.65 L480.45 104.00 L482.26 105.66 L484.07 105.12 L485.88 106.92 L487.69 106.31 L489.50 110.76 L491.31 110.87 L493.11 111.59 L494.92 110.73 L496.73 111.28 L498.54 111.65 L500.35 110.95 L502.16 110.78 L503.97 111.08 L505.78 110.22 L507.59 111.96" fill="none" stroke="#c8102e" stroke-width="1.35" stroke-linejoin="round"/>
<path d="M418.94 42.30 L420.33 42.11 L421.72 41.74 L423.11 41.21 L424.50 41.28 L425.90 42.46 L427.29 42.10 L428.68 41.71 L430.07 42.57 L431.46 43.82 L432.85 42.99 L434.25 43.24 L435.64 43.14 L437.03 42.47 L438.42 42.95 L439.81 43.41 L441.20 43.63 L442.60 43.13 L443.99 43.13 L445.38 43.18 L446.77 43.03 L448.16 42.39 L449.55 44.08 L450.95 43.67 L452.34 42.96 L453.73 43.24 L455.12 44.23 L456.51 43.45 L457.90 43.19 L459.30 42.72 L460.69 43.92 L462.08 43.37 L463.47 43.53 L464.86 43.90 L466.26 43.33 L467.65 43.92 L469.04 43.95 L470.43 43.46 L471.82 44.64 L473.21 43.49 L474.61 43.56 L476.00 43.03 L477.39 44.04 L478.78 43.48 L480.17 43.09 L481.56 43.13 L482.96 44.35 L484.35 43.74 L485.74 44.39 L487.13 44.51 L488.52 43.99 L489.91 45.34 L491.31 44.37 L492.70 43.38 L494.09 44.39 L495.48 44.62 L496.87 44.20 L498.26 43.92 L499.66 44.56 L501.05 43.77 L502.44 44.48 L503.83 43.63 L505.22 43.69 L506.61 43.58 L508.01 43.75" fill="none" stroke="#c8102e" stroke-width="1.4"/>
<text x="477.7" y="39" font-size="8.80" text-anchor="start" font-weight="normal" fill="#231f20" stroke="#231f20" stroke-width="0.18" textLength="20.3" lengthAdjust="spacingAndGlyphs" >Sham</text>
<line x1="419" y1="143.5" x2="419" y2="237.79999999999998" stroke="#231f20" stroke-width="1.1"/>
<line x1="419" y1="237.2" x2="512.5" y2="237.2" stroke="#231f20" stroke-width="1.2"/>
<line x1="416.2" y1="227.00" x2="419" y2="227.00" stroke="#231f20" stroke-width="1"/>
<text x="412.3" y="229.9" font-size="8.91" text-anchor="end" font-weight="normal" fill="#231f20" stroke="#231f20" stroke-width="0.18" textLength="10.3" lengthAdjust="spacingAndGlyphs" >0.4</text>
<line x1="416.2" y1="206.93" x2="419" y2="206.93" stroke="#231f20" stroke-width="1"/>
<text x="412.3" y="209.82500000000002" font-size="8.91" text-anchor="end" font-weight="normal" fill="#231f20" stroke="#231f20" stroke-width="0.18" textLength="10.3" lengthAdjust="spacingAndGlyphs" >0.5</text>
<line x1="416.2" y1="186.85" x2="419" y2="186.85" stroke="#231f20" stroke-width="1"/>
<text x="412.3" y="189.75000000000003" font-size="8.91" text-anchor="end" font-weight="normal" fill="#231f20" stroke="#231f20" stroke-width="0.18" textLength="10.3" lengthAdjust="spacingAndGlyphs" >0.6</text>
<line x1="416.2" y1="166.78" x2="419" y2="166.78" stroke="#231f20" stroke-width="1"/>
<text x="412.3" y="169.675" font-size="8.91" text-anchor="end" font-weight="normal" fill="#231f20" stroke="#231f20" stroke-width="0.18" textLength="10.3" lengthAdjust="spacingAndGlyphs" >0.7</text>
<line x1="416.2" y1="146.70" x2="419" y2="146.70" stroke="#231f20" stroke-width="1"/>
<text x="412.3" y="149.6" font-size="8.91" text-anchor="end" font-weight="normal" fill="#231f20" stroke="#231f20" stroke-width="0.18" textLength="10.3" lengthAdjust="spacingAndGlyphs" >0.8</text>
<line x1="425.20" y1="237.2" x2="425.20" y2="240.2" stroke="#231f20" stroke-width="1"/>
<text x="425.2" y="249.5" font-size="8.91" text-anchor="middle" font-weight="normal" fill="#231f20" stroke="#231f20" stroke-width="0.18" textLength="4.4" lengthAdjust="spacingAndGlyphs" >0</text>
<line x1="453.03" y1="237.2" x2="453.03" y2="240.2" stroke="#231f20" stroke-width="1"/>
<text x="453.034" y="249.5" font-size="8.91" text-anchor="middle" font-weight="normal" fill="#231f20" stroke="#231f20" stroke-width="0.18" textLength="9.2" lengthAdjust="spacingAndGlyphs" >20</text>
<line x1="480.87" y1="237.2" x2="480.87" y2="240.2" stroke="#231f20" stroke-width="1"/>
<text x="480.868" y="249.5" font-size="8.91" text-anchor="middle" font-weight="normal" fill="#231f20" stroke="#231f20" stroke-width="0.18" textLength="9.2" lengthAdjust="spacingAndGlyphs" >40</text>
<line x1="508.70" y1="237.2" x2="508.70" y2="240.2" stroke="#231f20" stroke-width="1"/>
<text x="508.702" y="249.5" font-size="8.91" text-anchor="middle" font-weight="normal" fill="#231f20" stroke="#231f20" stroke-width="0.18" textLength="9.2" lengthAdjust="spacingAndGlyphs" >60</text>
<text x="0" y="0" font-size="8.91" text-anchor="middle" font-weight="normal" fill="#231f20" stroke="#231f20" stroke-width="0.18" textLength="73.5" lengthAdjust="spacingAndGlyphs" transform="translate(396.8,189.5) rotate(-90)">Flux ratio (Ipsi/contra)</text>
<path d="M417.99 207.54 L419.89 207.54 L419.80 206.56 L421.70 206.56 L421.61 206.63 L423.51 206.63 L423.41 205.26 L425.31 205.26 L425.22 209.54 L427.12 209.54 L427.03 208.85 L428.93 208.85 L428.84 206.66 L430.74 206.66 L430.65 208.10 L432.55 208.10 L432.46 203.73 L434.36 203.73 L434.27 205.82 L436.17 205.82 L436.08 202.33 L437.98 202.33 L437.89 203.59 L439.79 203.59 L439.70 206.06 L441.60 206.06 L441.51 203.69 L443.41 203.69 L443.32 202.67 L445.22 202.67 L445.13 203.55 L447.03 203.55 L446.93 203.69 L448.83 203.69 L448.74 207.57 L450.64 207.57 L450.55 203.56 L452.45 203.56 L452.36 197.89 L454.26 197.89 L454.17 207.58 L456.07 207.58 L455.98 202.80 L457.88 202.80 L457.79 198.06 L459.69 198.06 L459.60 200.36 L461.50 200.36 L461.41 197.56 L463.31 197.56 L463.22 195.21 L465.12 195.21 L465.03 196.43 L466.93 196.43 L466.84 192.66 L468.74 192.66 L468.65 195.29 L470.55 195.29 L470.45 188.86 L472.35 188.86 L472.26 193.84 L474.16 193.84 L474.07 188.76 L475.97 188.76 L475.88 186.59 L477.78 186.59 L477.69 183.54 L479.59 183.54 L479.50 181.87 L481.40 181.87 L481.31 180.83 L483.21 180.83 L483.12 180.27 L485.02 180.27 L484.93 180.92 L486.83 180.92 L486.74 179.27 L488.64 179.27 L488.55 181.69 L490.45 181.69 L490.36 179.50 L492.26 179.50 L492.16 175.44 L494.06 175.44 L493.97 173.00 L495.87 173.00 L495.78 176.72 L497.68 176.72 L497.59 171.70 L499.49 171.70 L499.40 173.96 L501.30 173.96 L501.21 171.03 L503.11 171.03 L503.02 167.51 L504.92 167.51 L504.83 165.45 L506.73 165.45 L506.64 169.76 L508.54 169.76 L507.59 199.36 L505.78 197.72 L503.97 198.15 L502.16 201.36 L500.35 201.19 L498.54 201.96 L496.73 200.09 L494.92 202.66 L493.11 203.38 L491.31 204.98 L489.50 204.86 L487.69 206.47 L485.88 211.20 L484.07 203.23 L482.26 207.18 L480.45 206.36 L478.64 208.66 L476.83 208.97 L475.02 211.21 L473.21 213.68 L471.40 215.43 L469.60 215.29 L467.79 216.49 L465.98 217.21 L464.17 219.15 L462.36 220.07 L460.55 214.98 L458.74 222.66 L456.93 216.79 L455.12 223.81 L453.31 225.20 L451.50 223.65 L449.69 222.46 L447.88 223.08 L446.08 222.75 L444.27 222.00 L442.46 221.96 L440.65 218.78 L438.84 219.65 L437.03 221.45 L435.22 221.85 L433.41 223.48 L431.60 221.62 L429.79 222.87 L427.98 222.65 L426.17 229.28 L424.36 226.74 L422.56 223.82 L420.75 231.93 L418.94 226.14 Z" fill="#a8c2db" stroke="none"/>
<path d="M418.94 226.14V207.54M417.99 207.54H419.89M420.75 231.93V206.56M419.80 206.56H421.70M422.56 223.82V206.63M421.61 206.63H423.51M424.36 226.74V205.26M423.41 205.26H425.31M426.17 229.28V209.54M425.22 209.54H427.12M427.98 222.65V208.85M427.03 208.85H428.93M429.79 222.87V206.66M428.84 206.66H430.74M431.60 221.62V208.10M430.65 208.10H432.55M433.41 223.48V203.73M432.46 203.73H434.36M435.22 221.85V205.82M434.27 205.82H436.17M437.03 221.45V202.33M436.08 202.33H437.98M438.84 219.65V203.59M437.89 203.59H439.79M440.65 218.78V206.06M439.70 206.06H441.60M442.46 221.96V203.69M441.51 203.69H443.41M444.27 222.00V202.67M443.32 202.67H445.22M446.08 222.75V203.55M445.13 203.55H447.03M447.88 223.08V203.69M446.93 203.69H448.83M449.69 222.46V207.57M448.74 207.57H450.64M451.50 223.65V203.56M450.55 203.56H452.45M453.31 225.20V197.89M452.36 197.89H454.26M455.12 223.81V207.58M454.17 207.58H456.07M456.93 216.79V202.80M455.98 202.80H457.88M458.74 222.66V198.06M457.79 198.06H459.69M460.55 214.98V200.36M459.60 200.36H461.50M462.36 220.07V197.56M461.41 197.56H463.31M464.17 219.15V195.21M463.22 195.21H465.12M465.98 217.21V196.43M465.03 196.43H466.93M467.79 216.49V192.66M466.84 192.66H468.74M469.60 215.29V195.29M468.65 195.29H470.55M471.40 215.43V188.86M470.45 188.86H472.35M473.21 213.68V193.84M472.26 193.84H474.16M475.02 211.21V188.76M474.07 188.76H475.97M476.83 208.97V186.59M475.88 186.59H477.78M478.64 208.66V183.54M477.69 183.54H479.59M480.45 206.36V181.87M479.50 181.87H481.40M482.26 207.18V180.83M481.31 180.83H483.21M484.07 203.23V180.27M483.12 180.27H485.02M485.88 211.20V180.92M484.93 180.92H486.83M487.69 206.47V179.27M486.74 179.27H488.64M489.50 204.86V181.69M488.55 181.69H490.45M491.31 204.98V179.50M490.36 179.50H492.26M493.11 203.38V175.44M492.16 175.44H494.06M494.92 202.66V173.00M493.97 173.00H495.87M496.73 200.09V176.72M495.78 176.72H497.68M498.54 201.96V171.70M497.59 171.70H499.49M500.35 201.19V173.96M499.40 173.96H501.30M502.16 201.36V171.03M501.21 171.03H503.11M503.97 198.15V167.51M503.02 167.51H504.92M505.78 197.72V165.45M504.83 165.45H506.73M507.59 199.36V169.76M506.64 169.76H508.54" stroke="#6a90b8" stroke-width="0.55" fill="none"/>
<line x1="419.5" y1="206.93" x2="513.5" y2="206.93" stroke="#505050" stroke-width="1" stroke-dasharray="3.6 2.2"/>
<path d="M418.94 226.14 L420.75 231.93 L422.56 223.82 L424.36 226.74 L426.17 229.28 L427.98 222.65 L429.79 222.87 L431.60 221.62 L433.41 223.48 L435.22 221.85 L437.03 221.45 L438.84 219.65 L440.65 218.78 L442.46 221.96 L444.27 222.00 L446.08 222.75 L447.88 223.08 L449.69 222.46 L451.50 223.65 L453.31 225.20 L455.12 223.81 L456.93 216.79 L458.74 222.66 L460.55 214.98 L462.36 220.07 L464.17 219.15 L465.98 217.21 L467.79 216.49 L469.60 215.29 L471.40 215.43 L473.21 213.68 L475.02 211.21 L476.83 208.97 L478.64 208.66 L480.45 206.36 L482.26 207.18 L484.07 203.23 L485.88 211.20 L487.69 206.47 L489.50 204.86 L491.31 204.98 L493.11 203.38 L494.92 202.66 L496.73 200.09 L498.54 201.96 L500.35 201.19 L502.16 201.36 L503.97 198.15 L505.78 197.72 L507.59 199.36" fill="none" stroke="#1d5a93" stroke-width="1.35" stroke-linejoin="round"/>
<line x1="419" y1="260.8" x2="419" y2="353.70000000000005" stroke="#231f20" stroke-width="1.1"/>
<line x1="419" y1="353.1" x2="512.5" y2="353.1" stroke="#231f20" stroke-width="1.2"/>
<line x1="416.2" y1="343.70" x2="419" y2="343.70" stroke="#231f20" stroke-width="1"/>
<text x="412.3" y="346.59999999999997" font-size="8.91" text-anchor="end" font-weight="normal" fill="#231f20" stroke="#231f20" stroke-width="0.18" textLength="10.3" lengthAdjust="spacingAndGlyphs" >0.4</text>
<line x1="416.2" y1="324.10" x2="419" y2="324.10" stroke="#231f20" stroke-width="1"/>
<text x="412.3" y="327.0" font-size="8.91" text-anchor="end" font-weight="normal" fill="#231f20" stroke="#231f20" stroke-width="0.18" textLength="10.3" lengthAdjust="spacingAndGlyphs" >0.5</text>
<line x1="416.2" y1="304.50" x2="419" y2="304.50" stroke="#231f20" stroke-width="1"/>
<text x="412.3" y="307.4" font-size="8.91" text-anchor="end" font-weight="normal" fill="#231f20" stroke="#231f20" stroke-width="0.18" textLength="10.3" lengthAdjust="spacingAndGlyphs" >0.6</text>
<line x1="416.2" y1="284.90" x2="419" y2="284.90" stroke="#231f20" stroke-width="1"/>
<text x="412.3" y="287.79999999999995" font-size="8.91" text-anchor="end" font-weight="normal" fill="#231f20" stroke="#231f20" stroke-width="0.18" textLength="10.3" lengthAdjust="spacingAndGlyphs" >0.7</text>
<line x1="416.2" y1="265.30" x2="419" y2="265.30" stroke="#231f20" stroke-width="1"/>
<text x="412.3" y="268.19999999999993" font-size="8.91" text-anchor="end" font-weight="normal" fill="#231f20" stroke="#231f20" stroke-width="0.18" textLength="10.3" lengthAdjust="spacingAndGlyphs" >0.8</text>
<line x1="425.20" y1="353.1" x2="425.20" y2="356.1" stroke="#231f20" stroke-width="1"/>
<text x="425.2" y="365.40000000000003" font-size="8.91" text-anchor="middle" font-weight="normal" fill="#231f20" stroke="#231f20" stroke-width="0.18" textLength="4.4" lengthAdjust="spacingAndGlyphs" >0</text>
<line x1="453.03" y1="353.1" x2="453.03" y2="356.1" stroke="#231f20" stroke-width="1"/>
<text x="453.034" y="365.40000000000003" font-size="8.91" text-anchor="middle" font-weight="normal" fill="#231f20" stroke="#231f20" stroke-width="0.18" textLength="9.2" lengthAdjust="spacingAndGlyphs" >20</text>
<line x1="480.87" y1="353.1" x2="480.87" y2="356.1" stroke="#231f20" stroke-width="1"/>
<text x="480.868" y="365.40000000000003" font-size="8.91" text-anchor="middle" font-weight="normal" fill="#231f20" stroke="#231f20" stroke-width="0.18" textLength="9.2" lengthAdjust="spacingAndGlyphs" >40</text>
<line x1="508.70" y1="353.1" x2="508.70" y2="356.1" stroke="#231f20" stroke-width="1"/>
<text x="508.702" y="365.40000000000003" font-size="8.91" text-anchor="middle" font-weight="normal" fill="#231f20" stroke="#231f20" stroke-width="0.18" textLength="9.2" lengthAdjust="spacingAndGlyphs" >60</text>
<text x="0" y="0" font-size="8.91" text-anchor="middle" font-weight="normal" fill="#231f20" stroke="#231f20" stroke-width="0.18" textLength="73.5" lengthAdjust="spacingAndGlyphs" transform="translate(396.8,306.2) rotate(-90)">Flux ratio (Ipsi/contra)</text>
<path d="M417.99 337.25 L419.89 337.25 L419.80 336.18 L421.70 336.18 L421.61 332.81 L423.51 332.81 L423.41 331.07 L425.31 331.07 L425.22 330.49 L427.12 330.49 L427.03 329.01 L428.93 329.01 L428.84 326.78 L430.74 326.78 L430.65 326.38 L432.55 326.38 L432.46 324.56 L434.36 324.56 L434.27 324.20 L436.17 324.20 L436.08 323.01 L437.98 323.01 L437.89 321.82 L439.79 321.82 L439.70 319.88 L441.60 319.88 L441.51 320.76 L443.41 320.76 L443.32 317.69 L445.22 317.69 L445.13 318.15 L447.03 318.15 L446.93 309.20 L448.83 309.20 L448.74 316.13 L450.64 316.13 L450.55 313.45 L452.45 313.45 L452.36 311.66 L454.26 311.66 L454.17 313.94 L456.07 313.94 L455.98 317.67 L457.88 317.67 L457.79 315.51 L459.69 315.51 L459.60 314.78 L461.50 314.78 L461.41 315.02 L463.31 315.02 L463.22 313.81 L465.12 313.81 L465.03 312.26 L466.93 312.26 L466.84 312.90 L468.74 312.90 L468.65 312.15 L470.55 312.15 L470.45 310.36 L472.35 310.36 L472.26 311.61 L474.16 311.61 L474.07 309.81 L475.97 309.81 L475.88 309.99 L477.78 309.99 L477.69 308.34 L479.59 308.34 L479.50 308.62 L481.40 308.62 L481.31 307.62 L483.21 307.62 L483.12 307.22 L485.02 307.22 L484.93 306.10 L486.83 306.10 L486.74 306.63 L488.64 306.63 L488.55 305.85 L490.45 305.85 L490.36 307.72 L492.26 307.72 L492.16 305.41 L494.06 305.41 L493.97 304.58 L495.87 304.58 L495.78 304.92 L497.68 304.92 L497.59 304.66 L499.49 304.66 L499.40 304.06 L501.30 304.06 L501.21 304.63 L503.11 304.63 L503.02 303.97 L504.92 303.97 L504.83 304.68 L506.73 304.68 L506.64 305.51 L508.54 305.51 L507.59 330.09 L505.78 330.98 L503.97 330.02 L502.16 330.91 L500.35 331.10 L498.54 331.27 L496.73 332.39 L494.92 332.01 L493.11 332.57 L491.31 333.66 L489.50 332.62 L487.69 333.68 L485.88 333.83 L484.07 334.12 L482.26 334.56 L480.45 335.89 L478.64 335.95 L476.83 336.60 L475.02 337.78 L473.21 337.64 L471.40 337.74 L469.60 338.34 L467.79 339.46 L465.98 339.75 L464.17 340.52 L462.36 338.86 L460.55 341.27 L458.74 340.83 L456.93 341.44 L455.12 340.91 L453.31 336.44 L451.50 335.66 L449.69 335.92 L447.88 336.01 L446.08 337.34 L444.27 337.55 L442.46 337.57 L440.65 339.88 L438.84 339.82 L437.03 339.85 L435.22 341.40 L433.41 341.96 L431.60 342.72 L429.79 343.93 L427.98 346.66 L426.17 344.52 L424.36 346.29 L422.56 345.64 L420.75 347.52 L418.94 349.55 Z" fill="#ade0ac" stroke="none"/>
<path d="M418.94 349.55V337.25M417.99 337.25H419.89M420.75 347.52V336.18M419.80 336.18H421.70M422.56 345.64V332.81M421.61 332.81H423.51M424.36 346.29V331.07M423.41 331.07H425.31M426.17 344.52V330.49M425.22 330.49H427.12M427.98 346.66V329.01M427.03 329.01H428.93M429.79 343.93V326.78M428.84 326.78H430.74M431.60 342.72V326.38M430.65 326.38H432.55M433.41 341.96V324.56M432.46 324.56H434.36M435.22 341.40V324.20M434.27 324.20H436.17M437.03 339.85V323.01M436.08 323.01H437.98M438.84 339.82V321.82M437.89 321.82H439.79M440.65 339.88V319.88M439.70 319.88H441.60M442.46 337.57V320.76M441.51 320.76H443.41M444.27 337.55V317.69M443.32 317.69H445.22M446.08 337.34V318.15M445.13 318.15H447.03M447.88 336.01V309.20M446.93 309.20H448.83M449.69 335.92V316.13M448.74 316.13H450.64M451.50 335.66V313.45M450.55 313.45H452.45M453.31 336.44V311.66M452.36 311.66H454.26M455.12 340.91V313.94M454.17 313.94H456.07M456.93 341.44V317.67M455.98 317.67H457.88M458.74 340.83V315.51M457.79 315.51H459.69M460.55 341.27V314.78M459.60 314.78H461.50M462.36 338.86V315.02M461.41 315.02H463.31M464.17 340.52V313.81M463.22 313.81H465.12M465.98 339.75V312.26M465.03 312.26H466.93M467.79 339.46V312.90M466.84 312.90H468.74M469.60 338.34V312.15M468.65 312.15H470.55M471.40 337.74V310.36M470.45 310.36H472.35M473.21 337.64V311.61M472.26 311.61H474.16M475.02 337.78V309.81M474.07 309.81H475.97M476.83 336.60V309.99M475.88 309.99H477.78M478.64 335.95V308.34M477.69 308.34H479.59M480.45 335.89V308.62M479.50 308.62H481.40M482.26 334.56V307.62M481.31 307.62H483.21M484.07 334.12V307.22M483.12 307.22H485.02M485.88 333.83V306.10M484.93 306.10H486.83M487.69 333.68V306.63M486.74 306.63H488.64M489.50 332.62V305.85M488.55 305.85H490.45M491.31 333.66V307.72M490.36 307.72H492.26M493.11 332.57V305.41M492.16 305.41H494.06M494.92 332.01V304.58M493.97 304.58H495.87M496.73 332.39V304.92M495.78 304.92H497.68M498.54 331.27V304.66M497.59 304.66H499.49M500.35 331.10V304.06M499.40 304.06H501.30M502.16 330.91V304.63M501.21 304.63H503.11M503.97 330.02V303.97M503.02 303.97H504.92M505.78 330.98V304.68M504.83 304.68H506.73M507.59 330.09V305.51M506.64 305.51H508.54" stroke="#70c471" stroke-width="0.55" fill="none"/>
<line x1="419.5" y1="324.10" x2="513.5" y2="324.10" stroke="#505050" stroke-width="1" stroke-dasharray="3.6 2.2"/>
<path d="M418.94 349.55 L420.75 347.52 L422.56 345.64 L424.36 346.29 L426.17 344.52 L427.98 346.66 L429.79 343.93 L431.60 342.72 L433.41 341.96 L435.22 341.40 L437.03 339.85 L438.84 339.82 L440.65 339.88 L442.46 337.57 L444.27 337.55 L446.08 337.34 L447.88 336.01 L449.69 335.92 L451.50 335.66 L453.31 336.44 L455.12 340.91 L456.93 341.44 L458.74 340.83 L460.55 341.27 L462.36 338.86 L464.17 340.52 L465.98 339.75 L467.79 339.46 L469.60 338.34 L471.40 337.74 L473.21 337.64 L475.02 337.78 L476.83 336.60 L478.64 335.95 L480.45 335.89 L482.26 334.56 L484.07 334.12 L485.88 333.83 L487.69 333.68 L489.50 332.62 L491.31 333.66 L493.11 332.57 L494.92 332.01 L496.73 332.39 L498.54 331.27 L500.35 331.10 L502.16 330.91 L503.97 330.02 L505.78 330.98 L507.59 330.09" fill="none" stroke="#3ab54a" stroke-width="1.35" stroke-linejoin="round"/>
<line x1="419" y1="373.6" x2="419" y2="467.1" stroke="#231f20" stroke-width="1.1"/>
<line x1="419" y1="466.5" x2="512.5" y2="466.5" stroke="#231f20" stroke-width="1.2"/>
<line x1="416.2" y1="456.50" x2="419" y2="456.50" stroke="#231f20" stroke-width="1"/>
<text x="412.3" y="459.4" font-size="8.91" text-anchor="end" font-weight="normal" fill="#231f20" stroke="#231f20" stroke-width="0.18" textLength="10.3" lengthAdjust="spacingAndGlyphs" >0.4</text>
<line x1="416.2" y1="436.85" x2="419" y2="436.85" stroke="#231f20" stroke-width="1"/>
<text x="412.3" y="439.75" font-size="8.91" text-anchor="end" font-weight="normal" fill="#231f20" stroke="#231f20" stroke-width="0.18" textLength="10.3" lengthAdjust="spacingAndGlyphs" >0.5</text>
<line x1="416.2" y1="417.20" x2="419" y2="417.20" stroke="#231f20" stroke-width="1"/>
<text x="412.3" y="420.09999999999997" font-size="8.91" text-anchor="end" font-weight="normal" fill="#231f20" stroke="#231f20" stroke-width="0.18" textLength="10.3" lengthAdjust="spacingAndGlyphs" >0.6</text>
<line x1="416.2" y1="397.55" x2="419" y2="397.55" stroke="#231f20" stroke-width="1"/>
<text x="412.3" y="400.45" font-size="8.91" text-anchor="end" font-weight="normal" fill="#231f20" stroke="#231f20" stroke-width="0.18" textLength="10.3" lengthAdjust="spacingAndGlyphs" >0.7</text>
<line x1="416.2" y1="377.90" x2="419" y2="377.90" stroke="#231f20" stroke-width="1"/>
<text x="412.3" y="380.79999999999995" font-size="8.91" text-anchor="end" font-weight="normal" fill="#231f20" stroke="#231f20" stroke-width="0.18" textLength="10.3" lengthAdjust="spacingAndGlyphs" >0.8</text>
<line x1="425.20" y1="466.5" x2="425.20" y2="469.5" stroke="#231f20" stroke-width="1"/>
<text x="425.2" y="478.8" font-size="8.91" text-anchor="middle" font-weight="normal" fill="#231f20" stroke="#231f20" stroke-width="0.18" textLength="4.4" lengthAdjust="spacingAndGlyphs" >0</text>
<line x1="453.03" y1="466.5" x2="453.03" y2="469.5" stroke="#231f20" stroke-width="1"/>
<text x="453.034" y="478.8" font-size="8.91" text-anchor="middle" font-weight="normal" fill="#231f20" stroke="#231f20" stroke-width="0.18" textLength="9.2" lengthAdjust="spacingAndGlyphs" >20</text>
<line x1="480.87" y1="466.5" x2="480.87" y2="469.5" stroke="#231f20" stroke-width="1"/>
<text x="480.868" y="478.8" font-size="8.91" text-anchor="middle" font-weight="normal" fill="#231f20" stroke="#231f20" stroke-width="0.18" textLength="9.2" lengthAdjust="spacingAndGlyphs" >40</text>
<line x1="508.70" y1="466.5" x2="508.70" y2="469.5" stroke="#231f20" stroke-width="1"/>
<text x="508.702" y="478.8" font-size="8.91" text-anchor="middle" font-weight="normal" fill="#231f20" stroke="#231f20" stroke-width="0.18" textLength="9.2" lengthAdjust="spacingAndGlyphs" >60</text>
<text x="0" y="0" font-size="8.91" text-anchor="middle" font-weight="normal" fill="#231f20" stroke="#231f20" stroke-width="0.18" textLength="73.5" lengthAdjust="spacingAndGlyphs" transform="translate(396.8,419.2) rotate(-90)">Flux ratio (Ipsi/contra)</text>
<path d="M417.99 434.58 L419.89 434.58 L419.80 434.00 L421.70 434.00 L421.61 434.10 L423.51 434.10 L423.41 431.76 L425.31 431.76 L425.22 432.14 L427.12 432.14 L427.03 428.01 L428.93 428.01 L428.84 432.51 L430.74 432.51 L430.65 429.54 L432.55 429.54 L432.46 425.06 L434.36 425.06 L434.27 431.33 L436.17 431.33 L436.08 429.52 L437.98 429.52 L437.89 428.71 L439.79 428.71 L439.70 425.86 L441.60 425.86 L441.51 422.11 L443.41 422.11 L443.32 428.42 L445.22 428.42 L445.13 426.01 L447.03 426.01 L446.93 425.07 L448.83 425.07 L448.74 426.79 L450.64 426.79 L450.55 427.32 L452.45 427.32 L452.36 423.30 L454.26 423.30 L454.17 422.88 L456.07 422.88 L455.98 419.58 L457.88 419.58 L457.79 415.42 L459.69 415.42 L459.60 416.33 L461.50 416.33 L461.41 416.68 L463.31 416.68 L463.22 418.70 L465.12 418.70 L465.03 416.07 L466.93 416.07 L466.84 413.98 L468.74 413.98 L468.65 417.85 L470.55 417.85 L470.45 382.42 L472.35 382.42 L472.26 409.73 L474.16 409.73 L474.07 408.04 L475.97 408.04 L475.88 404.68 L477.78 404.68 L477.69 408.03 L479.59 408.03 L479.50 405.02 L481.40 405.02 L481.31 403.81 L483.21 403.81 L483.12 398.02 L485.02 398.02 L484.93 404.64 L486.83 404.64 L486.74 402.19 L488.64 402.19 L488.55 404.19 L490.45 404.19 L490.36 396.40 L492.26 396.40 L492.16 395.09 L494.06 395.09 L493.97 398.22 L495.87 398.22 L495.78 397.26 L497.68 397.26 L497.59 396.61 L499.49 396.61 L499.40 393.43 L501.30 393.43 L501.21 396.82 L503.11 396.82 L503.02 394.58 L504.92 394.58 L504.83 395.71 L506.73 395.71 L505.78 406.87 L503.97 406.75 L502.16 407.92 L500.35 408.43 L498.54 409.64 L496.73 412.91 L494.92 410.18 L493.11 411.62 L491.31 414.09 L489.50 414.57 L487.69 415.16 L485.88 418.12 L484.07 418.97 L482.26 421.29 L480.45 420.32 L478.64 421.65 L476.83 424.31 L475.02 427.05 L473.21 426.22 L471.40 416.88 L469.60 429.04 L467.79 425.49 L465.98 428.36 L464.17 428.77 L462.36 433.29 L460.55 434.38 L458.74 439.08 L456.93 438.75 L455.12 438.04 L453.31 439.66 L451.50 435.87 L449.69 438.98 L447.88 441.82 L446.08 441.61 L444.27 441.89 L442.46 443.45 L440.65 445.15 L438.84 444.73 L437.03 446.84 L435.22 448.93 L433.41 450.12 L431.60 448.34 L429.79 451.88 L427.98 451.60 L426.17 451.67 L424.36 452.72 L422.56 452.83 L420.75 451.22 L418.94 451.90 Z" fill="#cab5d9" stroke="none"/>
<path d="M418.94 451.90V434.58M417.99 434.58H419.89M420.75 451.22V434.00M419.80 434.00H421.70M422.56 452.83V434.10M421.61 434.10H423.51M424.36 452.72V431.76M423.41 431.76H425.31M426.17 451.67V432.14M425.22 432.14H427.12M427.98 451.60V428.01M427.03 428.01H428.93M429.79 451.88V432.51M428.84 432.51H430.74M431.60 448.34V429.54M430.65 429.54H432.55M433.41 450.12V425.06M432.46 425.06H434.36M435.22 448.93V431.33M434.27 431.33H436.17M437.03 446.84V429.52M436.08 429.52H437.98M438.84 444.73V428.71M437.89 428.71H439.79M440.65 445.15V425.86M439.70 425.86H441.60M442.46 443.45V422.11M441.51 422.11H443.41M444.27 441.89V428.42M443.32 428.42H445.22M446.08 441.61V426.01M445.13 426.01H447.03M447.88 441.82V425.07M446.93 425.07H448.83M449.69 438.98V426.79M448.74 426.79H450.64M451.50 435.87V427.32M450.55 427.32H452.45M453.31 439.66V423.30M452.36 423.30H454.26M455.12 438.04V422.88M454.17 422.88H456.07M456.93 438.75V419.58M455.98 419.58H457.88M458.74 439.08V415.42M457.79 415.42H459.69M460.55 434.38V416.33M459.60 416.33H461.50M462.36 433.29V416.68M461.41 416.68H463.31M464.17 428.77V418.70M463.22 418.70H465.12M465.98 428.36V416.07M465.03 416.07H466.93M467.79 425.49V413.98M466.84 413.98H468.74M469.60 429.04V417.85M468.65 417.85H470.55M471.40 416.88V382.42M470.45 382.42H472.35M473.21 426.22V409.73M472.26 409.73H474.16M475.02 427.05V408.04M474.07 408.04H475.97M476.83 424.31V404.68M475.88 404.68H477.78M478.64 421.65V408.03M477.69 408.03H479.59M480.45 420.32V405.02M479.50 405.02H481.40M482.26 421.29V403.81M481.31 403.81H483.21M484.07 418.97V398.02M483.12 398.02H485.02M485.88 418.12V404.64M484.93 404.64H486.83M487.69 415.16V402.19M486.74 402.19H488.64M489.50 414.57V404.19M488.55 404.19H490.45M491.31 414.09V396.40M490.36 396.40H492.26M493.11 411.62V395.09M492.16 395.09H494.06M494.92 410.18V398.22M493.97 398.22H495.87M496.73 412.91V397.26M495.78 397.26H497.68M498.54 409.64V396.61M497.59 396.61H499.49M500.35 408.43V393.43M499.40 393.43H501.30M502.16 407.92V396.82M501.21 396.82H503.11M503.97 406.75V394.58M503.02 394.58H504.92M505.78 406.87V395.71M504.83 395.71H506.73" stroke="#9170ae" stroke-width="0.55" fill="none"/>
<line x1="419.5" y1="436.85" x2="513.5" y2="436.85" stroke="#505050" stroke-width="1" stroke-dasharray="3.6 2.2"/>
<path d="M418.94 451.90 L420.75 451.22 L422.56 452.83 L424.36 452.72 L426.17 451.67 L427.98 451.60 L429.79 451.88 L431.60 448.34 L433.41 450.12 L435.22 448.93 L437.03 446.84 L438.84 444.73 L440.65 445.15 L442.46 443.45 L444.27 441.89 L446.08 441.61 L447.88 441.82 L449.69 438.98 L451.50 435.87 L453.31 439.66 L455.12 438.04 L456.93 438.75 L458.74 439.08 L460.55 434.38 L462.36 433.29 L464.17 428.77 L465.98 428.36 L467.79 425.49 L469.60 429.04 L471.40 416.88 L473.21 426.22 L475.02 427.05 L476.83 424.31 L478.64 421.65 L480.45 420.32 L482.26 421.29 L484.07 418.97 L485.88 418.12 L487.69 415.16 L489.50 414.57 L491.31 414.09 L493.11 411.62 L494.92 410.18 L496.73 412.91 L498.54 409.64 L500.35 408.43 L502.16 407.92 L503.97 406.75 L505.78 406.87" fill="none" stroke="#5e3a87" stroke-width="1.35" stroke-linejoin="round"/>
<text x="465.6" y="491.5" font-size="9.68" text-anchor="middle" font-weight="normal" fill="#231f20" stroke="#231f20" stroke-width="0.18" textLength="83.5" lengthAdjust="spacingAndGlyphs" >Time after injection (min)</text>
<line x1="484.5" y1="167.7" x2="484.5" y2="177.6" stroke="#000" stroke-width="1.2"/>
<path d="M481.9 176.6 L487.1 176.6 L484.5 180.6 Z" fill="#000"/>
<text x="484.5" y="165" font-size="7.70" text-anchor="middle" font-weight="normal" fill="#000" stroke="#000" stroke-width="0.18" >*</text>
<line x1="456.7" y1="405.4" x2="456.7" y2="414.5" stroke="#000" stroke-width="1.2"/>
<path d="M454.09999999999997 413.5 L459.3 413.5 L456.7 417.5 Z" fill="#000"/>
<text x="456.7" y="402" font-size="7.70" text-anchor="middle" font-weight="normal" fill="#000" stroke="#000" stroke-width="0.18" >*</text>
<text x="7.6" y="500.6" font-size="11.4" font-weight="bold" fill="#000">D</text>
<text x="7.6" y="593.5" font-size="11.4" font-weight="bold" fill="#000">E</text>
<text x="197.6" y="593.5" font-size="11.4" font-weight="bold" fill="#000">F</text>
<g filter="url(#htex)">
<path d="M7.5 572.6 L7.5 508 C8 506.5 18 506 22 507.5 C24 509 24 512 25 513 C27 510 30 507 36 506.3 C48 505.6 60 506 72 510 C86 516 100 526 108 537 C115 548 119 558 121 572.6 Z" fill="#d5d1e2"/>
<path d="M62 508 C80 514 100 526 108 540 C114 550 118 560 119 572.6 L80 572.6 C80 560 74 546 64 534 C56 522 54 512 62 508Z" fill="#e2deec" filter="url(#b4)"/>
<path d="M8 532 C14 536 20 540 24 546" stroke="#8f8bc0" stroke-width="0.6" fill="none"/>
<path d="M42 540 C52 536 64 542 76 552 C82 558 86 566 88 572" stroke="#b9b4d6" stroke-width="0.6" fill="none"/>
<path d="M55 556 C58 562 59 568 60 572" stroke="#8f8cc2" stroke-width="0.6" fill="none"/>
<path d="M24 513 C24 525 24 540 26 546" stroke="#cac6df" stroke-width="1" fill="none"/>
<path d="M7.5 541 L10 545 L7.5 546Z M37 542 L41 540 L40 544Z" fill="#f4f3f8"/>
</g>
<rect x="8.2" y="570" width="9.9" height="2" fill="#000"/>
<text x="83" y="514.5" font-size="9.24" text-anchor="start" font-weight="normal" fill="#231f20" stroke="#231f20" stroke-width="0.18" textLength="29.5" lengthAdjust="spacingAndGlyphs" >Vehicle</text>
<g filter="url(#htex)">
<path d="M143.8 572.6 L143.8 507.2 C160 506.5 190 506 205 507.5 C222 510 236 518 244 530 C250 540 253 555 253.5 572.6 Z" fill="#b9b1cc"/>
<path d="M197 507 L205 507 C222 510 238 520 246 534 C252 546 253 560 253 572.6 L226 572.6 C220 562 210 552 198 545 C195 535 194 520 197 507Z" fill="#d8d3e3" filter="url(#b1_5)"/>
<path d="M160 509 C158 520 158 535 162 545" stroke="#cfc9dc" stroke-width="1.6" fill="none"/>
<path d="M144 512 C152 508 168 508 176 512 C172 530 174 540 180 546" stroke="#aea5c6" stroke-width="0.8" fill="none"/>
<path d="M176 545 C190 536 206 540 218 552 C224 560 228 566 232 572" stroke="#a196bd" stroke-width="0.6" fill="none"/>
<path d="M176 539 L180 543 L177 544Z M188 561 L194 563 L189 564Z M212 560 L220 561 L214 562Z" fill="#f4f3f8"/>
<path d="M240 540 C246 548 248 556 248 564" stroke="#d8a6a6" stroke-width="0.6" fill="none"/>
</g>
<rect x="146" y="569" width="9.7" height="2" fill="#000"/>
<text x="225" y="515" font-size="9.24" text-anchor="start" font-weight="normal" fill="#231f20" stroke="#231f20" stroke-width="0.18" textLength="20" lengthAdjust="spacingAndGlyphs" >NAC</text>
<g filter="url(#htex)">
<path d="M277 572.6 L277 513 C280 512 288 512 291 514 C294 510 300 507.5 308 507.3 C324 507 338 509 350 514 C364 522 374 534 380 548 C384 558 385 566 385.5 572.6 Z" fill="#bdbad7"/>
<path d="M332 510 C352 516 370 530 378 546 C384 558 385 566 385 572.6 L344 572.6 C344 560 340 548 332 538 C322 528 320 516 332 510Z" fill="#cfcce3" filter="url(#b3)"/>
<path d="M291 514 C290 530 290 545 292 552" stroke="#d8d6ea" stroke-width="1.4" fill="none"/>
<path d="M312 512 L312 527" stroke="#dedcee" stroke-width="1.2" fill="none"/>
<path d="M302 552 C312 540 330 536 346 540 C356 542 364 546 370 550" stroke="#6e6aa8" stroke-width="0.6" fill="none"/>
<path d="M280 567 C296 566 312 568 330 570 C340 571 350 571 356 568" stroke="#5f5aa0" stroke-width="0.6" fill="none"/>
<path d="M305 553 C300 560 296 566 290 567" stroke="#6e6aa8" stroke-width="0.6" fill="none"/>
<path d="M318 562 L323 564 L319 564Z M321 546 L325 546 L322 547Z" fill="#f4f3f8"/>
</g>
<rect x="278.8" y="568.2" width="8.8" height="2.2" fill="#000"/>
<text x="330.8" y="515" font-size="9.24" text-anchor="start" font-weight="normal" fill="#231f20" stroke="#231f20" stroke-width="0.18" textLength="59.2" lengthAdjust="spacingAndGlyphs" >wtADAMTS13</text>
<g filter="url(#htex)">
<path d="M402 572.6 L402 512 C406 510 414 508.5 420 508 L424 519 L428 528 L431 518 L434 507.5 C450 507.2 462 510 474 516 C488 526 498 538 503 550 C506 558 508 566 508.5 572.6 Z" fill="#aaa7cc"/>
<path d="M462 513 C480 521 494 534 502 548 C506 558 508 566 508 572.6 L476 572.6 C476 560 472 546 466 536 C458 526 454 516 462 513Z" fill="#bdbad8" filter="url(#b3)"/>
<path d="M403 538 C407 537 411 538 412 541 L406 542 L403 541Z M442 537 C446 536 450 538 451 542 L447 543 L443 541Z M421 550 C428 549 436 549 443 551 L436 552.5 L425 552.5Z" fill="#f2f1f7"/>
<path d="M455 540 C466 548 472 556 478 568 M470 530 C476 540 480 550 486 562 M404 562 C420 558 440 560 460 568 M436 556 C446 558 452 564 456 572 M404 532 C412 528 418 530 424 536 M432 534 C438 528 444 528 448 534 M414 548 C420 544 440 544 448 550" stroke="#6a66a6" stroke-width="0.6" fill="none"/>
</g>
<rect x="403.8" y="568.6" width="9.2" height="2" fill="#000"/>
<text x="452.5" y="515" font-size="9.24" text-anchor="start" font-weight="normal" fill="#231f20" stroke="#231f20" stroke-width="0.18" textLength="60" lengthAdjust="spacingAndGlyphs" >caADAMTS13</text>
<line x1="61.5" y1="600" x2="61.5" y2="691.5" stroke="#231f20" stroke-width="1.1"/>
<line x1="61.5" y1="691.5" x2="156.5" y2="691.5" stroke="#231f20" stroke-width="1.2"/>
<line x1="57.8" y1="677.1" x2="156.5" y2="677.1" stroke="#231f20" stroke-width="1.1"/>
<line x1="58.8" y1="677.10" x2="61.5" y2="677.10" stroke="#231f20" stroke-width="1"/>
<text x="55" y="680.0" font-size="8.91" text-anchor="end" font-weight="normal" fill="#231f20" stroke="#231f20" stroke-width="0.18" textLength="4.1" lengthAdjust="spacingAndGlyphs" >0</text>
<line x1="58.8" y1="640.60" x2="61.5" y2="640.60" stroke="#231f20" stroke-width="1"/>
<text x="55" y="643.5" font-size="8.91" text-anchor="end" font-weight="normal" fill="#231f20" stroke="#231f20" stroke-width="0.18" textLength="8.6" lengthAdjust="spacingAndGlyphs" >50</text>
<line x1="58.8" y1="604.10" x2="61.5" y2="604.10" stroke="#231f20" stroke-width="1"/>
<text x="55" y="607.0" font-size="8.91" text-anchor="end" font-weight="normal" fill="#231f20" stroke="#231f20" stroke-width="0.18" textLength="12.7" lengthAdjust="spacingAndGlyphs" >100</text>
<text x="0" y="0" font-size="8.91" text-anchor="middle" font-weight="normal" fill="#231f20" stroke="#231f20" stroke-width="0.18" textLength="68.3" lengthAdjust="spacingAndGlyphs" transform="translate(28.8,645.8) rotate(-90)">Flux ratio Ipsi/contra</text>
<text x="0" y="0" font-size="8.91" text-anchor="middle" font-weight="normal" fill="#231f20" stroke="#231f20" stroke-width="0.18" textLength="74.2" lengthAdjust="spacingAndGlyphs" transform="translate(39.8,645.9) rotate(-90)">(% increase at 60 min)</text>
<path d="M75.6 599.2 V596.3 H141.7 V599.2" fill="none" stroke="#231f20" stroke-width="0.9"/>
<text x="109" y="596.6" font-size="9.35" text-anchor="middle" font-weight="normal" fill="#231f20" stroke="#231f20" stroke-width="0.18" >**</text>
<rect x="68.5" y="671.3" width="14.5" height="5.800000000000068" fill="#e88e9e"/>
<path d="M75.75 665.2 V677 M72.75 665.2 H78.75 M72.75 677 H78.75" stroke="#c8102e" stroke-width="1.1" fill="none"/>
<circle cx="76" cy="653" r="1.8" fill="#c8102e"/>
<circle cx="76" cy="658.5" r="1.8" fill="#c8102e"/>
<circle cx="76" cy="664.6" r="1.8" fill="#c8102e"/>
<circle cx="76" cy="680" r="1.8" fill="#c8102e"/>
<circle cx="76" cy="686.7" r="1.8" fill="#c8102e"/>
<circle cx="76" cy="690" r="1.8" fill="#c8102e"/>
<rect x="90.8" y="654.6" width="14.400000000000006" height="22.5" fill="#86a8c8"/>
<path d="M98.0 644 V664.2 M95.0 644 H101.0 M95.0 664.2 H101.0" stroke="#1d5a93" stroke-width="1.1" fill="none"/>
<circle cx="95.6" cy="617.9" r="1.8" fill="#1d5a93"/>
<circle cx="99.4" cy="617.9" r="1.8" fill="#1d5a93"/>
<circle cx="97.9" cy="647.3" r="1.8" fill="#1d5a93"/>
<circle cx="97.9" cy="669.4" r="1.8" fill="#1d5a93"/>
<circle cx="97.9" cy="673.3" r="1.8" fill="#1d5a93"/>
<circle cx="95.9" cy="677.1" r="1.8" fill="#1d5a93"/>
<circle cx="99.9" cy="677.1" r="1.8" fill="#1d5a93"/>
<rect x="112.9" y="657.3" width="14.0" height="19.800000000000068" fill="#9ed69c"/>
<path d="M119.9 648.3 V665.2 M116.9 648.3 H122.9 M116.9 665.2 H122.9" stroke="#3ab54a" stroke-width="1.1" fill="none"/>
<circle cx="120" cy="621.3" r="1.8" fill="#3ab54a"/>
<circle cx="120" cy="630.6" r="1.8" fill="#3ab54a"/>
<circle cx="120" cy="658.8" r="1.8" fill="#3ab54a"/>
<circle cx="120" cy="667.5" r="1.8" fill="#3ab54a"/>
<circle cx="120" cy="672.3" r="1.8" fill="#3ab54a"/>
<circle cx="120" cy="679" r="1.8" fill="#3ab54a"/>
<rect x="134.6" y="634.8" width="14.200000000000017" height="42.30000000000007" fill="#ad93c3"/>
<path d="M141.7 627.1 V641.2 M138.7 627.1 H144.7 M138.7 641.2 H144.7" stroke="#5e3a87" stroke-width="1.1" fill="none"/>
<circle cx="141.7" cy="602.1" r="1.8" fill="#5e3a87"/>
<circle cx="139.2" cy="626.7" r="1.8" fill="#5e3a87"/>
<circle cx="143.7" cy="626.7" r="1.8" fill="#5e3a87"/>
<circle cx="141.7" cy="634.8" r="1.8" fill="#5e3a87"/>
<circle cx="140.5" cy="650" r="1.8" fill="#5e3a87"/>
<circle cx="142.8" cy="651.5" r="1.8" fill="#5e3a87"/>
<circle cx="141.5" cy="652.5" r="1.8" fill="#5e3a87"/>
<line x1="232.5" y1="593.5" x2="232.5" y2="691.2" stroke="#231f20" stroke-width="1.1"/>
<line x1="232.5" y1="691.2" x2="327.5" y2="691.2" stroke="#231f20" stroke-width="1.2"/>
<line x1="229.8" y1="689.90" x2="232.5" y2="689.90" stroke="#231f20" stroke-width="1"/>
<text x="226.3" y="692.8" font-size="8.91" text-anchor="end" font-weight="normal" fill="#231f20" stroke="#231f20" stroke-width="0.18" textLength="4.1" lengthAdjust="spacingAndGlyphs" >0</text>
<line x1="229.8" y1="658.65" x2="232.5" y2="658.65" stroke="#231f20" stroke-width="1"/>
<text x="226.3" y="661.55" font-size="8.91" text-anchor="end" font-weight="normal" fill="#231f20" stroke="#231f20" stroke-width="0.18" textLength="4.1" lengthAdjust="spacingAndGlyphs" >5</text>
<line x1="229.8" y1="627.40" x2="232.5" y2="627.40" stroke="#231f20" stroke-width="1"/>
<text x="226.3" y="630.3" font-size="8.91" text-anchor="end" font-weight="normal" fill="#231f20" stroke="#231f20" stroke-width="0.18" textLength="8.4" lengthAdjust="spacingAndGlyphs" >10</text>
<line x1="229.8" y1="596.15" x2="232.5" y2="596.15" stroke="#231f20" stroke-width="1"/>
<text x="226.3" y="599.05" font-size="8.91" text-anchor="end" font-weight="normal" fill="#231f20" stroke="#231f20" stroke-width="0.18" textLength="8.4" lengthAdjust="spacingAndGlyphs" >15</text>
<text transform="translate(212.9,642.5) rotate(-90)" x="0" y="0" font-size="8.1" text-anchor="middle" fill="#231f20" textLength="71" lengthAdjust="spacingAndGlyphs">Lesion volume (mm<tspan font-size="5.5" dy="-3">3</tspan><tspan dy="3">)</tspan></text>
<path d="M246.5 599.4 V596.7 H313.3 V599.4" fill="none" stroke="#231f20" stroke-width="0.9"/>
<text x="280.2" y="596.8" font-size="9.35" text-anchor="middle" font-weight="normal" fill="#231f20" stroke="#231f20" stroke-width="0.18" >**</text>
<rect x="239.8" y="624.4" width="14.799999999999983" height="66.80000000000007" fill="#e88e9e"/>
<path d="M247.2 611 V637.9 M244.2 611 H250.2 M244.2 637.9 H250.2" stroke="#c8102e" stroke-width="1.1" fill="none"/>
<circle cx="247.1" cy="603.4" r="1.8" fill="#c8102e"/>
<circle cx="247.1" cy="612.3" r="1.8" fill="#c8102e"/>
<circle cx="247.1" cy="616.3" r="1.8" fill="#c8102e"/>
<circle cx="247.1" cy="620.9" r="1.8" fill="#c8102e"/>
<circle cx="247.1" cy="629.8" r="1.8" fill="#c8102e"/>
<circle cx="245.2" cy="637.9" r="1.8" fill="#c8102e"/>
<circle cx="249.2" cy="637.9" r="1.8" fill="#c8102e"/>
<rect x="262.2" y="630.6" width="14.0" height="60.60000000000002" fill="#86a8c8"/>
<path d="M269.2 606.4 V653.2 M266.2 606.4 H272.2 M266.2 653.2 H272.2" stroke="#1d5a93" stroke-width="1.1" fill="none"/>
<circle cx="268.9" cy="603.4" r="1.8" fill="#1d5a93"/>
<circle cx="268.9" cy="609.1" r="1.8" fill="#1d5a93"/>
<circle cx="268.9" cy="616.3" r="1.8" fill="#1d5a93"/>
<circle cx="268.9" cy="645.2" r="1.8" fill="#1d5a93"/>
<circle cx="268.9" cy="651.4" r="1.8" fill="#1d5a93"/>
<circle cx="268.9" cy="658.1" r="1.8" fill="#1d5a93"/>
<rect x="284.2" y="633" width="13.5" height="58.200000000000045" fill="#9ed69c"/>
<path d="M290.95 607.7 V657.5 M287.95 607.7 H293.95 M287.95 657.5 H293.95" stroke="#3ab54a" stroke-width="1.1" fill="none"/>
<circle cx="291" cy="619.8" r="1.8" fill="#3ab54a"/>
<circle cx="291" cy="628.5" r="1.8" fill="#3ab54a"/>
<circle cx="289.2" cy="645.2" r="1.8" fill="#3ab54a"/>
<circle cx="292.8" cy="645.2" r="1.8" fill="#3ab54a"/>
<circle cx="291" cy="663.5" r="1.8" fill="#3ab54a"/>
<rect x="306.3" y="656.7" width="13.699999999999989" height="34.5" fill="#ad93c3"/>
<path d="M313.15 641.4 V669.4 M310.15 641.4 H316.15 M310.15 669.4 H316.15" stroke="#5e3a87" stroke-width="1.1" fill="none"/>
<circle cx="311.5" cy="641.4" r="1.8" fill="#5e3a87"/>
<circle cx="314.5" cy="641.4" r="1.8" fill="#5e3a87"/>
<circle cx="313" cy="648.1" r="1.8" fill="#5e3a87"/>
<circle cx="313" cy="659.4" r="1.8" fill="#5e3a87"/>
<circle cx="313" cy="666.2" r="1.8" fill="#5e3a87"/>
<circle cx="313" cy="675.6" r="1.8" fill="#5e3a87"/>
<circle cx="333.2" cy="605.2" r="1.5" fill="#c8102e"/>
<text x="337.7" y="607.8000000000001" font-size="8.80" text-anchor="start" font-weight="normal" fill="#231f20" stroke="#231f20" stroke-width="0.18" textLength="23.6" lengthAdjust="spacingAndGlyphs" >Vehicle</text>
<circle cx="333.2" cy="615.5" r="1.5" fill="#1d5a93"/>
<text x="337.7" y="618.1" font-size="8.80" text-anchor="start" font-weight="normal" fill="#231f20" stroke="#231f20" stroke-width="0.18" textLength="16" lengthAdjust="spacingAndGlyphs" >NAC</text>
<circle cx="333.2" cy="625.8" r="1.5" fill="#3ab54a"/>
<text x="337.7" y="628.4000000000001" font-size="8.80" text-anchor="start" font-weight="normal" fill="#231f20" stroke="#231f20" stroke-width="0.18" textLength="47.3" lengthAdjust="spacingAndGlyphs" >wtADAMTS13</text>
<circle cx="333.2" cy="636.1" r="1.5" fill="#5e3a87"/>
<text x="337.7" y="638.7" font-size="8.80" text-anchor="start" font-weight="normal" fill="#231f20" stroke="#231f20" stroke-width="0.18" textLength="46.1" lengthAdjust="spacingAndGlyphs" >caADAMTS13</text>
<rect x="0.5" y="0.5" width="519" height="701" fill="none" stroke="#000" stroke-width="1.2"/>
</svg></body></html>
